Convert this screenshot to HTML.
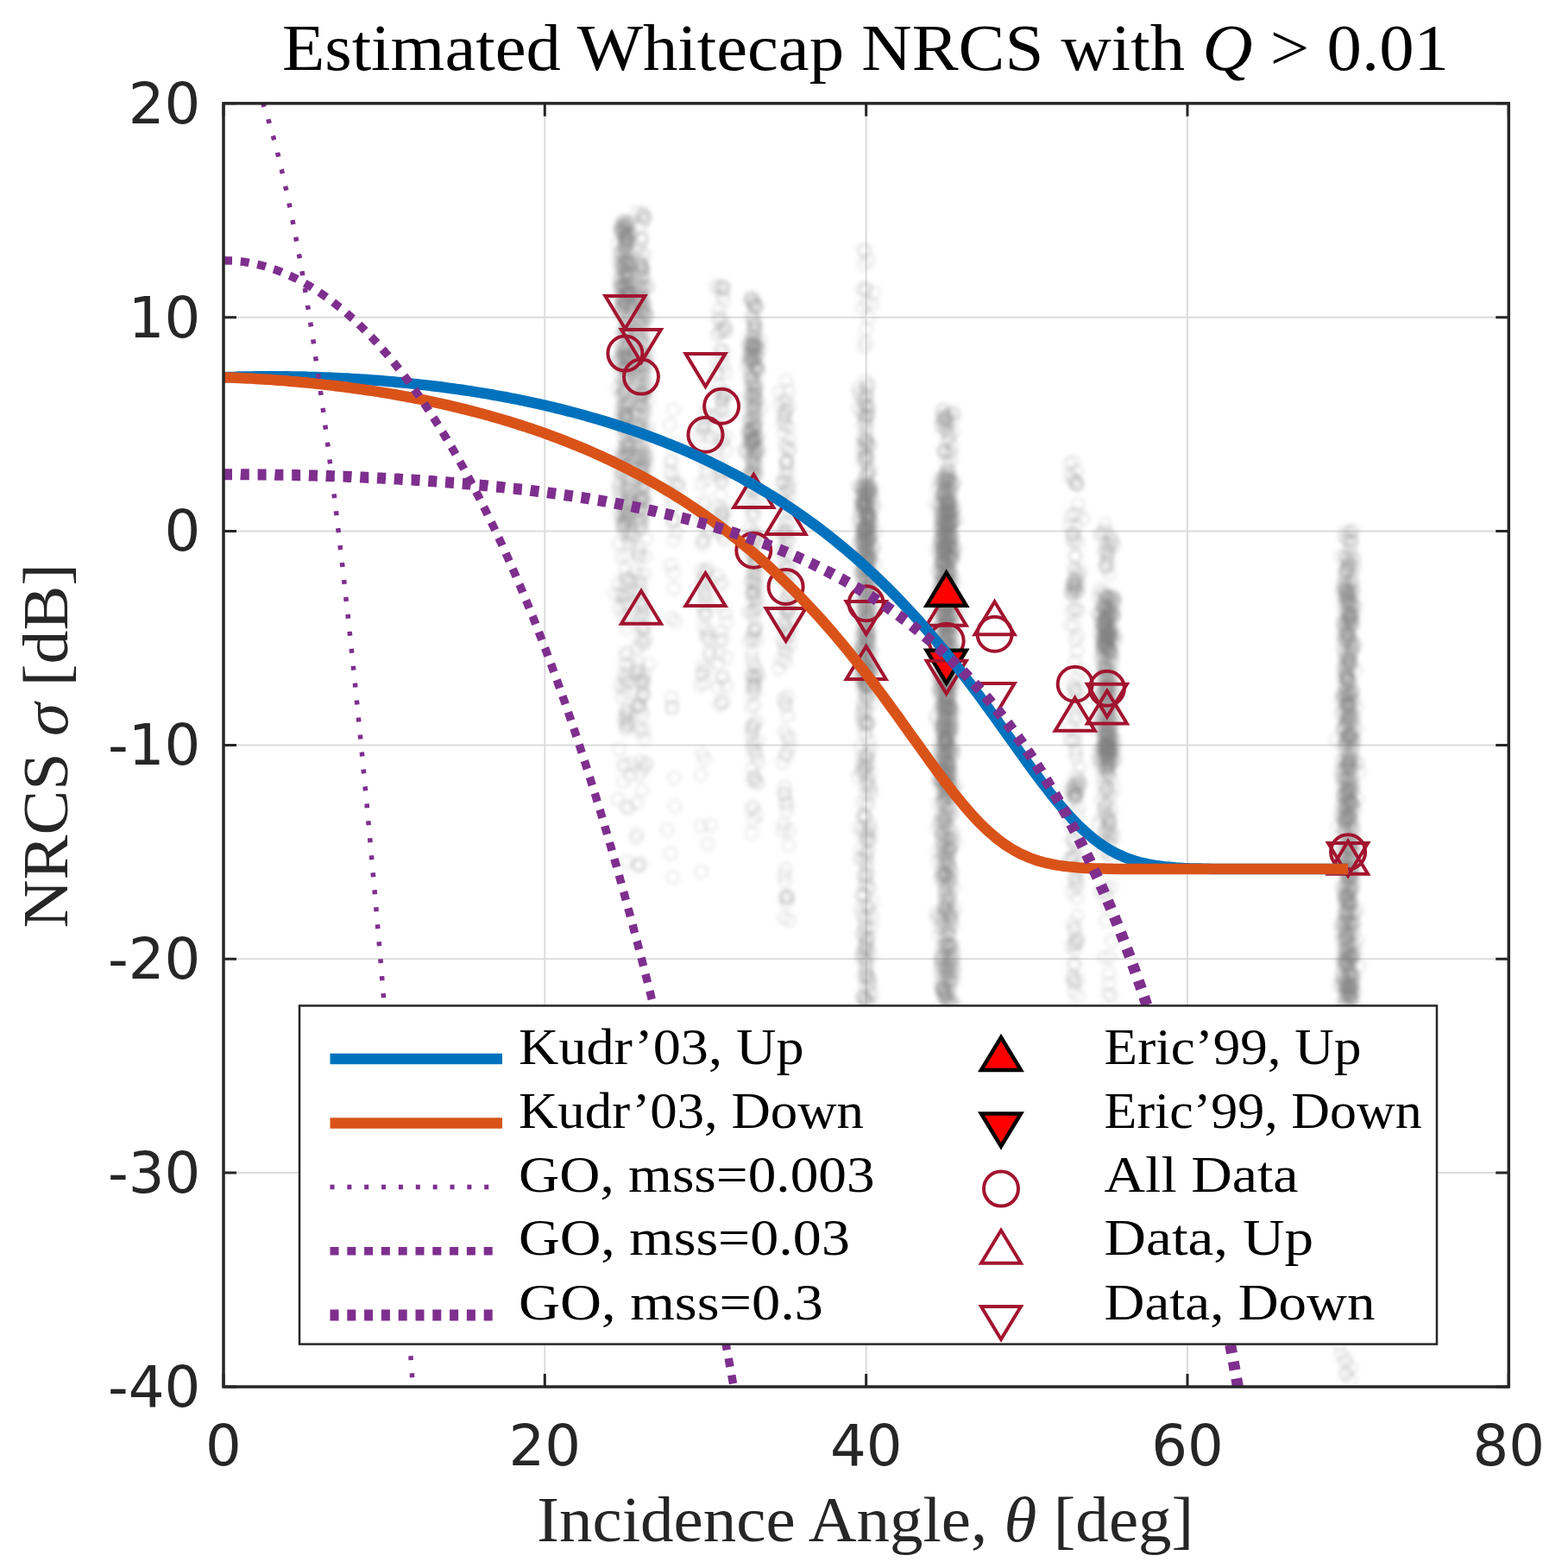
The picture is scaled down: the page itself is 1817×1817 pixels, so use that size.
<!DOCTYPE html><html><head><meta charset="utf-8"><title>Estimated Whitecap NRCS</title><style>html,body{margin:0;padding:0;background:#fff}svg{display:block}</style></head><body>
<svg width="1817" height="1817" viewBox="0 0 1817 1817">
<rect width="1817" height="1817" fill="#fff"/>
<defs><clipPath id="ax"><rect x="259" y="119.8" width="1489.3" height="1487.2"/></clipPath></defs>
<path d="M631.3 119.8V1607M1003.7 119.8V1607M1376 119.8V1607M259 367.7H1748.3M259 615.5H1748.3M259 863.4H1748.3M259 1111.3H1748.3M259 1359.1H1748.3" stroke="#dcdcdc" stroke-width="2" fill="none"/>
<defs><filter id="bl" x="-5%" y="-5%" width="110%" height="110%"><feGaussianBlur stdDeviation="2.2"/></filter></defs>
<g clip-path="url(#ax)"><g filter="url(#bl)" fill="none" stroke="#808080" stroke-opacity="0.11" stroke-width="4"><circle cx="723.5" cy="317.2" r="7"/><circle cx="726.2" cy="262.8" r="7"/><circle cx="721.2" cy="261.5" r="7"/><circle cx="723.7" cy="303.7" r="7"/><circle cx="728" cy="262.6" r="7"/><circle cx="725.3" cy="264.5" r="7"/><circle cx="718.6" cy="267.6" r="7"/><circle cx="727.4" cy="277" r="7"/><circle cx="718.5" cy="310.2" r="7"/><circle cx="718.3" cy="293.3" r="7"/><circle cx="725.5" cy="336.7" r="7"/><circle cx="724.2" cy="283.2" r="7"/><circle cx="725.5" cy="285" r="7"/><circle cx="725.8" cy="332.7" r="7"/><circle cx="726.4" cy="316.1" r="7"/><circle cx="728.6" cy="291" r="7"/><circle cx="723.2" cy="261.6" r="7"/><circle cx="724" cy="275.4" r="7"/><circle cx="722.8" cy="285.5" r="7"/><circle cx="721.1" cy="311" r="7"/><circle cx="721.6" cy="330.7" r="7"/><circle cx="725.3" cy="321.7" r="7"/><circle cx="724.6" cy="305.4" r="7"/><circle cx="729" cy="338.3" r="7"/><circle cx="724" cy="348.1" r="7"/><circle cx="721.5" cy="267.1" r="7"/><circle cx="719.3" cy="270.3" r="7"/><circle cx="727.3" cy="302" r="7"/><circle cx="729.4" cy="327.9" r="7"/><circle cx="725.7" cy="309.9" r="7"/><circle cx="726.6" cy="321.4" r="7"/><circle cx="722.3" cy="311.9" r="7"/><circle cx="721" cy="335" r="7"/><circle cx="722.5" cy="344.8" r="7"/><circle cx="719.3" cy="261.7" r="7"/><circle cx="725.2" cy="321.9" r="7"/><circle cx="717.8" cy="333.3" r="7"/><circle cx="715.6" cy="282.8" r="7"/><circle cx="720.5" cy="258.1" r="7"/><circle cx="727.8" cy="299.4" r="7"/><circle cx="725.3" cy="261.5" r="7"/><circle cx="725.9" cy="328.2" r="7"/><circle cx="726.2" cy="292.7" r="7"/><circle cx="726.3" cy="337.9" r="7"/><circle cx="727.7" cy="307.6" r="7"/><circle cx="726.3" cy="339" r="7"/><circle cx="727.4" cy="282.2" r="7"/><circle cx="718.1" cy="295" r="7"/><circle cx="719.8" cy="346" r="7"/><circle cx="730" cy="270.2" r="7"/><circle cx="725.5" cy="277.9" r="7"/><circle cx="726.7" cy="301.6" r="7"/><circle cx="722.1" cy="256.4" r="7"/><circle cx="723" cy="295.4" r="7"/><circle cx="721.3" cy="345.6" r="7"/><circle cx="727.7" cy="320.9" r="7"/><circle cx="719.6" cy="319.6" r="7"/><circle cx="723.9" cy="261.1" r="7"/><circle cx="729.3" cy="338.2" r="7"/><circle cx="720.8" cy="331" r="7"/><circle cx="721.7" cy="265.7" r="7"/><circle cx="726.6" cy="315.6" r="7"/><circle cx="725.6" cy="275.6" r="7"/><circle cx="724.9" cy="271.3" r="7"/><circle cx="723.8" cy="256" r="7"/><circle cx="725.4" cy="270.2" r="7"/><circle cx="727.1" cy="258.4" r="7"/><circle cx="726.4" cy="338.2" r="7"/><circle cx="722.9" cy="279.7" r="7"/><circle cx="723.1" cy="288.7" r="7"/><circle cx="723.2" cy="335.8" r="7"/><circle cx="725.8" cy="349.4" r="7"/><circle cx="720.5" cy="264.1" r="7"/><circle cx="725.3" cy="265.6" r="7"/><circle cx="722.9" cy="333.9" r="7"/><circle cx="726.7" cy="271.2" r="7"/><circle cx="732.9" cy="305.7" r="7"/><circle cx="725.6" cy="269.8" r="7"/><circle cx="723.6" cy="305.6" r="7"/><circle cx="724.2" cy="348" r="7"/><circle cx="727.9" cy="280.5" r="7"/><circle cx="720.3" cy="290.5" r="7"/><circle cx="727.4" cy="306.1" r="7"/><circle cx="729.6" cy="329.2" r="7"/><circle cx="723.2" cy="332.3" r="7"/><circle cx="726.6" cy="348.6" r="7"/><circle cx="728.2" cy="332.9" r="7"/><circle cx="719.3" cy="325.5" r="7"/><circle cx="725" cy="289.4" r="7"/><circle cx="728.6" cy="258.7" r="7"/><circle cx="727.2" cy="280.4" r="7"/><circle cx="724.9" cy="321.1" r="7"/><circle cx="728.1" cy="344.1" r="7"/><circle cx="723.4" cy="348.9" r="7"/><circle cx="727.6" cy="276.7" r="7"/><circle cx="723.5" cy="277.3" r="7"/><circle cx="725.2" cy="314.7" r="7"/><circle cx="726.6" cy="340.6" r="7"/><circle cx="726.6" cy="317.4" r="7"/><circle cx="721" cy="331.2" r="7"/><circle cx="728.8" cy="341.5" r="7"/><circle cx="727" cy="329.5" r="7"/><circle cx="724.4" cy="272.8" r="7"/><circle cx="720.4" cy="330.2" r="7"/><circle cx="721.3" cy="347.3" r="7"/><circle cx="729.9" cy="293.2" r="7"/><circle cx="717.5" cy="324.1" r="7"/><circle cx="729.3" cy="272" r="7"/><circle cx="725.8" cy="341.1" r="7"/><circle cx="725.8" cy="331.8" r="7"/><circle cx="728.4" cy="348.1" r="7"/><circle cx="729.6" cy="317.8" r="7"/><circle cx="721.8" cy="268.3" r="7"/><circle cx="728" cy="257.3" r="7"/><circle cx="729.4" cy="305.5" r="7"/><circle cx="723.5" cy="343.8" r="7"/><circle cx="717.9" cy="333.7" r="7"/><circle cx="727.3" cy="275.8" r="7"/><circle cx="724.4" cy="278.6" r="7"/><circle cx="727.3" cy="311.1" r="7"/><circle cx="724.2" cy="268.3" r="7"/><circle cx="728" cy="341.5" r="7"/><circle cx="722.1" cy="310.8" r="7"/><circle cx="727.5" cy="341" r="7"/><circle cx="717.5" cy="303.2" r="7"/><circle cx="728.1" cy="306" r="7"/><circle cx="723.7" cy="297.4" r="7"/><circle cx="724.3" cy="273.2" r="7"/><circle cx="730.7" cy="272.2" r="7"/><circle cx="724.6" cy="300.5" r="7"/><circle cx="723.7" cy="286.6" r="7"/><circle cx="720" cy="304.7" r="7"/><circle cx="718.6" cy="266" r="7"/><circle cx="722.3" cy="308.7" r="7"/><circle cx="724.4" cy="328.6" r="7"/><circle cx="727.2" cy="303.7" r="7"/><circle cx="718.9" cy="341.8" r="7"/><circle cx="722.2" cy="297.7" r="7"/><circle cx="721.2" cy="304.1" r="7"/><circle cx="721.7" cy="321.1" r="7"/><circle cx="720.3" cy="474.3" r="7"/><circle cx="725.7" cy="594.8" r="7"/><circle cx="722.2" cy="595" r="7"/><circle cx="717.6" cy="417.5" r="7"/><circle cx="716.6" cy="568.4" r="7"/><circle cx="721.3" cy="385.7" r="7"/><circle cx="727.1" cy="368.9" r="7"/><circle cx="727" cy="412.6" r="7"/><circle cx="729.1" cy="553.8" r="7"/><circle cx="726.7" cy="583.2" r="7"/><circle cx="727.5" cy="521.7" r="7"/><circle cx="729" cy="387.2" r="7"/><circle cx="731.2" cy="407.1" r="7"/><circle cx="718.3" cy="597.7" r="7"/><circle cx="721.2" cy="607.4" r="7"/><circle cx="726.8" cy="566.4" r="7"/><circle cx="726.4" cy="484.1" r="7"/><circle cx="727.6" cy="438.2" r="7"/><circle cx="725.4" cy="537.8" r="7"/><circle cx="727.3" cy="355.1" r="7"/><circle cx="720.8" cy="354.7" r="7"/><circle cx="723.1" cy="436.2" r="7"/><circle cx="721.4" cy="366.7" r="7"/><circle cx="721.5" cy="606.1" r="7"/><circle cx="726.6" cy="377.2" r="7"/><circle cx="715.3" cy="419" r="7"/><circle cx="730.3" cy="420.3" r="7"/><circle cx="725.9" cy="383.7" r="7"/><circle cx="717.6" cy="562.9" r="7"/><circle cx="728" cy="417.2" r="7"/><circle cx="729" cy="498.4" r="7"/><circle cx="730.7" cy="532.1" r="7"/><circle cx="725.4" cy="528.9" r="7"/><circle cx="725" cy="460.6" r="7"/><circle cx="731.8" cy="515" r="7"/><circle cx="728" cy="558.4" r="7"/><circle cx="730.4" cy="367.3" r="7"/><circle cx="727.9" cy="574.3" r="7"/><circle cx="721.4" cy="493.8" r="7"/><circle cx="725.3" cy="590.9" r="7"/><circle cx="724.2" cy="487" r="7"/><circle cx="726.2" cy="412" r="7"/><circle cx="726" cy="363.1" r="7"/><circle cx="725.7" cy="402.5" r="7"/><circle cx="723.3" cy="547.5" r="7"/><circle cx="727.2" cy="425.4" r="7"/><circle cx="722.2" cy="440.2" r="7"/><circle cx="724.4" cy="354.7" r="7"/><circle cx="724.4" cy="540.6" r="7"/><circle cx="725" cy="493.3" r="7"/><circle cx="725.9" cy="593" r="7"/><circle cx="728.1" cy="377.6" r="7"/><circle cx="726" cy="478.7" r="7"/><circle cx="721" cy="567" r="7"/><circle cx="721.1" cy="528.8" r="7"/><circle cx="727" cy="605.4" r="7"/><circle cx="720.8" cy="533.7" r="7"/><circle cx="729.9" cy="515.4" r="7"/><circle cx="721.7" cy="364.1" r="7"/><circle cx="726.2" cy="383.8" r="7"/><circle cx="729.6" cy="416.5" r="7"/><circle cx="726.9" cy="392.4" r="7"/><circle cx="730.2" cy="576.3" r="7"/><circle cx="727.8" cy="524.3" r="7"/><circle cx="723.9" cy="426.2" r="7"/><circle cx="727" cy="469.5" r="7"/><circle cx="726.5" cy="418.4" r="7"/><circle cx="727.6" cy="600.1" r="7"/><circle cx="728.7" cy="413.6" r="7"/><circle cx="723.7" cy="601.1" r="7"/><circle cx="723.2" cy="350.3" r="7"/><circle cx="727.5" cy="449.2" r="7"/><circle cx="720.3" cy="402.3" r="7"/><circle cx="725.1" cy="481.2" r="7"/><circle cx="727.1" cy="373.3" r="7"/><circle cx="724.5" cy="453.9" r="7"/><circle cx="725.1" cy="429.1" r="7"/><circle cx="724.6" cy="410.5" r="7"/><circle cx="720.7" cy="545.1" r="7"/><circle cx="722.2" cy="521" r="7"/><circle cx="722.9" cy="451.3" r="7"/><circle cx="717.4" cy="434.8" r="7"/><circle cx="726.4" cy="538.3" r="7"/><circle cx="724.2" cy="517.2" r="7"/><circle cx="730.8" cy="581.9" r="7"/><circle cx="726.2" cy="513.1" r="7"/><circle cx="723.8" cy="386.2" r="7"/><circle cx="718" cy="486.2" r="7"/><circle cx="717.8" cy="559.2" r="7"/><circle cx="724.2" cy="564.9" r="7"/><circle cx="718" cy="527.6" r="7"/><circle cx="720.7" cy="530.3" r="7"/><circle cx="724.5" cy="384.6" r="7"/><circle cx="725.3" cy="443.8" r="7"/><circle cx="729.7" cy="495.2" r="7"/><circle cx="728.5" cy="513.2" r="7"/><circle cx="720.7" cy="477.2" r="7"/><circle cx="720.6" cy="350.9" r="7"/><circle cx="726.1" cy="480.8" r="7"/><circle cx="718.9" cy="489.2" r="7"/><circle cx="723.7" cy="541.6" r="7"/><circle cx="723.3" cy="415.6" r="7"/><circle cx="726.9" cy="539.6" r="7"/><circle cx="725.6" cy="403.4" r="7"/><circle cx="723.8" cy="478.4" r="7"/><circle cx="714.9" cy="449.5" r="7"/><circle cx="719.1" cy="549.4" r="7"/><circle cx="725.1" cy="510.4" r="7"/><circle cx="723.5" cy="388.3" r="7"/><circle cx="723.3" cy="416" r="7"/><circle cx="724.3" cy="497.6" r="7"/><circle cx="721.4" cy="353.2" r="7"/><circle cx="727" cy="524.7" r="7"/><circle cx="725.4" cy="530" r="7"/><circle cx="723.1" cy="484.3" r="7"/><circle cx="721.8" cy="470.8" r="7"/><circle cx="722.7" cy="582.4" r="7"/><circle cx="724.8" cy="401.8" r="7"/><circle cx="732.5" cy="354.6" r="7"/><circle cx="723.3" cy="469.3" r="7"/><circle cx="728.3" cy="466.9" r="7"/><circle cx="716.1" cy="419.9" r="7"/><circle cx="726.5" cy="404.8" r="7"/><circle cx="732.6" cy="501.2" r="7"/><circle cx="727.1" cy="597.7" r="7"/><circle cx="727.7" cy="384.5" r="7"/><circle cx="726.2" cy="580.6" r="7"/><circle cx="720.6" cy="532.9" r="7"/><circle cx="725.3" cy="476.4" r="7"/><circle cx="731.8" cy="356.5" r="7"/><circle cx="728.5" cy="467.2" r="7"/><circle cx="724.5" cy="428.5" r="7"/><circle cx="726.4" cy="432.2" r="7"/><circle cx="726.9" cy="568.5" r="7"/><circle cx="730.2" cy="568.2" r="7"/><circle cx="724.5" cy="381.2" r="7"/><circle cx="729.4" cy="584.4" r="7"/><circle cx="721.9" cy="425.4" r="7"/><circle cx="722" cy="609.7" r="7"/><circle cx="726.9" cy="503.2" r="7"/><circle cx="722" cy="421.5" r="7"/><circle cx="727.2" cy="362.5" r="7"/><circle cx="729.7" cy="424.3" r="7"/><circle cx="728.4" cy="593.3" r="7"/><circle cx="724.4" cy="482.9" r="7"/><circle cx="727.2" cy="399.4" r="7"/><circle cx="718.3" cy="579.9" r="7"/><circle cx="730.7" cy="561.1" r="7"/><circle cx="719.1" cy="594.6" r="7"/><circle cx="718.7" cy="492.8" r="7"/><circle cx="724.2" cy="540.4" r="7"/><circle cx="723.3" cy="467.2" r="7"/><circle cx="724.5" cy="424.4" r="7"/><circle cx="719.4" cy="362.7" r="7"/><circle cx="726" cy="472.8" r="7"/><circle cx="723.6" cy="439.4" r="7"/><circle cx="722.7" cy="603.8" r="7"/><circle cx="729.9" cy="417.6" r="7"/><circle cx="722.8" cy="494.9" r="7"/><circle cx="721.9" cy="452.5" r="7"/><circle cx="725.4" cy="404" r="7"/><circle cx="726.2" cy="585.5" r="7"/><circle cx="721.9" cy="585.6" r="7"/><circle cx="724.5" cy="609.1" r="7"/><circle cx="722.6" cy="400" r="7"/><circle cx="725" cy="373.6" r="7"/><circle cx="723.6" cy="412.2" r="7"/><circle cx="725.7" cy="417.2" r="7"/><circle cx="717.8" cy="544.9" r="7"/><circle cx="721.3" cy="457.3" r="7"/><circle cx="720.7" cy="448" r="7"/><circle cx="726.6" cy="437.9" r="7"/><circle cx="727" cy="601.6" r="7"/><circle cx="725.5" cy="382.7" r="7"/><circle cx="719.5" cy="574.3" r="7"/><circle cx="724.3" cy="406.2" r="7"/><circle cx="724.1" cy="453.9" r="7"/><circle cx="727" cy="465.9" r="7"/><circle cx="730.9" cy="577" r="7"/><circle cx="722.5" cy="355.7" r="7"/><circle cx="729.8" cy="582.9" r="7"/><circle cx="725.5" cy="473" r="7"/><circle cx="724.3" cy="451.8" r="7"/><circle cx="724.4" cy="591" r="7"/><circle cx="727.6" cy="602.8" r="7"/><circle cx="718.3" cy="414.6" r="7"/><circle cx="726" cy="485.8" r="7"/><circle cx="725.7" cy="527.3" r="7"/><circle cx="729.6" cy="518.3" r="7"/><circle cx="722.4" cy="548.8" r="7"/><circle cx="720.1" cy="360.3" r="7"/><circle cx="725.6" cy="553.4" r="7"/><circle cx="725.3" cy="517.8" r="7"/><circle cx="732.2" cy="429" r="7"/><circle cx="726.3" cy="515.4" r="7"/><circle cx="726.3" cy="531.6" r="7"/><circle cx="725.4" cy="486.4" r="7"/><circle cx="725.3" cy="501.6" r="7"/><circle cx="722.5" cy="506.3" r="7"/><circle cx="726" cy="352.7" r="7"/><circle cx="723.2" cy="599.3" r="7"/><circle cx="728.1" cy="517.6" r="7"/><circle cx="727.4" cy="411" r="7"/><circle cx="721.8" cy="414.2" r="7"/><circle cx="729.7" cy="429.9" r="7"/><circle cx="723.1" cy="355.7" r="7"/><circle cx="719.2" cy="459.2" r="7"/><circle cx="724.5" cy="416.9" r="7"/><circle cx="720.5" cy="409" r="7"/><circle cx="717.5" cy="358.9" r="7"/><circle cx="722.5" cy="527.5" r="7"/><circle cx="727.5" cy="401.5" r="7"/><circle cx="726.1" cy="481.3" r="7"/><circle cx="718.9" cy="403.4" r="7"/><circle cx="727.4" cy="563.2" r="7"/><circle cx="723.8" cy="410" r="7"/><circle cx="725.5" cy="426.7" r="7"/><circle cx="730.2" cy="597.5" r="7"/><circle cx="722.2" cy="408.1" r="7"/><circle cx="724.5" cy="458.4" r="7"/><circle cx="720.1" cy="645.1" r="7"/><circle cx="717.1" cy="704.4" r="7"/><circle cx="726.6" cy="644.1" r="7"/><circle cx="733.6" cy="622.4" r="7"/><circle cx="727.7" cy="825.6" r="7"/><circle cx="725.7" cy="822.1" r="7"/><circle cx="723.1" cy="833.6" r="7"/><circle cx="712.3" cy="689" r="7"/><circle cx="727.6" cy="789.1" r="7"/><circle cx="731.9" cy="617.7" r="7"/><circle cx="722.7" cy="699.7" r="7"/><circle cx="721.5" cy="689.6" r="7"/><circle cx="724.5" cy="677.2" r="7"/><circle cx="724.6" cy="694.4" r="7"/><circle cx="726.1" cy="841.4" r="7"/><circle cx="723.9" cy="659.8" r="7"/><circle cx="720.4" cy="807.3" r="7"/><circle cx="729.5" cy="713.8" r="7"/><circle cx="728.2" cy="699.5" r="7"/><circle cx="725.6" cy="830.7" r="7"/><circle cx="725.6" cy="825.3" r="7"/><circle cx="727.5" cy="617.3" r="7"/><circle cx="719" cy="794" r="7"/><circle cx="727.8" cy="619.8" r="7"/><circle cx="725.6" cy="830.8" r="7"/><circle cx="724.7" cy="671.7" r="7"/><circle cx="724.3" cy="691.4" r="7"/><circle cx="716.9" cy="675.4" r="7"/><circle cx="729.1" cy="672.9" r="7"/><circle cx="723.1" cy="782" r="7"/><circle cx="723.3" cy="610.9" r="7"/><circle cx="727" cy="791.4" r="7"/><circle cx="728.7" cy="836.4" r="7"/><circle cx="721.9" cy="615.8" r="7"/><circle cx="724.8" cy="839.6" r="7"/><circle cx="728.4" cy="838.9" r="7"/><circle cx="722.4" cy="713.2" r="7"/><circle cx="726.1" cy="728.4" r="7"/><circle cx="726.4" cy="802.6" r="7"/><circle cx="723.4" cy="787.2" r="7"/><circle cx="727.1" cy="755.7" r="7"/><circle cx="719" cy="688.7" r="7"/><circle cx="723" cy="797.7" r="7"/><circle cx="727.4" cy="629" r="7"/><circle cx="726.3" cy="669.4" r="7"/><circle cx="729.9" cy="625.5" r="7"/><circle cx="728.7" cy="688.2" r="7"/><circle cx="725.3" cy="845.3" r="7"/><circle cx="732.1" cy="673.6" r="7"/><circle cx="717.5" cy="630.2" r="7"/><circle cx="727.8" cy="780.3" r="7"/><circle cx="726.7" cy="717.3" r="7"/><circle cx="724.8" cy="758.9" r="7"/><circle cx="728" cy="771.8" r="7"/><circle cx="724.3" cy="769.5" r="7"/><circle cx="717.6" cy="868.2" r="7"/><circle cx="726" cy="935" r="7"/><circle cx="722" cy="905.9" r="7"/><circle cx="724.2" cy="887.1" r="7"/><circle cx="722.1" cy="886.8" r="7"/><circle cx="728.6" cy="936.7" r="7"/><circle cx="730.4" cy="899" r="7"/><circle cx="715.7" cy="926.1" r="7"/><circle cx="731.1" cy="884.7" r="7"/><circle cx="726.2" cy="998.6" r="7"/><circle cx="738.3" cy="246.1" r="7"/><circle cx="736.6" cy="290.4" r="7"/><circle cx="744" cy="294.9" r="7"/><circle cx="745.8" cy="247.2" r="7"/><circle cx="743.8" cy="251.4" r="7"/><circle cx="747.6" cy="295.8" r="7"/><circle cx="742.2" cy="262.3" r="7"/><circle cx="745.6" cy="255.6" r="7"/><circle cx="740.2" cy="286.7" r="7"/><circle cx="744.6" cy="275.8" r="7"/><circle cx="742.5" cy="277.2" r="7"/><circle cx="743.7" cy="248.5" r="7"/><circle cx="746.3" cy="252.2" r="7"/><circle cx="742.9" cy="279.1" r="7"/><circle cx="747.8" cy="252.2" r="7"/><circle cx="746.1" cy="510.3" r="7"/><circle cx="743.2" cy="357.4" r="7"/><circle cx="742.1" cy="546.5" r="7"/><circle cx="745.2" cy="469.9" r="7"/><circle cx="744.5" cy="422.5" r="7"/><circle cx="743.6" cy="470.5" r="7"/><circle cx="742" cy="350.7" r="7"/><circle cx="741.8" cy="515.6" r="7"/><circle cx="740.6" cy="395.4" r="7"/><circle cx="744.6" cy="595.5" r="7"/><circle cx="741.3" cy="410.7" r="7"/><circle cx="747.2" cy="429.1" r="7"/><circle cx="750.8" cy="412.8" r="7"/><circle cx="734.1" cy="361.1" r="7"/><circle cx="742.7" cy="301.8" r="7"/><circle cx="740.7" cy="579.5" r="7"/><circle cx="737.3" cy="425.9" r="7"/><circle cx="746" cy="573.7" r="7"/><circle cx="741" cy="304.6" r="7"/><circle cx="743.5" cy="471" r="7"/><circle cx="738.2" cy="327.6" r="7"/><circle cx="737.1" cy="492.9" r="7"/><circle cx="740.2" cy="345.2" r="7"/><circle cx="746" cy="387.8" r="7"/><circle cx="735.1" cy="333.7" r="7"/><circle cx="742" cy="452.1" r="7"/><circle cx="746.1" cy="361.2" r="7"/><circle cx="734.4" cy="339.3" r="7"/><circle cx="752" cy="449.6" r="7"/><circle cx="739.7" cy="316.5" r="7"/><circle cx="746.1" cy="580.3" r="7"/><circle cx="741.5" cy="492.3" r="7"/><circle cx="744" cy="543.6" r="7"/><circle cx="741.2" cy="368.8" r="7"/><circle cx="737.4" cy="557" r="7"/><circle cx="746.8" cy="356.7" r="7"/><circle cx="743.7" cy="460.5" r="7"/><circle cx="746.5" cy="418.9" r="7"/><circle cx="744.9" cy="524.7" r="7"/><circle cx="744.9" cy="578.2" r="7"/><circle cx="747.4" cy="534.8" r="7"/><circle cx="744.2" cy="311.8" r="7"/><circle cx="743.9" cy="485.9" r="7"/><circle cx="741.5" cy="470.5" r="7"/><circle cx="740.9" cy="430.2" r="7"/><circle cx="740.9" cy="480.6" r="7"/><circle cx="738.4" cy="438.5" r="7"/><circle cx="745.3" cy="435.9" r="7"/><circle cx="747.8" cy="451.7" r="7"/><circle cx="743.7" cy="372.9" r="7"/><circle cx="743.5" cy="442.1" r="7"/><circle cx="737" cy="355.7" r="7"/><circle cx="741.4" cy="339.8" r="7"/><circle cx="743.3" cy="433.5" r="7"/><circle cx="746.2" cy="458.1" r="7"/><circle cx="745.1" cy="312.6" r="7"/><circle cx="742.1" cy="527.4" r="7"/><circle cx="741.9" cy="541.1" r="7"/><circle cx="741.9" cy="456.2" r="7"/><circle cx="742.9" cy="417.1" r="7"/><circle cx="744.8" cy="565.7" r="7"/><circle cx="742.4" cy="608.8" r="7"/><circle cx="742.3" cy="360" r="7"/><circle cx="736.6" cy="604.3" r="7"/><circle cx="734.3" cy="584" r="7"/><circle cx="743.5" cy="351.2" r="7"/><circle cx="745" cy="320.3" r="7"/><circle cx="735.2" cy="408.8" r="7"/><circle cx="743.1" cy="577.9" r="7"/><circle cx="741" cy="385.2" r="7"/><circle cx="743.8" cy="455.7" r="7"/><circle cx="741.2" cy="585.2" r="7"/><circle cx="743.7" cy="456.9" r="7"/><circle cx="745.7" cy="398.9" r="7"/><circle cx="745.2" cy="350" r="7"/><circle cx="743.5" cy="590.3" r="7"/><circle cx="739.8" cy="352.3" r="7"/><circle cx="736.3" cy="543.3" r="7"/><circle cx="746.3" cy="497.3" r="7"/><circle cx="745.9" cy="411.5" r="7"/><circle cx="746.1" cy="479.8" r="7"/><circle cx="739.8" cy="573.6" r="7"/><circle cx="751.7" cy="495.2" r="7"/><circle cx="749.8" cy="422.2" r="7"/><circle cx="743.8" cy="607.1" r="7"/><circle cx="740.4" cy="479" r="7"/><circle cx="739.2" cy="437.1" r="7"/><circle cx="747.6" cy="354.8" r="7"/><circle cx="743" cy="554.1" r="7"/><circle cx="741.9" cy="378.6" r="7"/><circle cx="736.6" cy="481.6" r="7"/><circle cx="735.3" cy="505.7" r="7"/><circle cx="742.9" cy="310.5" r="7"/><circle cx="743.2" cy="346.3" r="7"/><circle cx="740.2" cy="458.9" r="7"/><circle cx="740.5" cy="577.6" r="7"/><circle cx="744.7" cy="502.5" r="7"/><circle cx="744.9" cy="306.9" r="7"/><circle cx="746.3" cy="333" r="7"/><circle cx="743.1" cy="410.7" r="7"/><circle cx="743.8" cy="482.6" r="7"/><circle cx="747.6" cy="363.3" r="7"/><circle cx="740.2" cy="341.8" r="7"/><circle cx="740.2" cy="590.3" r="7"/><circle cx="743.1" cy="329.7" r="7"/><circle cx="745" cy="497.8" r="7"/><circle cx="747.2" cy="424.6" r="7"/><circle cx="738.6" cy="381.9" r="7"/><circle cx="748" cy="474.3" r="7"/><circle cx="743.4" cy="408.6" r="7"/><circle cx="740.7" cy="590.5" r="7"/><circle cx="740" cy="527.4" r="7"/><circle cx="743.1" cy="313.6" r="7"/><circle cx="750.6" cy="464.8" r="7"/><circle cx="740.9" cy="318.1" r="7"/><circle cx="744.5" cy="541.5" r="7"/><circle cx="747.4" cy="591.7" r="7"/><circle cx="743.4" cy="344.1" r="7"/><circle cx="744.5" cy="457.2" r="7"/><circle cx="747.6" cy="498.9" r="7"/><circle cx="743.9" cy="395.9" r="7"/><circle cx="741" cy="393.1" r="7"/><circle cx="750" cy="542.7" r="7"/><circle cx="745.2" cy="521.8" r="7"/><circle cx="749.8" cy="531" r="7"/><circle cx="743.3" cy="444.2" r="7"/><circle cx="742.8" cy="370" r="7"/><circle cx="739.2" cy="332.6" r="7"/><circle cx="743.1" cy="404" r="7"/><circle cx="744" cy="532.4" r="7"/><circle cx="740.7" cy="520.6" r="7"/><circle cx="736.7" cy="382.5" r="7"/><circle cx="739.5" cy="544.4" r="7"/><circle cx="741.8" cy="462.2" r="7"/><circle cx="742.5" cy="599.2" r="7"/><circle cx="748" cy="367.3" r="7"/><circle cx="743.5" cy="380.7" r="7"/><circle cx="742.6" cy="373.2" r="7"/><circle cx="742.7" cy="531.3" r="7"/><circle cx="734.6" cy="401.3" r="7"/><circle cx="745.3" cy="374.1" r="7"/><circle cx="740.9" cy="581.3" r="7"/><circle cx="739.4" cy="506.2" r="7"/><circle cx="739.1" cy="603.5" r="7"/><circle cx="736.4" cy="516.3" r="7"/><circle cx="744.3" cy="565.8" r="7"/><circle cx="737.8" cy="476.8" r="7"/><circle cx="745.2" cy="395.4" r="7"/><circle cx="744.2" cy="324.1" r="7"/><circle cx="747.8" cy="582.3" r="7"/><circle cx="743.5" cy="333.1" r="7"/><circle cx="743.7" cy="588" r="7"/><circle cx="741.9" cy="308.9" r="7"/><circle cx="744.6" cy="312.9" r="7"/><circle cx="741.3" cy="516.1" r="7"/><circle cx="738.4" cy="528.4" r="7"/><circle cx="747.3" cy="412.7" r="7"/><circle cx="744.9" cy="553.4" r="7"/><circle cx="746.1" cy="320.4" r="7"/><circle cx="736.3" cy="569" r="7"/><circle cx="750.2" cy="333.2" r="7"/><circle cx="738.7" cy="363.8" r="7"/><circle cx="743.7" cy="562.8" r="7"/><circle cx="743.6" cy="551.7" r="7"/><circle cx="738.7" cy="495.8" r="7"/><circle cx="738.1" cy="389.1" r="7"/><circle cx="744.3" cy="534.8" r="7"/><circle cx="744" cy="363.5" r="7"/><circle cx="741.5" cy="306.5" r="7"/><circle cx="746.4" cy="379.6" r="7"/><circle cx="741.9" cy="414.1" r="7"/><circle cx="748.5" cy="399.5" r="7"/><circle cx="747.1" cy="563.9" r="7"/><circle cx="742.1" cy="491.7" r="7"/><circle cx="746.6" cy="435.3" r="7"/><circle cx="743.7" cy="539.6" r="7"/><circle cx="739.9" cy="466.7" r="7"/><circle cx="747.5" cy="367.1" r="7"/><circle cx="744" cy="554.1" r="7"/><circle cx="741.9" cy="352.8" r="7"/><circle cx="745.4" cy="536.3" r="7"/><circle cx="743" cy="603.1" r="7"/><circle cx="747.1" cy="452.4" r="7"/><circle cx="743.1" cy="547" r="7"/><circle cx="744.7" cy="407.6" r="7"/><circle cx="746.8" cy="557.9" r="7"/><circle cx="742.5" cy="388" r="7"/><circle cx="751.4" cy="366.6" r="7"/><circle cx="741.7" cy="334.1" r="7"/><circle cx="739.1" cy="497.3" r="7"/><circle cx="748.4" cy="516.1" r="7"/><circle cx="746" cy="543.9" r="7"/><circle cx="740.7" cy="424.4" r="7"/><circle cx="740.7" cy="422.3" r="7"/><circle cx="744.2" cy="575.4" r="7"/><circle cx="742.1" cy="307.8" r="7"/><circle cx="743.8" cy="579.4" r="7"/><circle cx="745.7" cy="455.4" r="7"/><circle cx="737.7" cy="372.4" r="7"/><circle cx="748" cy="442.9" r="7"/><circle cx="737.3" cy="533.4" r="7"/><circle cx="741.9" cy="500.4" r="7"/><circle cx="741.2" cy="348.2" r="7"/><circle cx="745.6" cy="561.4" r="7"/><circle cx="740" cy="352.6" r="7"/><circle cx="738.1" cy="436" r="7"/><circle cx="743.7" cy="339.1" r="7"/><circle cx="738.5" cy="443.2" r="7"/><circle cx="745" cy="359.4" r="7"/><circle cx="741.3" cy="393.5" r="7"/><circle cx="741.1" cy="347.9" r="7"/><circle cx="736.6" cy="348.4" r="7"/><circle cx="743.1" cy="461.9" r="7"/><circle cx="746.1" cy="349.9" r="7"/><circle cx="742" cy="602.3" r="7"/><circle cx="745" cy="525.9" r="7"/><circle cx="750.2" cy="331.5" r="7"/><circle cx="748.4" cy="419.1" r="7"/><circle cx="749.2" cy="527.3" r="7"/><circle cx="742.4" cy="434.8" r="7"/><circle cx="744.7" cy="333.1" r="7"/><circle cx="747.7" cy="364" r="7"/><circle cx="742.3" cy="423.7" r="7"/><circle cx="743.6" cy="545.2" r="7"/><circle cx="741.6" cy="496" r="7"/><circle cx="739.2" cy="443.6" r="7"/><circle cx="746" cy="425.5" r="7"/><circle cx="746.7" cy="529.7" r="7"/><circle cx="746.1" cy="477.9" r="7"/><circle cx="741" cy="532.2" r="7"/><circle cx="740.8" cy="790.6" r="7"/><circle cx="744.2" cy="830" r="7"/><circle cx="743.8" cy="823.1" r="7"/><circle cx="737.7" cy="779.9" r="7"/><circle cx="740.6" cy="688.3" r="7"/><circle cx="740" cy="767.1" r="7"/><circle cx="746" cy="805.6" r="7"/><circle cx="745.1" cy="788.3" r="7"/><circle cx="741.2" cy="715.9" r="7"/><circle cx="741.1" cy="723.8" r="7"/><circle cx="740.4" cy="778.8" r="7"/><circle cx="740.5" cy="842.5" r="7"/><circle cx="745.1" cy="804.5" r="7"/><circle cx="747.7" cy="707.2" r="7"/><circle cx="733.6" cy="619.5" r="7"/><circle cx="743.6" cy="745.8" r="7"/><circle cx="746.3" cy="845.1" r="7"/><circle cx="748.2" cy="739.8" r="7"/><circle cx="746.7" cy="745.3" r="7"/><circle cx="745.7" cy="789.3" r="7"/><circle cx="738" cy="817.2" r="7"/><circle cx="742.6" cy="740.4" r="7"/><circle cx="735.8" cy="662.5" r="7"/><circle cx="747.6" cy="781.1" r="7"/><circle cx="738.4" cy="640.6" r="7"/><circle cx="746.7" cy="856.1" r="7"/><circle cx="742.3" cy="678.6" r="7"/><circle cx="744" cy="709.9" r="7"/><circle cx="746.7" cy="715.1" r="7"/><circle cx="743.3" cy="784.6" r="7"/><circle cx="741.4" cy="666.1" r="7"/><circle cx="745.2" cy="795.4" r="7"/><circle cx="747" cy="664.7" r="7"/><circle cx="741.4" cy="810.4" r="7"/><circle cx="741.1" cy="642.3" r="7"/><circle cx="744.5" cy="804.2" r="7"/><circle cx="744.8" cy="727.3" r="7"/><circle cx="738.4" cy="750.5" r="7"/><circle cx="744.4" cy="698.3" r="7"/><circle cx="751.9" cy="769.7" r="7"/><circle cx="745.7" cy="727" r="7"/><circle cx="737.2" cy="683.6" r="7"/><circle cx="741.3" cy="818.4" r="7"/><circle cx="742.5" cy="698.7" r="7"/><circle cx="744.7" cy="704" r="7"/><circle cx="740.8" cy="673.4" r="7"/><circle cx="741" cy="610.7" r="7"/><circle cx="744" cy="790.4" r="7"/><circle cx="742.5" cy="685.5" r="7"/><circle cx="745.6" cy="729.9" r="7"/><circle cx="738.5" cy="774.8" r="7"/><circle cx="745.2" cy="700.6" r="7"/><circle cx="749.2" cy="624.3" r="7"/><circle cx="740" cy="817" r="7"/><circle cx="748.1" cy="645.1" r="7"/><circle cx="739.6" cy="817.8" r="7"/><circle cx="742.6" cy="612.9" r="7"/><circle cx="742.6" cy="847.9" r="7"/><circle cx="741.5" cy="635.4" r="7"/><circle cx="740.8" cy="645.7" r="7"/><circle cx="743.6" cy="915.4" r="7"/><circle cx="749" cy="884.4" r="7"/><circle cx="748.1" cy="886.9" r="7"/><circle cx="739.5" cy="1002.6" r="7"/><circle cx="738.3" cy="967" r="7"/><circle cx="739.2" cy="1003" r="7"/><circle cx="744.6" cy="891.6" r="7"/><circle cx="736.5" cy="970.8" r="7"/><circle cx="737.4" cy="930.2" r="7"/><circle cx="741.9" cy="1001.2" r="7"/><circle cx="740.4" cy="897.5" r="7"/><circle cx="742.1" cy="882.3" r="7"/><circle cx="779.4" cy="559.8" r="7"/><circle cx="780.3" cy="475" r="7"/><circle cx="777.3" cy="578.9" r="7"/><circle cx="780.4" cy="663.9" r="7"/><circle cx="785" cy="560.1" r="7"/><circle cx="780.5" cy="585" r="7"/><circle cx="777.8" cy="535.6" r="7"/><circle cx="776.1" cy="547.1" r="7"/><circle cx="781.2" cy="604.5" r="7"/><circle cx="780" cy="604.3" r="7"/><circle cx="783.6" cy="616.5" r="7"/><circle cx="780.9" cy="682" r="7"/><circle cx="776.8" cy="571.3" r="7"/><circle cx="786.4" cy="564.5" r="7"/><circle cx="780.8" cy="625.9" r="7"/><circle cx="779.9" cy="601.4" r="7"/><circle cx="777.6" cy="533.3" r="7"/><circle cx="784.5" cy="561.8" r="7"/><circle cx="776" cy="492.4" r="7"/><circle cx="779.6" cy="551.5" r="7"/><circle cx="777.4" cy="654.4" r="7"/><circle cx="781.7" cy="514" r="7"/><circle cx="781.4" cy="901.5" r="7"/><circle cx="778" cy="808.7" r="7"/><circle cx="773.5" cy="961.8" r="7"/><circle cx="780" cy="1016.8" r="7"/><circle cx="779.2" cy="819.7" r="7"/><circle cx="782.2" cy="934.6" r="7"/><circle cx="777.4" cy="716" r="7"/><circle cx="777" cy="989.1" r="7"/><circle cx="782.6" cy="719.9" r="7"/><circle cx="778.2" cy="820.2" r="7"/><circle cx="819.4" cy="774.7" r="7"/><circle cx="817.6" cy="674" r="7"/><circle cx="814.6" cy="771" r="7"/><circle cx="813.1" cy="675" r="7"/><circle cx="814.4" cy="702.2" r="7"/><circle cx="814.7" cy="670" r="7"/><circle cx="816.6" cy="692.8" r="7"/><circle cx="815.6" cy="625.4" r="7"/><circle cx="817.6" cy="536.4" r="7"/><circle cx="816.1" cy="489.9" r="7"/><circle cx="818.5" cy="689.1" r="7"/><circle cx="810.9" cy="596.8" r="7"/><circle cx="819.8" cy="659" r="7"/><circle cx="812.8" cy="561.1" r="7"/><circle cx="816.5" cy="580.5" r="7"/><circle cx="820.5" cy="616.7" r="7"/><circle cx="813.1" cy="495.6" r="7"/><circle cx="812.1" cy="660.7" r="7"/><circle cx="819" cy="738.9" r="7"/><circle cx="817.9" cy="663.3" r="7"/><circle cx="820.3" cy="482.6" r="7"/><circle cx="815.9" cy="602.7" r="7"/><circle cx="811.6" cy="793.8" r="7"/><circle cx="813.6" cy="631.1" r="7"/><circle cx="816.3" cy="685.5" r="7"/><circle cx="818.2" cy="546.4" r="7"/><circle cx="817.8" cy="479.5" r="7"/><circle cx="817.9" cy="698.2" r="7"/><circle cx="823.1" cy="506.4" r="7"/><circle cx="822.9" cy="758" r="7"/><circle cx="817.9" cy="709.6" r="7"/><circle cx="817.9" cy="556" r="7"/><circle cx="817.3" cy="494.1" r="7"/><circle cx="815.6" cy="727.2" r="7"/><circle cx="816.1" cy="713" r="7"/><circle cx="811.7" cy="505.1" r="7"/><circle cx="814.2" cy="626.3" r="7"/><circle cx="814.1" cy="778.2" r="7"/><circle cx="817.3" cy="708.9" r="7"/><circle cx="825.2" cy="481.7" r="7"/><circle cx="821.8" cy="741.2" r="7"/><circle cx="817.9" cy="503.7" r="7"/><circle cx="815.7" cy="531.5" r="7"/><circle cx="822" cy="755.2" r="7"/><circle cx="816.4" cy="596.4" r="7"/><circle cx="817.6" cy="663.1" r="7"/><circle cx="813.3" cy="524.7" r="7"/><circle cx="819.2" cy="734.8" r="7"/><circle cx="814.7" cy="680.8" r="7"/><circle cx="820.8" cy="612.6" r="7"/><circle cx="813.5" cy="782.3" r="7"/><circle cx="821" cy="730.6" r="7"/><circle cx="815.2" cy="497.5" r="7"/><circle cx="816.5" cy="791.6" r="7"/><circle cx="815.9" cy="584.9" r="7"/><circle cx="812.1" cy="957.5" r="7"/><circle cx="823.1" cy="956.3" r="7"/><circle cx="816.7" cy="880.2" r="7"/><circle cx="811.8" cy="897.9" r="7"/><circle cx="820.2" cy="978.1" r="7"/><circle cx="812.4" cy="1009.9" r="7"/><circle cx="813.7" cy="873.7" r="7"/><circle cx="838.4" cy="423.1" r="7"/><circle cx="836.1" cy="462" r="7"/><circle cx="838.6" cy="333" r="7"/><circle cx="830.4" cy="520.5" r="7"/><circle cx="838.4" cy="458.5" r="7"/><circle cx="830.5" cy="387.9" r="7"/><circle cx="839.3" cy="485.3" r="7"/><circle cx="831.7" cy="539.6" r="7"/><circle cx="835.4" cy="454.2" r="7"/><circle cx="837.1" cy="512" r="7"/><circle cx="837.6" cy="543.8" r="7"/><circle cx="840.9" cy="378.5" r="7"/><circle cx="832.6" cy="433.3" r="7"/><circle cx="833.3" cy="372" r="7"/><circle cx="836" cy="510.6" r="7"/><circle cx="841.1" cy="432" r="7"/><circle cx="840.7" cy="506" r="7"/><circle cx="839" cy="378.2" r="7"/><circle cx="830.5" cy="532.8" r="7"/><circle cx="833" cy="446.7" r="7"/><circle cx="832.1" cy="367.8" r="7"/><circle cx="836.7" cy="368.6" r="7"/><circle cx="838.1" cy="409" r="7"/><circle cx="840.3" cy="456.8" r="7"/><circle cx="833.1" cy="358.3" r="7"/><circle cx="838.2" cy="333.6" r="7"/><circle cx="839" cy="348.2" r="7"/><circle cx="836.1" cy="473" r="7"/><circle cx="836.5" cy="464.5" r="7"/><circle cx="834.4" cy="404.7" r="7"/><circle cx="835.5" cy="331" r="7"/><circle cx="836" cy="557.7" r="7"/><circle cx="838.4" cy="457.4" r="7"/><circle cx="833.5" cy="385" r="7"/><circle cx="836.7" cy="547.3" r="7"/><circle cx="833" cy="504.8" r="7"/><circle cx="839.3" cy="383.2" r="7"/><circle cx="829.1" cy="332" r="7"/><circle cx="836.7" cy="342.8" r="7"/><circle cx="837.9" cy="335.1" r="7"/><circle cx="830.4" cy="431.6" r="7"/><circle cx="834" cy="547.5" r="7"/><circle cx="837" cy="464.7" r="7"/><circle cx="835.5" cy="417.2" r="7"/><circle cx="841.6" cy="384" r="7"/><circle cx="841.3" cy="456.8" r="7"/><circle cx="831.3" cy="481.7" r="7"/><circle cx="830.3" cy="416.2" r="7"/><circle cx="834.4" cy="551.9" r="7"/><circle cx="836.7" cy="558" r="7"/><circle cx="836.3" cy="383.6" r="7"/><circle cx="836.9" cy="406.4" r="7"/><circle cx="841.4" cy="521.4" r="7"/><circle cx="832.4" cy="334.1" r="7"/><circle cx="837.2" cy="476.3" r="7"/><circle cx="831.5" cy="796.5" r="7"/><circle cx="837.7" cy="741.2" r="7"/><circle cx="836.7" cy="785.5" r="7"/><circle cx="835" cy="702" r="7"/><circle cx="833.8" cy="741.9" r="7"/><circle cx="838.2" cy="621.7" r="7"/><circle cx="837.7" cy="589.8" r="7"/><circle cx="834.3" cy="617.2" r="7"/><circle cx="836.3" cy="594.4" r="7"/><circle cx="835.9" cy="732.1" r="7"/><circle cx="835.7" cy="606.8" r="7"/><circle cx="842.8" cy="612.9" r="7"/><circle cx="837.6" cy="784.2" r="7"/><circle cx="840.3" cy="593.5" r="7"/><circle cx="831.4" cy="667.3" r="7"/><circle cx="841.8" cy="762.1" r="7"/><circle cx="840.1" cy="710.8" r="7"/><circle cx="833.5" cy="757.5" r="7"/><circle cx="836.9" cy="674.6" r="7"/><circle cx="835" cy="613.2" r="7"/><circle cx="834.9" cy="573.6" r="7"/><circle cx="835.2" cy="594.7" r="7"/><circle cx="832.4" cy="769" r="7"/><circle cx="835.8" cy="597.4" r="7"/><circle cx="839.2" cy="625.1" r="7"/><circle cx="837.5" cy="600.3" r="7"/><circle cx="833.8" cy="677.8" r="7"/><circle cx="833.4" cy="587.4" r="7"/><circle cx="842" cy="794.9" r="7"/><circle cx="842.1" cy="720.4" r="7"/><circle cx="838.3" cy="813.9" r="7"/><circle cx="833.7" cy="817" r="7"/><circle cx="836.5" cy="813.3" r="7"/><circle cx="867.3" cy="397.9" r="7"/><circle cx="880.3" cy="394" r="7"/><circle cx="875.4" cy="392.5" r="7"/><circle cx="874.8" cy="348" r="7"/><circle cx="873" cy="396.9" r="7"/><circle cx="870.9" cy="345.8" r="7"/><circle cx="874.3" cy="352.4" r="7"/><circle cx="870.8" cy="345.1" r="7"/><circle cx="875.1" cy="354.8" r="7"/><circle cx="870.1" cy="368.1" r="7"/><circle cx="875.1" cy="375.3" r="7"/><circle cx="872.2" cy="352.3" r="7"/><circle cx="875.5" cy="382.7" r="7"/><circle cx="878" cy="355.4" r="7"/><circle cx="874.5" cy="377.3" r="7"/><circle cx="873.9" cy="371.3" r="7"/><circle cx="873" cy="377.5" r="7"/><circle cx="875.4" cy="382.5" r="7"/><circle cx="874.8" cy="355.7" r="7"/><circle cx="869.7" cy="348.5" r="7"/><circle cx="873" cy="383.2" r="7"/><circle cx="870.3" cy="347.9" r="7"/><circle cx="874.3" cy="389.6" r="7"/><circle cx="870.8" cy="390.8" r="7"/><circle cx="872.8" cy="393.2" r="7"/><circle cx="873.4" cy="370.3" r="7"/><circle cx="875" cy="354.9" r="7"/><circle cx="871.6" cy="389.1" r="7"/><circle cx="872.1" cy="364.7" r="7"/><circle cx="874.7" cy="376.5" r="7"/><circle cx="877" cy="412.7" r="7"/><circle cx="873.4" cy="415" r="7"/><circle cx="876.8" cy="424.9" r="7"/><circle cx="876.6" cy="426.6" r="7"/><circle cx="871.3" cy="410.6" r="7"/><circle cx="877.6" cy="422.8" r="7"/><circle cx="879" cy="429.5" r="7"/><circle cx="875.6" cy="414.3" r="7"/><circle cx="869.7" cy="415.7" r="7"/><circle cx="873" cy="398.7" r="7"/><circle cx="875.4" cy="404" r="7"/><circle cx="872.9" cy="401.4" r="7"/><circle cx="873.3" cy="399" r="7"/><circle cx="878.9" cy="401.2" r="7"/><circle cx="872.7" cy="398.6" r="7"/><circle cx="871.5" cy="417.8" r="7"/><circle cx="870.1" cy="421.2" r="7"/><circle cx="871.6" cy="401.4" r="7"/><circle cx="876.6" cy="399.5" r="7"/><circle cx="869.9" cy="402.1" r="7"/><circle cx="869.8" cy="407.2" r="7"/><circle cx="873.5" cy="402" r="7"/><circle cx="872" cy="417.5" r="7"/><circle cx="874.2" cy="426.4" r="7"/><circle cx="875.7" cy="422.6" r="7"/><circle cx="876.5" cy="403.4" r="7"/><circle cx="876.6" cy="410.8" r="7"/><circle cx="867.1" cy="411.9" r="7"/><circle cx="875.3" cy="411.1" r="7"/><circle cx="870.2" cy="429.1" r="7"/><circle cx="873.8" cy="405.9" r="7"/><circle cx="870.6" cy="409.1" r="7"/><circle cx="865.6" cy="424.5" r="7"/><circle cx="876.7" cy="428.1" r="7"/><circle cx="875.6" cy="399.8" r="7"/><circle cx="868" cy="415.1" r="7"/><circle cx="880.1" cy="406.2" r="7"/><circle cx="871.5" cy="411.9" r="7"/><circle cx="871.4" cy="415.5" r="7"/><circle cx="871.2" cy="400.3" r="7"/><circle cx="870.1" cy="398.7" r="7"/><circle cx="874.8" cy="402.6" r="7"/><circle cx="878.4" cy="428.9" r="7"/><circle cx="872.4" cy="418.9" r="7"/><circle cx="875.6" cy="427.2" r="7"/><circle cx="867.5" cy="399.1" r="7"/><circle cx="871.9" cy="420.4" r="7"/><circle cx="871.5" cy="407" r="7"/><circle cx="866.8" cy="418.5" r="7"/><circle cx="871.5" cy="406.3" r="7"/><circle cx="870.2" cy="483.3" r="7"/><circle cx="872.9" cy="446.8" r="7"/><circle cx="871.9" cy="437.6" r="7"/><circle cx="877.4" cy="463.7" r="7"/><circle cx="876.8" cy="445.8" r="7"/><circle cx="872.4" cy="456.7" r="7"/><circle cx="871.7" cy="437.8" r="7"/><circle cx="873" cy="438.2" r="7"/><circle cx="872.5" cy="446.9" r="7"/><circle cx="876.3" cy="444.4" r="7"/><circle cx="876.5" cy="477.2" r="7"/><circle cx="875.3" cy="464.5" r="7"/><circle cx="869.4" cy="442.1" r="7"/><circle cx="871.5" cy="470.1" r="7"/><circle cx="869.7" cy="464.7" r="7"/><circle cx="874.3" cy="456.8" r="7"/><circle cx="872.5" cy="443.2" r="7"/><circle cx="875.4" cy="459.2" r="7"/><circle cx="870.4" cy="431.7" r="7"/><circle cx="876" cy="450.4" r="7"/><circle cx="874.8" cy="461.6" r="7"/><circle cx="871.6" cy="458" r="7"/><circle cx="871.4" cy="447.3" r="7"/><circle cx="882" cy="473.5" r="7"/><circle cx="873.9" cy="478.9" r="7"/><circle cx="874.3" cy="455.2" r="7"/><circle cx="876.1" cy="455.2" r="7"/><circle cx="874.5" cy="471.4" r="7"/><circle cx="875" cy="483.8" r="7"/><circle cx="874.7" cy="471.6" r="7"/><circle cx="874.9" cy="450.4" r="7"/><circle cx="875.6" cy="468.1" r="7"/><circle cx="869" cy="476.2" r="7"/><circle cx="869.4" cy="459.5" r="7"/><circle cx="873" cy="472.8" r="7"/><circle cx="868.4" cy="457.1" r="7"/><circle cx="874.4" cy="481.3" r="7"/><circle cx="868.7" cy="438" r="7"/><circle cx="873.5" cy="473.1" r="7"/><circle cx="873.1" cy="463.2" r="7"/><circle cx="865.6" cy="523.7" r="7"/><circle cx="873.4" cy="513.6" r="7"/><circle cx="874.6" cy="526.1" r="7"/><circle cx="867.4" cy="511.1" r="7"/><circle cx="870.2" cy="533.7" r="7"/><circle cx="874.3" cy="505.3" r="7"/><circle cx="870.4" cy="511.4" r="7"/><circle cx="875.8" cy="507.3" r="7"/><circle cx="874.7" cy="519" r="7"/><circle cx="867.7" cy="515.3" r="7"/><circle cx="874.4" cy="495.6" r="7"/><circle cx="875.7" cy="524" r="7"/><circle cx="872.2" cy="546.7" r="7"/><circle cx="872.7" cy="507.4" r="7"/><circle cx="876.5" cy="549.3" r="7"/><circle cx="868.6" cy="499.5" r="7"/><circle cx="867.4" cy="486.7" r="7"/><circle cx="876.3" cy="489.1" r="7"/><circle cx="870.1" cy="546.7" r="7"/><circle cx="871.9" cy="537" r="7"/><circle cx="862.9" cy="520.2" r="7"/><circle cx="870.8" cy="520.1" r="7"/><circle cx="872.2" cy="509.6" r="7"/><circle cx="870.6" cy="525.3" r="7"/><circle cx="869" cy="530.6" r="7"/><circle cx="879.2" cy="520.7" r="7"/><circle cx="875.7" cy="512.5" r="7"/><circle cx="875" cy="523" r="7"/><circle cx="867.8" cy="549.7" r="7"/><circle cx="870.6" cy="518.1" r="7"/><circle cx="869.4" cy="551.7" r="7"/><circle cx="874.9" cy="508.7" r="7"/><circle cx="867.9" cy="497.3" r="7"/><circle cx="872.3" cy="507" r="7"/><circle cx="878.9" cy="519.8" r="7"/><circle cx="872.6" cy="493.3" r="7"/><circle cx="877" cy="540.2" r="7"/><circle cx="870.5" cy="551.4" r="7"/><circle cx="875.7" cy="496.3" r="7"/><circle cx="871.3" cy="505.1" r="7"/><circle cx="869.8" cy="498.4" r="7"/><circle cx="873.1" cy="498" r="7"/><circle cx="870.5" cy="509.3" r="7"/><circle cx="870.4" cy="551.6" r="7"/><circle cx="872.8" cy="513.2" r="7"/><circle cx="872.7" cy="538" r="7"/><circle cx="871.7" cy="486.3" r="7"/><circle cx="877.6" cy="506.1" r="7"/><circle cx="875.5" cy="530.1" r="7"/><circle cx="870" cy="499" r="7"/><circle cx="869.5" cy="503.6" r="7"/><circle cx="873.4" cy="528.7" r="7"/><circle cx="863.3" cy="523.9" r="7"/><circle cx="871.3" cy="513.1" r="7"/><circle cx="874.6" cy="536.1" r="7"/><circle cx="874.5" cy="493" r="7"/><circle cx="874.8" cy="520.5" r="7"/><circle cx="874.4" cy="540.3" r="7"/><circle cx="869.2" cy="490.1" r="7"/><circle cx="869.8" cy="486.8" r="7"/><circle cx="873.7" cy="533.2" r="7"/><circle cx="870.7" cy="509.4" r="7"/><circle cx="874.5" cy="492.6" r="7"/><circle cx="875.4" cy="545.7" r="7"/><circle cx="870.9" cy="515.7" r="7"/><circle cx="872" cy="511.5" r="7"/><circle cx="879.3" cy="524.5" r="7"/><circle cx="875.5" cy="549.3" r="7"/><circle cx="869.5" cy="502.5" r="7"/><circle cx="874.9" cy="488.9" r="7"/><circle cx="878.7" cy="506.8" r="7"/><circle cx="870.9" cy="545.3" r="7"/><circle cx="874.4" cy="525.8" r="7"/><circle cx="871" cy="549.4" r="7"/><circle cx="866" cy="502" r="7"/><circle cx="873.5" cy="511.7" r="7"/><circle cx="872.9" cy="506.4" r="7"/><circle cx="871.3" cy="543.8" r="7"/><circle cx="868" cy="502.1" r="7"/><circle cx="873.9" cy="497.4" r="7"/><circle cx="872.1" cy="890.1" r="7"/><circle cx="874.8" cy="653.2" r="7"/><circle cx="872" cy="737.7" r="7"/><circle cx="872.8" cy="686.2" r="7"/><circle cx="872.4" cy="594.9" r="7"/><circle cx="874" cy="839.4" r="7"/><circle cx="872" cy="618.5" r="7"/><circle cx="875.1" cy="650.7" r="7"/><circle cx="873.4" cy="783.2" r="7"/><circle cx="874.1" cy="670.8" r="7"/><circle cx="876" cy="584.2" r="7"/><circle cx="877.2" cy="645.8" r="7"/><circle cx="874.1" cy="706.3" r="7"/><circle cx="872" cy="843" r="7"/><circle cx="873.9" cy="674.8" r="7"/><circle cx="871.7" cy="803.4" r="7"/><circle cx="867.9" cy="624.4" r="7"/><circle cx="878.6" cy="882.9" r="7"/><circle cx="871.2" cy="709.5" r="7"/><circle cx="873.3" cy="597.6" r="7"/><circle cx="872.7" cy="865.1" r="7"/><circle cx="871.1" cy="756.5" r="7"/><circle cx="871.8" cy="763.7" r="7"/><circle cx="875" cy="626" r="7"/><circle cx="874.4" cy="730.5" r="7"/><circle cx="872.2" cy="740.8" r="7"/><circle cx="872.7" cy="685.9" r="7"/><circle cx="878.5" cy="780.8" r="7"/><circle cx="871" cy="687.7" r="7"/><circle cx="872.3" cy="581.9" r="7"/><circle cx="875.9" cy="663.7" r="7"/><circle cx="878.6" cy="782.6" r="7"/><circle cx="876.3" cy="677.8" r="7"/><circle cx="875.8" cy="726.1" r="7"/><circle cx="873" cy="660.3" r="7"/><circle cx="874.4" cy="630.8" r="7"/><circle cx="876.7" cy="650.3" r="7"/><circle cx="876.7" cy="692.4" r="7"/><circle cx="877.7" cy="859.2" r="7"/><circle cx="870.5" cy="851.7" r="7"/><circle cx="875" cy="562.3" r="7"/><circle cx="875.1" cy="788.5" r="7"/><circle cx="871.9" cy="695.6" r="7"/><circle cx="870.9" cy="781.4" r="7"/><circle cx="872.6" cy="846.7" r="7"/><circle cx="871.2" cy="674.5" r="7"/><circle cx="872" cy="592.1" r="7"/><circle cx="872" cy="869.6" r="7"/><circle cx="872.9" cy="566.1" r="7"/><circle cx="868.6" cy="565.9" r="7"/><circle cx="874.4" cy="657.5" r="7"/><circle cx="875" cy="684.5" r="7"/><circle cx="875.8" cy="774.1" r="7"/><circle cx="874" cy="614.5" r="7"/><circle cx="875.4" cy="801.4" r="7"/><circle cx="870" cy="640.6" r="7"/><circle cx="869.2" cy="673.5" r="7"/><circle cx="875.1" cy="552.3" r="7"/><circle cx="876" cy="651.6" r="7"/><circle cx="868.9" cy="567" r="7"/><circle cx="875.8" cy="568.5" r="7"/><circle cx="870.1" cy="637.1" r="7"/><circle cx="877.4" cy="625.1" r="7"/><circle cx="876.8" cy="870.2" r="7"/><circle cx="873.3" cy="793.7" r="7"/><circle cx="872.1" cy="689" r="7"/><circle cx="873.2" cy="649.8" r="7"/><circle cx="867.7" cy="583.3" r="7"/><circle cx="876.3" cy="875.7" r="7"/><circle cx="872.3" cy="792.7" r="7"/><circle cx="872.9" cy="770.6" r="7"/><circle cx="867.7" cy="709.6" r="7"/><circle cx="877.7" cy="701.1" r="7"/><circle cx="874.9" cy="730.1" r="7"/><circle cx="874.7" cy="817.1" r="7"/><circle cx="872.7" cy="567.2" r="7"/><circle cx="871.7" cy="642.9" r="7"/><circle cx="868.1" cy="742.1" r="7"/><circle cx="877.5" cy="741.3" r="7"/><circle cx="872.5" cy="638.9" r="7"/><circle cx="876" cy="695.3" r="7"/><circle cx="874.4" cy="622.1" r="7"/><circle cx="872.7" cy="798" r="7"/><circle cx="874.8" cy="785.3" r="7"/><circle cx="873.5" cy="731.4" r="7"/><circle cx="875.6" cy="706.9" r="7"/><circle cx="875.9" cy="656.2" r="7"/><circle cx="872.2" cy="859.9" r="7"/><circle cx="875.8" cy="668.1" r="7"/><circle cx="876.3" cy="835.8" r="7"/><circle cx="868.5" cy="610.9" r="7"/><circle cx="871.8" cy="784" r="7"/><circle cx="870.6" cy="818.6" r="7"/><circle cx="871.4" cy="841.2" r="7"/><circle cx="875.2" cy="677.4" r="7"/><circle cx="875" cy="623.8" r="7"/><circle cx="875.6" cy="620.6" r="7"/><circle cx="874.2" cy="796.2" r="7"/><circle cx="871.9" cy="664.9" r="7"/><circle cx="873.8" cy="715.1" r="7"/><circle cx="872.2" cy="905" r="7"/><circle cx="874.7" cy="900.8" r="7"/><circle cx="878.3" cy="905.9" r="7"/><circle cx="873.1" cy="950.2" r="7"/><circle cx="877.2" cy="907.6" r="7"/><circle cx="872.9" cy="934.2" r="7"/><circle cx="871.6" cy="938" r="7"/><circle cx="874.1" cy="900.6" r="7"/><circle cx="877.1" cy="943.9" r="7"/><circle cx="871.2" cy="965.5" r="7"/><circle cx="909.3" cy="518.7" r="7"/><circle cx="908.7" cy="484.4" r="7"/><circle cx="915.7" cy="708.7" r="7"/><circle cx="911.5" cy="534.8" r="7"/><circle cx="912.2" cy="710.6" r="7"/><circle cx="914.5" cy="736.5" r="7"/><circle cx="913.1" cy="705.7" r="7"/><circle cx="915.2" cy="677.5" r="7"/><circle cx="909.7" cy="704.1" r="7"/><circle cx="912.3" cy="542.4" r="7"/><circle cx="908" cy="558.2" r="7"/><circle cx="913.4" cy="706" r="7"/><circle cx="910.6" cy="621.4" r="7"/><circle cx="911.4" cy="641" r="7"/><circle cx="912.6" cy="729.7" r="7"/><circle cx="906.3" cy="742.4" r="7"/><circle cx="907" cy="490.4" r="7"/><circle cx="910.7" cy="535.9" r="7"/><circle cx="909.5" cy="660.2" r="7"/><circle cx="910" cy="492.4" r="7"/><circle cx="903.1" cy="468.7" r="7"/><circle cx="913.3" cy="452.8" r="7"/><circle cx="908.8" cy="671.3" r="7"/><circle cx="911.3" cy="440.9" r="7"/><circle cx="913.8" cy="691.8" r="7"/><circle cx="905.6" cy="576.1" r="7"/><circle cx="909.7" cy="604.7" r="7"/><circle cx="914.9" cy="574.8" r="7"/><circle cx="908.9" cy="653.2" r="7"/><circle cx="913.3" cy="704.3" r="7"/><circle cx="912" cy="534.6" r="7"/><circle cx="909.5" cy="581.8" r="7"/><circle cx="908" cy="502.5" r="7"/><circle cx="909.5" cy="467.2" r="7"/><circle cx="909.1" cy="750.8" r="7"/><circle cx="913.6" cy="730.8" r="7"/><circle cx="916" cy="747.8" r="7"/><circle cx="904.5" cy="638.4" r="7"/><circle cx="911" cy="656.5" r="7"/><circle cx="909.6" cy="634.9" r="7"/><circle cx="909.4" cy="744.9" r="7"/><circle cx="914.3" cy="593.8" r="7"/><circle cx="909" cy="549.9" r="7"/><circle cx="908.5" cy="723.2" r="7"/><circle cx="912.5" cy="657.2" r="7"/><circle cx="910.9" cy="583.2" r="7"/><circle cx="914.4" cy="559" r="7"/><circle cx="912.8" cy="625.8" r="7"/><circle cx="907.4" cy="620.7" r="7"/><circle cx="912.4" cy="566.8" r="7"/><circle cx="912" cy="724.8" r="7"/><circle cx="911.8" cy="615.4" r="7"/><circle cx="915.1" cy="521.1" r="7"/><circle cx="914.4" cy="470.4" r="7"/><circle cx="908.3" cy="596.6" r="7"/><circle cx="910.1" cy="617.3" r="7"/><circle cx="911.1" cy="476.2" r="7"/><circle cx="914.4" cy="604.2" r="7"/><circle cx="909.5" cy="570.6" r="7"/><circle cx="909.9" cy="463.5" r="7"/><circle cx="905" cy="616.2" r="7"/><circle cx="912.8" cy="668.7" r="7"/><circle cx="910.6" cy="757" r="7"/><circle cx="909.1" cy="670.9" r="7"/><circle cx="915.1" cy="565.4" r="7"/><circle cx="913.9" cy="494.8" r="7"/><circle cx="914.3" cy="688" r="7"/><circle cx="909.6" cy="483.8" r="7"/><circle cx="910.7" cy="515.8" r="7"/><circle cx="909.5" cy="559.2" r="7"/><circle cx="914.6" cy="508.2" r="7"/><circle cx="911" cy="536" r="7"/><circle cx="909.7" cy="724.4" r="7"/><circle cx="907.5" cy="638.8" r="7"/><circle cx="913.2" cy="733.6" r="7"/><circle cx="907.8" cy="718.6" r="7"/><circle cx="913" cy="549.2" r="7"/><circle cx="914.9" cy="684.4" r="7"/><circle cx="908.2" cy="479.3" r="7"/><circle cx="905.5" cy="559.4" r="7"/><circle cx="910" cy="671" r="7"/><circle cx="903.3" cy="453.9" r="7"/><circle cx="909.5" cy="615.6" r="7"/><circle cx="909.7" cy="697" r="7"/><circle cx="915.8" cy="656.1" r="7"/><circle cx="915" cy="521.5" r="7"/><circle cx="911.7" cy="708.2" r="7"/><circle cx="913.6" cy="626" r="7"/><circle cx="911" cy="475.3" r="7"/><circle cx="911" cy="696.2" r="7"/><circle cx="912.1" cy="852.8" r="7"/><circle cx="914.1" cy="979.9" r="7"/><circle cx="909.3" cy="1040.1" r="7"/><circle cx="911.7" cy="932.3" r="7"/><circle cx="908.5" cy="1063.6" r="7"/><circle cx="905.5" cy="764.4" r="7"/><circle cx="909.6" cy="920.6" r="7"/><circle cx="912" cy="1039.4" r="7"/><circle cx="910.8" cy="818.3" r="7"/><circle cx="909.8" cy="1021.9" r="7"/><circle cx="909.3" cy="912.2" r="7"/><circle cx="907.9" cy="810.7" r="7"/><circle cx="912.3" cy="1039.4" r="7"/><circle cx="908.1" cy="955.5" r="7"/><circle cx="913" cy="829.2" r="7"/><circle cx="911.8" cy="1046.1" r="7"/><circle cx="909.8" cy="814.3" r="7"/><circle cx="910.1" cy="875.5" r="7"/><circle cx="906.7" cy="884.1" r="7"/><circle cx="911.4" cy="873.2" r="7"/><circle cx="914.5" cy="866.8" r="7"/><circle cx="910.7" cy="766.6" r="7"/><circle cx="902.1" cy="774.5" r="7"/><circle cx="912.8" cy="806.7" r="7"/><circle cx="909.4" cy="847.5" r="7"/><circle cx="908.5" cy="920" r="7"/><circle cx="910.3" cy="929" r="7"/><circle cx="914.4" cy="1066.2" r="7"/><circle cx="911.4" cy="939.4" r="7"/><circle cx="910.5" cy="1006.7" r="7"/><circle cx="914.2" cy="962.6" r="7"/><circle cx="906.8" cy="963.1" r="7"/><circle cx="909" cy="1014.5" r="7"/><circle cx="912.4" cy="1039.3" r="7"/><circle cx="914.8" cy="857.3" r="7"/><circle cx="1001.7" cy="402.1" r="7"/><circle cx="1003.4" cy="381.6" r="7"/><circle cx="999.5" cy="336.1" r="7"/><circle cx="1000.3" cy="289.7" r="7"/><circle cx="1002.5" cy="334" r="7"/><circle cx="999" cy="357" r="7"/><circle cx="1013" cy="338.8" r="7"/><circle cx="1003.8" cy="335.9" r="7"/><circle cx="1006.2" cy="301.7" r="7"/><circle cx="1010.7" cy="352.5" r="7"/><circle cx="1004" cy="351.3" r="7"/><circle cx="1001" cy="307" r="7"/><circle cx="1002.4" cy="290.6" r="7"/><circle cx="1002.7" cy="396.3" r="7"/><circle cx="1006.5" cy="368.2" r="7"/><circle cx="1006.6" cy="550.5" r="7"/><circle cx="1002.4" cy="510" r="7"/><circle cx="1005.6" cy="509.7" r="7"/><circle cx="1004.7" cy="558.5" r="7"/><circle cx="999.9" cy="491.4" r="7"/><circle cx="1008.4" cy="544.2" r="7"/><circle cx="1007.3" cy="547.9" r="7"/><circle cx="1005.3" cy="473.1" r="7"/><circle cx="1003.6" cy="459.7" r="7"/><circle cx="1004.4" cy="472.2" r="7"/><circle cx="1003" cy="487.9" r="7"/><circle cx="1001.3" cy="464" r="7"/><circle cx="998.1" cy="517.8" r="7"/><circle cx="999.4" cy="463.6" r="7"/><circle cx="1002.7" cy="512.1" r="7"/><circle cx="994.7" cy="449.5" r="7"/><circle cx="1006.3" cy="480.9" r="7"/><circle cx="997" cy="456.4" r="7"/><circle cx="1005.3" cy="545.1" r="7"/><circle cx="1007.7" cy="516.8" r="7"/><circle cx="1005.8" cy="479.2" r="7"/><circle cx="1002.5" cy="529.9" r="7"/><circle cx="1001.5" cy="521.5" r="7"/><circle cx="1000.8" cy="480.5" r="7"/><circle cx="1007" cy="445.5" r="7"/><circle cx="1004.9" cy="515.2" r="7"/><circle cx="1001.6" cy="511.7" r="7"/><circle cx="1007.2" cy="470.8" r="7"/><circle cx="1003.1" cy="551" r="7"/><circle cx="1003.8" cy="507.7" r="7"/><circle cx="1004.8" cy="513.7" r="7"/><circle cx="1003.6" cy="526.9" r="7"/><circle cx="1002.9" cy="458.7" r="7"/><circle cx="1005" cy="457.1" r="7"/><circle cx="1003.8" cy="537.7" r="7"/><circle cx="1002.1" cy="490.8" r="7"/><circle cx="999.1" cy="506.6" r="7"/><circle cx="1002.5" cy="518.9" r="7"/><circle cx="1001.1" cy="528.9" r="7"/><circle cx="1001.8" cy="470.9" r="7"/><circle cx="1002.2" cy="533.1" r="7"/><circle cx="997.9" cy="477.1" r="7"/><circle cx="1005" cy="494.4" r="7"/><circle cx="994.1" cy="473.4" r="7"/><circle cx="995.4" cy="455.8" r="7"/><circle cx="1002.4" cy="441.1" r="7"/><circle cx="998.6" cy="532.9" r="7"/><circle cx="1004.4" cy="483.5" r="7"/><circle cx="1006.2" cy="530.8" r="7"/><circle cx="1003.5" cy="450.8" r="7"/><circle cx="1005.5" cy="447.2" r="7"/><circle cx="1004" cy="500.2" r="7"/><circle cx="1001.6" cy="552.8" r="7"/><circle cx="1002.9" cy="483.9" r="7"/><circle cx="1004.9" cy="528.5" r="7"/><circle cx="1005.4" cy="550.6" r="7"/><circle cx="1004.1" cy="533.4" r="7"/><circle cx="1004.4" cy="469.1" r="7"/><circle cx="1007.7" cy="516.3" r="7"/><circle cx="1003.2" cy="481.3" r="7"/><circle cx="1004.9" cy="592.4" r="7"/><circle cx="1000" cy="650.4" r="7"/><circle cx="1008.1" cy="566.5" r="7"/><circle cx="1007.2" cy="624.5" r="7"/><circle cx="997.9" cy="566" r="7"/><circle cx="1007.7" cy="616.4" r="7"/><circle cx="997" cy="654.5" r="7"/><circle cx="1007.9" cy="622.7" r="7"/><circle cx="1004.1" cy="586.2" r="7"/><circle cx="1006.3" cy="603.4" r="7"/><circle cx="1003.9" cy="635.9" r="7"/><circle cx="1006" cy="624.3" r="7"/><circle cx="1000.3" cy="581.7" r="7"/><circle cx="1014.4" cy="617" r="7"/><circle cx="1007.5" cy="646.9" r="7"/><circle cx="1009.5" cy="586.7" r="7"/><circle cx="1003.7" cy="588.3" r="7"/><circle cx="997.1" cy="593.2" r="7"/><circle cx="996.3" cy="576.2" r="7"/><circle cx="1004.3" cy="628.3" r="7"/><circle cx="1000.5" cy="617.9" r="7"/><circle cx="1001.4" cy="648.3" r="7"/><circle cx="1005.5" cy="596" r="7"/><circle cx="1010.7" cy="638" r="7"/><circle cx="1005.1" cy="646.4" r="7"/><circle cx="1002" cy="659.5" r="7"/><circle cx="1003.4" cy="571.2" r="7"/><circle cx="1004.4" cy="657.4" r="7"/><circle cx="1011.3" cy="575.1" r="7"/><circle cx="1004.1" cy="633.6" r="7"/><circle cx="1005.4" cy="628.3" r="7"/><circle cx="1004.9" cy="569" r="7"/><circle cx="999.5" cy="631.6" r="7"/><circle cx="1010.3" cy="648.2" r="7"/><circle cx="1004.5" cy="583.5" r="7"/><circle cx="1003.5" cy="639.2" r="7"/><circle cx="1003.3" cy="610.5" r="7"/><circle cx="1002.7" cy="583.2" r="7"/><circle cx="1002.2" cy="562" r="7"/><circle cx="1004.3" cy="659.1" r="7"/><circle cx="1000.7" cy="572" r="7"/><circle cx="1010.2" cy="608.7" r="7"/><circle cx="1006.1" cy="577.9" r="7"/><circle cx="1006.4" cy="628.5" r="7"/><circle cx="1007.1" cy="610.1" r="7"/><circle cx="1008.2" cy="571.2" r="7"/><circle cx="1001.2" cy="651.9" r="7"/><circle cx="1006.9" cy="594.9" r="7"/><circle cx="1005.6" cy="648.3" r="7"/><circle cx="1012.6" cy="633.1" r="7"/><circle cx="1003.3" cy="586.5" r="7"/><circle cx="1005.8" cy="566.9" r="7"/><circle cx="1007.7" cy="600.8" r="7"/><circle cx="1004.8" cy="615.7" r="7"/><circle cx="1003.3" cy="628.8" r="7"/><circle cx="1004" cy="625.3" r="7"/><circle cx="999.4" cy="629" r="7"/><circle cx="1002.4" cy="658.2" r="7"/><circle cx="1007.6" cy="599.9" r="7"/><circle cx="999.7" cy="591.8" r="7"/><circle cx="995.4" cy="598.7" r="7"/><circle cx="1008.2" cy="598.5" r="7"/><circle cx="1002" cy="659.8" r="7"/><circle cx="1004.7" cy="560.5" r="7"/><circle cx="997.4" cy="585.5" r="7"/><circle cx="998.6" cy="621.1" r="7"/><circle cx="1001.8" cy="579.8" r="7"/><circle cx="1005.5" cy="571.6" r="7"/><circle cx="1007" cy="650.9" r="7"/><circle cx="998.5" cy="565" r="7"/><circle cx="1002.6" cy="624.6" r="7"/><circle cx="1000.7" cy="614.9" r="7"/><circle cx="999.9" cy="560.1" r="7"/><circle cx="1012.2" cy="634.6" r="7"/><circle cx="1006.2" cy="619.2" r="7"/><circle cx="1000.3" cy="659.5" r="7"/><circle cx="1004.1" cy="634.3" r="7"/><circle cx="1008.6" cy="597.9" r="7"/><circle cx="1002.8" cy="612.6" r="7"/><circle cx="1000.2" cy="621.3" r="7"/><circle cx="1002.3" cy="622.9" r="7"/><circle cx="1000.9" cy="614.3" r="7"/><circle cx="1004.5" cy="586.5" r="7"/><circle cx="1008.4" cy="650.9" r="7"/><circle cx="998.1" cy="612.2" r="7"/><circle cx="1004.6" cy="607.7" r="7"/><circle cx="1004" cy="652.7" r="7"/><circle cx="1005.6" cy="612.9" r="7"/><circle cx="999.4" cy="641.3" r="7"/><circle cx="1003" cy="583.9" r="7"/><circle cx="1006.7" cy="606" r="7"/><circle cx="1009.4" cy="624.1" r="7"/><circle cx="1007.1" cy="646.8" r="7"/><circle cx="997.1" cy="564.3" r="7"/><circle cx="998.8" cy="641.8" r="7"/><circle cx="1008.1" cy="572.3" r="7"/><circle cx="1005.2" cy="570.3" r="7"/><circle cx="1005.8" cy="595.7" r="7"/><circle cx="1005" cy="605.3" r="7"/><circle cx="999.6" cy="568.8" r="7"/><circle cx="994.2" cy="629.5" r="7"/><circle cx="1010.9" cy="604.9" r="7"/><circle cx="997.4" cy="635.9" r="7"/><circle cx="1004.5" cy="575" r="7"/><circle cx="1002.2" cy="612.1" r="7"/><circle cx="1000.6" cy="583.8" r="7"/><circle cx="1001.5" cy="598.1" r="7"/><circle cx="1006" cy="561.8" r="7"/><circle cx="1005" cy="565.8" r="7"/><circle cx="1008" cy="577.8" r="7"/><circle cx="1003.1" cy="592.4" r="7"/><circle cx="1000.9" cy="584.2" r="7"/><circle cx="1004.4" cy="623.6" r="7"/><circle cx="1002.3" cy="645.9" r="7"/><circle cx="1004.7" cy="639.2" r="7"/><circle cx="1007.2" cy="621.8" r="7"/><circle cx="1002.9" cy="604.3" r="7"/><circle cx="1004.4" cy="596.7" r="7"/><circle cx="1003" cy="600.8" r="7"/><circle cx="1000.8" cy="624.8" r="7"/><circle cx="1004.9" cy="598.5" r="7"/><circle cx="1000.6" cy="617.9" r="7"/><circle cx="1005.7" cy="657.1" r="7"/><circle cx="1002.6" cy="631.2" r="7"/><circle cx="1000" cy="592.9" r="7"/><circle cx="1007.4" cy="567.1" r="7"/><circle cx="1003.8" cy="612.6" r="7"/><circle cx="1000.2" cy="609.7" r="7"/><circle cx="1008.4" cy="562.6" r="7"/><circle cx="1000.2" cy="619.3" r="7"/><circle cx="999.9" cy="644" r="7"/><circle cx="1004.6" cy="601.5" r="7"/><circle cx="996.4" cy="604" r="7"/><circle cx="1004.9" cy="609.1" r="7"/><circle cx="997.1" cy="627" r="7"/><circle cx="1003.2" cy="634" r="7"/><circle cx="1002.8" cy="628" r="7"/><circle cx="1004.2" cy="615.4" r="7"/><circle cx="1004.4" cy="571.8" r="7"/><circle cx="997.7" cy="582.1" r="7"/><circle cx="1009.4" cy="570.2" r="7"/><circle cx="1006.7" cy="568.8" r="7"/><circle cx="1003.7" cy="565.5" r="7"/><circle cx="999.1" cy="628.1" r="7"/><circle cx="1002.7" cy="565.5" r="7"/><circle cx="999.8" cy="629.1" r="7"/><circle cx="999.6" cy="659.8" r="7"/><circle cx="1005.9" cy="641.7" r="7"/><circle cx="1005" cy="593.4" r="7"/><circle cx="1002.2" cy="611.8" r="7"/><circle cx="1014.1" cy="587.5" r="7"/><circle cx="1004" cy="586.2" r="7"/><circle cx="1002.6" cy="645.9" r="7"/><circle cx="1006.1" cy="615.6" r="7"/><circle cx="1000" cy="565.1" r="7"/><circle cx="1003.4" cy="590.4" r="7"/><circle cx="1007.9" cy="645.7" r="7"/><circle cx="999" cy="585.7" r="7"/><circle cx="1004" cy="613.7" r="7"/><circle cx="1004.7" cy="597.4" r="7"/><circle cx="999.7" cy="618.4" r="7"/><circle cx="1004.6" cy="596.6" r="7"/><circle cx="1004.4" cy="651.9" r="7"/><circle cx="1001.4" cy="615.6" r="7"/><circle cx="1006.5" cy="613.3" r="7"/><circle cx="1004.6" cy="600.9" r="7"/><circle cx="1000.8" cy="587.4" r="7"/><circle cx="1002.4" cy="639.6" r="7"/><circle cx="1002.2" cy="640.2" r="7"/><circle cx="1009" cy="619.2" r="7"/><circle cx="995.8" cy="604.5" r="7"/><circle cx="1006" cy="647.8" r="7"/><circle cx="1007.1" cy="623.9" r="7"/><circle cx="1005" cy="564.9" r="7"/><circle cx="1004.5" cy="619.6" r="7"/><circle cx="1002.6" cy="578" r="7"/><circle cx="1007.6" cy="640.1" r="7"/><circle cx="1001.5" cy="609.8" r="7"/><circle cx="1001.2" cy="589.5" r="7"/><circle cx="999" cy="581.1" r="7"/><circle cx="1004.7" cy="651.8" r="7"/><circle cx="1002" cy="580.7" r="7"/><circle cx="1004.9" cy="638.4" r="7"/><circle cx="1004.6" cy="655.1" r="7"/><circle cx="999.2" cy="585.8" r="7"/><circle cx="1006.3" cy="650.6" r="7"/><circle cx="1002.9" cy="565.7" r="7"/><circle cx="1001.8" cy="629.6" r="7"/><circle cx="1010.1" cy="589.4" r="7"/><circle cx="1005.4" cy="583.3" r="7"/><circle cx="1001" cy="616.1" r="7"/><circle cx="1002.1" cy="575.4" r="7"/><circle cx="1006.3" cy="644.1" r="7"/><circle cx="1002" cy="575.2" r="7"/><circle cx="1006.6" cy="599.2" r="7"/><circle cx="994.3" cy="563.3" r="7"/><circle cx="1000" cy="582.3" r="7"/><circle cx="1007.1" cy="614.6" r="7"/><circle cx="1006.9" cy="632.8" r="7"/><circle cx="1005.8" cy="603" r="7"/><circle cx="1002.9" cy="642.8" r="7"/><circle cx="1002.1" cy="572.2" r="7"/><circle cx="1014" cy="653.9" r="7"/><circle cx="998.2" cy="612.6" r="7"/><circle cx="1002.8" cy="635" r="7"/><circle cx="1006.8" cy="609.7" r="7"/><circle cx="1005" cy="608.5" r="7"/><circle cx="1003" cy="646.4" r="7"/><circle cx="1000.1" cy="568.8" r="7"/><circle cx="1001.1" cy="574" r="7"/><circle cx="1002.7" cy="644.5" r="7"/><circle cx="1011" cy="582.7" r="7"/><circle cx="1004.4" cy="619.9" r="7"/><circle cx="1003.2" cy="656.7" r="7"/><circle cx="999" cy="625.7" r="7"/><circle cx="1010.6" cy="565" r="7"/><circle cx="1001.7" cy="584.7" r="7"/><circle cx="1007" cy="634.2" r="7"/><circle cx="1006.3" cy="589.8" r="7"/><circle cx="1009.2" cy="566.9" r="7"/><circle cx="1002.2" cy="737.2" r="7"/><circle cx="1003.1" cy="770.3" r="7"/><circle cx="1000.4" cy="664.7" r="7"/><circle cx="1001.4" cy="731.9" r="7"/><circle cx="1007.8" cy="678.5" r="7"/><circle cx="1006.5" cy="740.9" r="7"/><circle cx="1001.6" cy="752.8" r="7"/><circle cx="1006.4" cy="682.9" r="7"/><circle cx="1007.7" cy="706.4" r="7"/><circle cx="1011" cy="777.9" r="7"/><circle cx="1006.5" cy="680.9" r="7"/><circle cx="1000.8" cy="673.2" r="7"/><circle cx="1004.9" cy="729.5" r="7"/><circle cx="1002.4" cy="735" r="7"/><circle cx="1006.6" cy="683" r="7"/><circle cx="1006.3" cy="735" r="7"/><circle cx="1000.3" cy="687.7" r="7"/><circle cx="1003.5" cy="716.5" r="7"/><circle cx="1004.2" cy="693.6" r="7"/><circle cx="1005.4" cy="782" r="7"/><circle cx="996.3" cy="662.1" r="7"/><circle cx="1003.6" cy="792.1" r="7"/><circle cx="997.5" cy="739.9" r="7"/><circle cx="1004.1" cy="756.5" r="7"/><circle cx="1004.4" cy="681.5" r="7"/><circle cx="1009.4" cy="697" r="7"/><circle cx="1007.1" cy="732.5" r="7"/><circle cx="1004.3" cy="700.9" r="7"/><circle cx="1004.8" cy="741" r="7"/><circle cx="1002.7" cy="692.7" r="7"/><circle cx="998.6" cy="759.5" r="7"/><circle cx="1000.2" cy="668.7" r="7"/><circle cx="1003.8" cy="797.6" r="7"/><circle cx="1008.4" cy="665.8" r="7"/><circle cx="999.7" cy="774.1" r="7"/><circle cx="1000" cy="707.9" r="7"/><circle cx="1005.1" cy="788.9" r="7"/><circle cx="1000" cy="661.5" r="7"/><circle cx="1007" cy="717" r="7"/><circle cx="1002.3" cy="672.3" r="7"/><circle cx="1003.8" cy="755" r="7"/><circle cx="1009.3" cy="681.2" r="7"/><circle cx="1002.6" cy="687.7" r="7"/><circle cx="1005.2" cy="690.8" r="7"/><circle cx="999" cy="799.6" r="7"/><circle cx="1012" cy="770.8" r="7"/><circle cx="999.6" cy="769.1" r="7"/><circle cx="1004.2" cy="787.1" r="7"/><circle cx="1003.7" cy="687.9" r="7"/><circle cx="998.7" cy="747.5" r="7"/><circle cx="1007.1" cy="672.9" r="7"/><circle cx="998.6" cy="760.4" r="7"/><circle cx="1002.4" cy="795.2" r="7"/><circle cx="1005.3" cy="754.2" r="7"/><circle cx="1003.6" cy="776" r="7"/><circle cx="1001.8" cy="791.2" r="7"/><circle cx="1008.4" cy="776.5" r="7"/><circle cx="1000.4" cy="772.3" r="7"/><circle cx="1000.5" cy="775.5" r="7"/><circle cx="1001.6" cy="769.8" r="7"/><circle cx="1005.7" cy="794.5" r="7"/><circle cx="1001.5" cy="734.4" r="7"/><circle cx="1005.3" cy="795.6" r="7"/><circle cx="1003.1" cy="770.2" r="7"/><circle cx="1003.6" cy="692.5" r="7"/><circle cx="1010.3" cy="687.7" r="7"/><circle cx="1001.2" cy="729" r="7"/><circle cx="1004.3" cy="787.1" r="7"/><circle cx="1001.5" cy="714.9" r="7"/><circle cx="998.6" cy="769.7" r="7"/><circle cx="1005.1" cy="791.8" r="7"/><circle cx="998.5" cy="775.6" r="7"/><circle cx="1002.4" cy="751.3" r="7"/><circle cx="1004.5" cy="777.1" r="7"/><circle cx="1001.1" cy="777.1" r="7"/><circle cx="1007.6" cy="771" r="7"/><circle cx="1007.7" cy="662.3" r="7"/><circle cx="1003.8" cy="675.5" r="7"/><circle cx="1005" cy="744.7" r="7"/><circle cx="1000.3" cy="724" r="7"/><circle cx="1002.4" cy="709.5" r="7"/><circle cx="1005.7" cy="778.2" r="7"/><circle cx="1001.5" cy="672.3" r="7"/><circle cx="1001.7" cy="697.9" r="7"/><circle cx="1002.5" cy="752.5" r="7"/><circle cx="1000" cy="773" r="7"/><circle cx="1007.5" cy="665.8" r="7"/><circle cx="1007.3" cy="775.2" r="7"/><circle cx="1004.8" cy="794.1" r="7"/><circle cx="1006.2" cy="710.7" r="7"/><circle cx="1004.8" cy="745.4" r="7"/><circle cx="1010.9" cy="785.1" r="7"/><circle cx="1000.4" cy="793.8" r="7"/><circle cx="1006.2" cy="730.9" r="7"/><circle cx="1005.9" cy="776.3" r="7"/><circle cx="1003.5" cy="682.7" r="7"/><circle cx="1003.6" cy="684.5" r="7"/><circle cx="1003.6" cy="792.3" r="7"/><circle cx="997.5" cy="695.1" r="7"/><circle cx="1005.4" cy="709.3" r="7"/><circle cx="1007.2" cy="780.7" r="7"/><circle cx="1006.3" cy="731.9" r="7"/><circle cx="997.9" cy="785.1" r="7"/><circle cx="1009.3" cy="753.3" r="7"/><circle cx="1008" cy="722.2" r="7"/><circle cx="1005.9" cy="794.1" r="7"/><circle cx="1000.3" cy="748.5" r="7"/><circle cx="1007.6" cy="712.6" r="7"/><circle cx="998.4" cy="787" r="7"/><circle cx="1002.9" cy="729.7" r="7"/><circle cx="997.4" cy="668" r="7"/><circle cx="1010.9" cy="776.9" r="7"/><circle cx="1001.8" cy="722.7" r="7"/><circle cx="999.6" cy="765.2" r="7"/><circle cx="1008" cy="765" r="7"/><circle cx="1000.1" cy="664.9" r="7"/><circle cx="1002.8" cy="793.4" r="7"/><circle cx="1005.3" cy="784.8" r="7"/><circle cx="1006.5" cy="740.7" r="7"/><circle cx="1007.3" cy="666.5" r="7"/><circle cx="999.1" cy="749.8" r="7"/><circle cx="1007.3" cy="699.3" r="7"/><circle cx="1003.9" cy="736.2" r="7"/><circle cx="1000.8" cy="718.9" r="7"/><circle cx="1008.7" cy="772.7" r="7"/><circle cx="1003" cy="754.7" r="7"/><circle cx="997.1" cy="759.4" r="7"/><circle cx="1009.8" cy="756.7" r="7"/><circle cx="1003.3" cy="740.5" r="7"/><circle cx="1005.7" cy="775.6" r="7"/><circle cx="1004.5" cy="679.6" r="7"/><circle cx="1000.5" cy="732.2" r="7"/><circle cx="1005.1" cy="763.4" r="7"/><circle cx="1002.2" cy="683.9" r="7"/><circle cx="1003.2" cy="701.7" r="7"/><circle cx="1004.7" cy="713.6" r="7"/><circle cx="1012.4" cy="686.2" r="7"/><circle cx="1001.8" cy="703.3" r="7"/><circle cx="1005.8" cy="704.9" r="7"/><circle cx="1002.8" cy="721.4" r="7"/><circle cx="1005.8" cy="715.2" r="7"/><circle cx="1005.4" cy="714" r="7"/><circle cx="1006.3" cy="688.6" r="7"/><circle cx="1003" cy="787.2" r="7"/><circle cx="997.3" cy="749.2" r="7"/><circle cx="1005.7" cy="769" r="7"/><circle cx="1002.9" cy="766" r="7"/><circle cx="1005.5" cy="725.8" r="7"/><circle cx="998.8" cy="765.4" r="7"/><circle cx="1001.8" cy="698.6" r="7"/><circle cx="998.6" cy="734.1" r="7"/><circle cx="1009.6" cy="700.4" r="7"/><circle cx="1001.8" cy="768" r="7"/><circle cx="1001.7" cy="665.8" r="7"/><circle cx="1005.7" cy="709.5" r="7"/><circle cx="999.6" cy="791.6" r="7"/><circle cx="1003.4" cy="669.8" r="7"/><circle cx="1006.3" cy="736.8" r="7"/><circle cx="1003.8" cy="717.8" r="7"/><circle cx="998.4" cy="773.1" r="7"/><circle cx="1005.9" cy="750.3" r="7"/><circle cx="1005.6" cy="795.4" r="7"/><circle cx="1000.1" cy="768.4" r="7"/><circle cx="999.6" cy="715.2" r="7"/><circle cx="1009" cy="707.8" r="7"/><circle cx="1001.5" cy="715" r="7"/><circle cx="1004.8" cy="686" r="7"/><circle cx="1000.6" cy="782" r="7"/><circle cx="999.5" cy="753.7" r="7"/><circle cx="1002.8" cy="786.2" r="7"/><circle cx="1005.8" cy="669.2" r="7"/><circle cx="1006" cy="717.8" r="7"/><circle cx="996.8" cy="753.5" r="7"/><circle cx="1003.6" cy="740.9" r="7"/><circle cx="999.9" cy="698.3" r="7"/><circle cx="1006.3" cy="778.3" r="7"/><circle cx="1005.2" cy="681.2" r="7"/><circle cx="997.2" cy="754" r="7"/><circle cx="1003.8" cy="785.8" r="7"/><circle cx="999.5" cy="785.8" r="7"/><circle cx="1003.4" cy="750.8" r="7"/><circle cx="997.2" cy="783" r="7"/><circle cx="1007.4" cy="758.5" r="7"/><circle cx="1007.7" cy="745.7" r="7"/><circle cx="1003.4" cy="744.5" r="7"/><circle cx="1004.9" cy="775.4" r="7"/><circle cx="1003.3" cy="691.3" r="7"/><circle cx="1006" cy="673.1" r="7"/><circle cx="999.4" cy="772.3" r="7"/><circle cx="995.2" cy="710.4" r="7"/><circle cx="1003.2" cy="777.4" r="7"/><circle cx="1002.4" cy="705.5" r="7"/><circle cx="1008.6" cy="679.4" r="7"/><circle cx="1003.8" cy="698.5" r="7"/><circle cx="1007.2" cy="737.7" r="7"/><circle cx="1005" cy="773" r="7"/><circle cx="1010" cy="675.5" r="7"/><circle cx="1005.3" cy="691.4" r="7"/><circle cx="1001.5" cy="706.3" r="7"/><circle cx="1001.3" cy="739.6" r="7"/><circle cx="1004.9" cy="876.3" r="7"/><circle cx="1009.7" cy="1106.4" r="7"/><circle cx="1005.2" cy="811.1" r="7"/><circle cx="999.6" cy="1084" r="7"/><circle cx="1007.7" cy="954.7" r="7"/><circle cx="1004.4" cy="823" r="7"/><circle cx="999.8" cy="1013.5" r="7"/><circle cx="999.6" cy="946.1" r="7"/><circle cx="999" cy="882.6" r="7"/><circle cx="1003.3" cy="1116.7" r="7"/><circle cx="1010" cy="1150.9" r="7"/><circle cx="1003.5" cy="920.2" r="7"/><circle cx="1005" cy="974.4" r="7"/><circle cx="1003.5" cy="848.8" r="7"/><circle cx="998.6" cy="1058.6" r="7"/><circle cx="1005.2" cy="965.9" r="7"/><circle cx="1002.4" cy="947.1" r="7"/><circle cx="1005.6" cy="903.1" r="7"/><circle cx="1005.6" cy="988.4" r="7"/><circle cx="1009" cy="960.1" r="7"/><circle cx="1005.4" cy="871.8" r="7"/><circle cx="1008.8" cy="896.9" r="7"/><circle cx="998.6" cy="1155.2" r="7"/><circle cx="1001.6" cy="1072.9" r="7"/><circle cx="1011.1" cy="1063.7" r="7"/><circle cx="1001.1" cy="1062.6" r="7"/><circle cx="1005.8" cy="804.7" r="7"/><circle cx="1004.6" cy="1115.2" r="7"/><circle cx="1002.8" cy="896.3" r="7"/><circle cx="998.8" cy="929.7" r="7"/><circle cx="1006.2" cy="1161.9" r="7"/><circle cx="1007.9" cy="911.6" r="7"/><circle cx="1005.7" cy="929.7" r="7"/><circle cx="1004.2" cy="1128.1" r="7"/><circle cx="1004.9" cy="837.3" r="7"/><circle cx="1000" cy="838.9" r="7"/><circle cx="1007.1" cy="972" r="7"/><circle cx="1008.6" cy="1161.6" r="7"/><circle cx="1008.9" cy="973.8" r="7"/><circle cx="1000.4" cy="1100" r="7"/><circle cx="1004.8" cy="1005.6" r="7"/><circle cx="1004.9" cy="985.4" r="7"/><circle cx="1004.3" cy="807.7" r="7"/><circle cx="1006.2" cy="1131.7" r="7"/><circle cx="1001.6" cy="1157.9" r="7"/><circle cx="995.5" cy="959.4" r="7"/><circle cx="1003.3" cy="1096.3" r="7"/><circle cx="1000.2" cy="1107.1" r="7"/><circle cx="1004" cy="878.1" r="7"/><circle cx="1004.1" cy="1013.7" r="7"/><circle cx="1003.3" cy="1103.1" r="7"/><circle cx="1004" cy="1086.9" r="7"/><circle cx="1002.6" cy="1124.5" r="7"/><circle cx="1003.9" cy="995" r="7"/><circle cx="1006.4" cy="1028" r="7"/><circle cx="1005" cy="1123.1" r="7"/><circle cx="998.7" cy="875.1" r="7"/><circle cx="1004.1" cy="888.8" r="7"/><circle cx="1006.5" cy="838" r="7"/><circle cx="1001.7" cy="1015.8" r="7"/><circle cx="1005.3" cy="966.6" r="7"/><circle cx="1005.3" cy="1013.7" r="7"/><circle cx="1000.1" cy="960.5" r="7"/><circle cx="999.5" cy="824.7" r="7"/><circle cx="1003.5" cy="971.8" r="7"/><circle cx="1002.5" cy="946.1" r="7"/><circle cx="1001.1" cy="887.5" r="7"/><circle cx="998.8" cy="1037.1" r="7"/><circle cx="1002.2" cy="851.7" r="7"/><circle cx="1000" cy="1131.8" r="7"/><circle cx="1002.6" cy="887.1" r="7"/><circle cx="1002.9" cy="1160.2" r="7"/><circle cx="1004.1" cy="1087.6" r="7"/><circle cx="1007.1" cy="1100.7" r="7"/><circle cx="999.8" cy="814" r="7"/><circle cx="999.4" cy="834.2" r="7"/><circle cx="1009.9" cy="813.9" r="7"/><circle cx="1002.7" cy="817.8" r="7"/><circle cx="1004.1" cy="880.2" r="7"/><circle cx="1011.7" cy="1045.2" r="7"/><circle cx="1008.2" cy="1135.5" r="7"/><circle cx="1001.5" cy="896" r="7"/><circle cx="1004" cy="1076.3" r="7"/><circle cx="1004.2" cy="837.9" r="7"/><circle cx="1009.1" cy="868.2" r="7"/><circle cx="1002.7" cy="1094.6" r="7"/><circle cx="1005.8" cy="838.6" r="7"/><circle cx="1007.2" cy="1087.2" r="7"/><circle cx="1009.6" cy="800.8" r="7"/><circle cx="998.7" cy="1110.8" r="7"/><circle cx="997.6" cy="983.4" r="7"/><circle cx="1001.4" cy="1026.2" r="7"/><circle cx="998.5" cy="828.3" r="7"/><circle cx="1000.1" cy="819.8" r="7"/><circle cx="1000.9" cy="944.9" r="7"/><circle cx="1002.8" cy="802.8" r="7"/><circle cx="1003.6" cy="1102.8" r="7"/><circle cx="1002.9" cy="1096.2" r="7"/><circle cx="1001.9" cy="1037.3" r="7"/><circle cx="1004.1" cy="875.6" r="7"/><circle cx="1002.1" cy="1156.4" r="7"/><circle cx="1004.4" cy="999.3" r="7"/><circle cx="1002.7" cy="1066.5" r="7"/><circle cx="1004.9" cy="1110.2" r="7"/><circle cx="1004.6" cy="934.2" r="7"/><circle cx="1002.3" cy="910.5" r="7"/><circle cx="1003.8" cy="1021.3" r="7"/><circle cx="1001.7" cy="1157.2" r="7"/><circle cx="1003.7" cy="827.4" r="7"/><circle cx="1003.2" cy="841.5" r="7"/><circle cx="1002" cy="989.8" r="7"/><circle cx="999.2" cy="966.3" r="7"/><circle cx="999.6" cy="1036.7" r="7"/><circle cx="1006.3" cy="1134.5" r="7"/><circle cx="1003" cy="1133.2" r="7"/><circle cx="997.4" cy="1105.6" r="7"/><circle cx="1003.5" cy="1048.5" r="7"/><circle cx="1002.8" cy="1110.2" r="7"/><circle cx="997.1" cy="865.6" r="7"/><circle cx="1006.7" cy="1144.1" r="7"/><circle cx="998.5" cy="892.2" r="7"/><circle cx="1005.6" cy="909.7" r="7"/><circle cx="1001.9" cy="834.6" r="7"/><circle cx="1006.2" cy="961.7" r="7"/><circle cx="1008.7" cy="1140.3" r="7"/><circle cx="1003" cy="1078.3" r="7"/><circle cx="1009.5" cy="1074.7" r="7"/><circle cx="994" cy="900.1" r="7"/><circle cx="1003.7" cy="807.6" r="7"/><circle cx="1007.3" cy="884.2" r="7"/><circle cx="1009.6" cy="920" r="7"/><circle cx="998.5" cy="1081.2" r="7"/><circle cx="1004.8" cy="1090" r="7"/><circle cx="996.4" cy="994.2" r="7"/><circle cx="1008.8" cy="914.5" r="7"/><circle cx="1007.7" cy="1028.8" r="7"/><circle cx="1000.7" cy="1152.5" r="7"/><circle cx="1006.9" cy="858.8" r="7"/><circle cx="998.7" cy="996.5" r="7"/><circle cx="1002.7" cy="1142.3" r="7"/><circle cx="997.2" cy="1051.8" r="7"/><circle cx="1007.9" cy="1153.1" r="7"/><circle cx="1005.7" cy="904.9" r="7"/><circle cx="1004.9" cy="1130.9" r="7"/><circle cx="1006.4" cy="1061.3" r="7"/><circle cx="1003.9" cy="1161.2" r="7"/><circle cx="1005.3" cy="1050.7" r="7"/><circle cx="1007" cy="1052.1" r="7"/><circle cx="1003.5" cy="890.7" r="7"/><circle cx="997.8" cy="893.9" r="7"/><circle cx="1103.5" cy="486.7" r="7"/><circle cx="1097.9" cy="490.8" r="7"/><circle cx="1103" cy="517.3" r="7"/><circle cx="1095.3" cy="522.5" r="7"/><circle cx="1091.1" cy="494.3" r="7"/><circle cx="1092.7" cy="475.1" r="7"/><circle cx="1097.4" cy="498.9" r="7"/><circle cx="1097" cy="481.4" r="7"/><circle cx="1100.7" cy="547.6" r="7"/><circle cx="1100.2" cy="525" r="7"/><circle cx="1095.6" cy="484.2" r="7"/><circle cx="1104.4" cy="478" r="7"/><circle cx="1095.2" cy="525.2" r="7"/><circle cx="1101.1" cy="505.6" r="7"/><circle cx="1096.5" cy="544.6" r="7"/><circle cx="1094.7" cy="497.4" r="7"/><circle cx="1097.3" cy="536.3" r="7"/><circle cx="1095.8" cy="488.1" r="7"/><circle cx="1101.7" cy="523.7" r="7"/><circle cx="1090.3" cy="492.2" r="7"/><circle cx="1099.6" cy="542.4" r="7"/><circle cx="1096.9" cy="482.6" r="7"/><circle cx="1093.5" cy="522.9" r="7"/><circle cx="1091.7" cy="484.4" r="7"/><circle cx="1098" cy="548.6" r="7"/><circle cx="1098.3" cy="500.6" r="7"/><circle cx="1093.4" cy="487.9" r="7"/><circle cx="1092" cy="475.2" r="7"/><circle cx="1105.5" cy="480.4" r="7"/><circle cx="1097.5" cy="547" r="7"/><circle cx="1092" cy="481.1" r="7"/><circle cx="1102.2" cy="533" r="7"/><circle cx="1096.7" cy="511.8" r="7"/><circle cx="1101" cy="478.9" r="7"/><circle cx="1096.8" cy="492.8" r="7"/><circle cx="1104.8" cy="500.5" r="7"/><circle cx="1097" cy="485.5" r="7"/><circle cx="1093.5" cy="487.5" r="7"/><circle cx="1093.5" cy="521.3" r="7"/><circle cx="1099.6" cy="507.7" r="7"/><circle cx="1097.7" cy="795.5" r="7"/><circle cx="1095.7" cy="859.5" r="7"/><circle cx="1096.8" cy="712.2" r="7"/><circle cx="1097.8" cy="592.9" r="7"/><circle cx="1089.9" cy="584.7" r="7"/><circle cx="1098.5" cy="593.6" r="7"/><circle cx="1094" cy="635.4" r="7"/><circle cx="1097.1" cy="712.9" r="7"/><circle cx="1098" cy="683.6" r="7"/><circle cx="1097.9" cy="723.6" r="7"/><circle cx="1102" cy="576.5" r="7"/><circle cx="1094.5" cy="632.3" r="7"/><circle cx="1096.5" cy="872" r="7"/><circle cx="1090.9" cy="906.1" r="7"/><circle cx="1098.1" cy="899.2" r="7"/><circle cx="1095" cy="744.2" r="7"/><circle cx="1096.9" cy="869.9" r="7"/><circle cx="1099.5" cy="628.6" r="7"/><circle cx="1099.8" cy="891.9" r="7"/><circle cx="1098.5" cy="720.5" r="7"/><circle cx="1096.5" cy="717.6" r="7"/><circle cx="1095" cy="667.6" r="7"/><circle cx="1098.6" cy="683.7" r="7"/><circle cx="1103.1" cy="594.3" r="7"/><circle cx="1101.9" cy="616.6" r="7"/><circle cx="1096.2" cy="554" r="7"/><circle cx="1093.6" cy="559.1" r="7"/><circle cx="1092.3" cy="724" r="7"/><circle cx="1096.4" cy="636.6" r="7"/><circle cx="1091.2" cy="734.6" r="7"/><circle cx="1091.6" cy="603.7" r="7"/><circle cx="1092.7" cy="847.3" r="7"/><circle cx="1103.7" cy="867.2" r="7"/><circle cx="1094.3" cy="686.1" r="7"/><circle cx="1099.1" cy="633.9" r="7"/><circle cx="1095.1" cy="771.2" r="7"/><circle cx="1098.2" cy="630.3" r="7"/><circle cx="1095.7" cy="563.3" r="7"/><circle cx="1094.4" cy="620.9" r="7"/><circle cx="1097.7" cy="827.1" r="7"/><circle cx="1087.5" cy="698.7" r="7"/><circle cx="1091.4" cy="801.3" r="7"/><circle cx="1107.7" cy="636.2" r="7"/><circle cx="1097.6" cy="726.5" r="7"/><circle cx="1085.8" cy="732.1" r="7"/><circle cx="1095.9" cy="917" r="7"/><circle cx="1094.5" cy="858.6" r="7"/><circle cx="1094.6" cy="624.7" r="7"/><circle cx="1101.7" cy="633.7" r="7"/><circle cx="1096.7" cy="905.6" r="7"/><circle cx="1094.7" cy="677" r="7"/><circle cx="1100.9" cy="797.4" r="7"/><circle cx="1101" cy="610" r="7"/><circle cx="1097.4" cy="856.4" r="7"/><circle cx="1102.9" cy="645.4" r="7"/><circle cx="1096.7" cy="718" r="7"/><circle cx="1090.2" cy="600.9" r="7"/><circle cx="1094" cy="639" r="7"/><circle cx="1105" cy="605.2" r="7"/><circle cx="1104.6" cy="600.7" r="7"/><circle cx="1090.9" cy="878" r="7"/><circle cx="1095.9" cy="571.1" r="7"/><circle cx="1097" cy="766.7" r="7"/><circle cx="1099.4" cy="717.4" r="7"/><circle cx="1088.8" cy="794.8" r="7"/><circle cx="1101.8" cy="868.3" r="7"/><circle cx="1100.2" cy="898.5" r="7"/><circle cx="1095.8" cy="700.9" r="7"/><circle cx="1106.2" cy="588.5" r="7"/><circle cx="1099.9" cy="556.5" r="7"/><circle cx="1095.8" cy="907.8" r="7"/><circle cx="1100.3" cy="872.1" r="7"/><circle cx="1091.9" cy="864.1" r="7"/><circle cx="1099.4" cy="848.6" r="7"/><circle cx="1093.7" cy="593.1" r="7"/><circle cx="1092.3" cy="640.2" r="7"/><circle cx="1093.5" cy="846.4" r="7"/><circle cx="1091.7" cy="882.5" r="7"/><circle cx="1099.6" cy="578.1" r="7"/><circle cx="1096" cy="882.1" r="7"/><circle cx="1094.2" cy="806.1" r="7"/><circle cx="1095.5" cy="644.6" r="7"/><circle cx="1097.1" cy="743.8" r="7"/><circle cx="1101" cy="800.6" r="7"/><circle cx="1103.4" cy="781" r="7"/><circle cx="1100" cy="724.5" r="7"/><circle cx="1092.9" cy="553.6" r="7"/><circle cx="1089.6" cy="725.9" r="7"/><circle cx="1093.6" cy="789.6" r="7"/><circle cx="1090.4" cy="616.7" r="7"/><circle cx="1104.4" cy="636.2" r="7"/><circle cx="1094.7" cy="709.3" r="7"/><circle cx="1099.7" cy="701.4" r="7"/><circle cx="1095.9" cy="905.8" r="7"/><circle cx="1099.4" cy="822" r="7"/><circle cx="1094.8" cy="683.1" r="7"/><circle cx="1092.8" cy="597.2" r="7"/><circle cx="1090.2" cy="632.4" r="7"/><circle cx="1097.5" cy="563.2" r="7"/><circle cx="1100.2" cy="600.3" r="7"/><circle cx="1092.8" cy="578.8" r="7"/><circle cx="1099.3" cy="765.5" r="7"/><circle cx="1102.3" cy="681.6" r="7"/><circle cx="1094.6" cy="810.6" r="7"/><circle cx="1094.2" cy="728.2" r="7"/><circle cx="1097.8" cy="556.5" r="7"/><circle cx="1095.5" cy="686.8" r="7"/><circle cx="1094.3" cy="906.1" r="7"/><circle cx="1097.6" cy="787.6" r="7"/><circle cx="1088.2" cy="784.8" r="7"/><circle cx="1093.5" cy="622.6" r="7"/><circle cx="1085.5" cy="833.5" r="7"/><circle cx="1095.6" cy="854" r="7"/><circle cx="1100" cy="772.4" r="7"/><circle cx="1102.1" cy="767.9" r="7"/><circle cx="1089.3" cy="623.4" r="7"/><circle cx="1102.3" cy="818.5" r="7"/><circle cx="1097.3" cy="650.8" r="7"/><circle cx="1097.1" cy="614.1" r="7"/><circle cx="1096.9" cy="807.5" r="7"/><circle cx="1100" cy="648.1" r="7"/><circle cx="1096.8" cy="813.1" r="7"/><circle cx="1097.6" cy="592.3" r="7"/><circle cx="1096.7" cy="895.8" r="7"/><circle cx="1099.2" cy="674.1" r="7"/><circle cx="1096.3" cy="743.3" r="7"/><circle cx="1094.7" cy="727.2" r="7"/><circle cx="1101" cy="645.7" r="7"/><circle cx="1098.5" cy="610.1" r="7"/><circle cx="1097.4" cy="583.8" r="7"/><circle cx="1091.8" cy="647.3" r="7"/><circle cx="1091.8" cy="842.9" r="7"/><circle cx="1096.2" cy="732" r="7"/><circle cx="1092.7" cy="619.7" r="7"/><circle cx="1101.9" cy="569" r="7"/><circle cx="1094.2" cy="607" r="7"/><circle cx="1095.2" cy="815.3" r="7"/><circle cx="1092.6" cy="634.9" r="7"/><circle cx="1099.1" cy="584.9" r="7"/><circle cx="1089" cy="766.9" r="7"/><circle cx="1099.3" cy="847.5" r="7"/><circle cx="1103.3" cy="842.8" r="7"/><circle cx="1097" cy="795.5" r="7"/><circle cx="1098.7" cy="759.1" r="7"/><circle cx="1098.6" cy="765.5" r="7"/><circle cx="1099" cy="589.9" r="7"/><circle cx="1094.5" cy="645.7" r="7"/><circle cx="1094.2" cy="706.7" r="7"/><circle cx="1089.7" cy="561.4" r="7"/><circle cx="1095.2" cy="818" r="7"/><circle cx="1097.4" cy="786.7" r="7"/><circle cx="1100.4" cy="805.7" r="7"/><circle cx="1089.4" cy="625.7" r="7"/><circle cx="1090.3" cy="665.1" r="7"/><circle cx="1094.9" cy="608.2" r="7"/><circle cx="1093.7" cy="633.7" r="7"/><circle cx="1097.9" cy="815" r="7"/><circle cx="1088.4" cy="904.7" r="7"/><circle cx="1097.8" cy="666.7" r="7"/><circle cx="1093" cy="816.8" r="7"/><circle cx="1102.5" cy="583" r="7"/><circle cx="1098.8" cy="568.2" r="7"/><circle cx="1094.2" cy="894.7" r="7"/><circle cx="1096.5" cy="874.6" r="7"/><circle cx="1093.8" cy="594.2" r="7"/><circle cx="1097.4" cy="737.5" r="7"/><circle cx="1092.5" cy="815" r="7"/><circle cx="1096.2" cy="745.8" r="7"/><circle cx="1097.1" cy="575.9" r="7"/><circle cx="1094.6" cy="693.2" r="7"/><circle cx="1093.3" cy="797.4" r="7"/><circle cx="1097.1" cy="632.1" r="7"/><circle cx="1094.6" cy="813.6" r="7"/><circle cx="1101.4" cy="835" r="7"/><circle cx="1093.3" cy="893.2" r="7"/><circle cx="1100.3" cy="895.5" r="7"/><circle cx="1095.2" cy="718.6" r="7"/><circle cx="1095.3" cy="785.6" r="7"/><circle cx="1096.5" cy="913" r="7"/><circle cx="1098" cy="886.6" r="7"/><circle cx="1100.2" cy="779.2" r="7"/><circle cx="1100.4" cy="661" r="7"/><circle cx="1103.5" cy="835.2" r="7"/><circle cx="1099.9" cy="711.8" r="7"/><circle cx="1100.6" cy="584.8" r="7"/><circle cx="1099" cy="906.5" r="7"/><circle cx="1100.3" cy="834.1" r="7"/><circle cx="1097.9" cy="600" r="7"/><circle cx="1098.1" cy="610.7" r="7"/><circle cx="1097.8" cy="746.8" r="7"/><circle cx="1098.1" cy="614.3" r="7"/><circle cx="1094.4" cy="833" r="7"/><circle cx="1093.1" cy="595.6" r="7"/><circle cx="1098.6" cy="639.8" r="7"/><circle cx="1098.9" cy="646" r="7"/><circle cx="1096.3" cy="824" r="7"/><circle cx="1104.3" cy="724.9" r="7"/><circle cx="1090.6" cy="903.9" r="7"/><circle cx="1093.8" cy="722.1" r="7"/><circle cx="1094.5" cy="814.9" r="7"/><circle cx="1096.5" cy="621.7" r="7"/><circle cx="1094.4" cy="904.5" r="7"/><circle cx="1103.2" cy="675.4" r="7"/><circle cx="1101.9" cy="641.7" r="7"/><circle cx="1096.6" cy="916.5" r="7"/><circle cx="1101.8" cy="605" r="7"/><circle cx="1099.1" cy="613.9" r="7"/><circle cx="1093.6" cy="825.6" r="7"/><circle cx="1095.2" cy="704.8" r="7"/><circle cx="1099.2" cy="854" r="7"/><circle cx="1100.6" cy="553.9" r="7"/><circle cx="1092.3" cy="832.5" r="7"/><circle cx="1089.2" cy="902.2" r="7"/><circle cx="1090.7" cy="671" r="7"/><circle cx="1101.6" cy="648.4" r="7"/><circle cx="1090" cy="685.4" r="7"/><circle cx="1093.8" cy="689.9" r="7"/><circle cx="1099.7" cy="590.8" r="7"/><circle cx="1098.1" cy="701.9" r="7"/><circle cx="1106.5" cy="785.3" r="7"/><circle cx="1102.5" cy="640.4" r="7"/><circle cx="1091.8" cy="890.2" r="7"/><circle cx="1101.3" cy="819.4" r="7"/><circle cx="1083.8" cy="829.3" r="7"/><circle cx="1098.1" cy="792.7" r="7"/><circle cx="1093.6" cy="690.8" r="7"/><circle cx="1098" cy="749.5" r="7"/><circle cx="1094.7" cy="674.5" r="7"/><circle cx="1098.5" cy="862.2" r="7"/><circle cx="1093" cy="863.7" r="7"/><circle cx="1098.5" cy="897.2" r="7"/><circle cx="1095" cy="825.4" r="7"/><circle cx="1093.8" cy="567.8" r="7"/><circle cx="1090.9" cy="872" r="7"/><circle cx="1092" cy="675.5" r="7"/><circle cx="1095.3" cy="839.7" r="7"/><circle cx="1098.6" cy="629.2" r="7"/><circle cx="1087.8" cy="676" r="7"/><circle cx="1096.7" cy="671" r="7"/><circle cx="1098.8" cy="559.6" r="7"/><circle cx="1097.7" cy="576.1" r="7"/><circle cx="1093.6" cy="575" r="7"/><circle cx="1096.6" cy="721" r="7"/><circle cx="1093.7" cy="698.7" r="7"/><circle cx="1100.3" cy="664.7" r="7"/><circle cx="1086.2" cy="784" r="7"/><circle cx="1100.7" cy="882.9" r="7"/><circle cx="1093.6" cy="821.5" r="7"/><circle cx="1093.3" cy="762.1" r="7"/><circle cx="1105.2" cy="589.2" r="7"/><circle cx="1089.5" cy="741.9" r="7"/><circle cx="1092.3" cy="729.1" r="7"/><circle cx="1088.7" cy="796.2" r="7"/><circle cx="1101.4" cy="626.9" r="7"/><circle cx="1094" cy="904.7" r="7"/><circle cx="1100" cy="807.5" r="7"/><circle cx="1103.8" cy="562.9" r="7"/><circle cx="1103.8" cy="768.6" r="7"/><circle cx="1090.2" cy="708.8" r="7"/><circle cx="1099.7" cy="584.2" r="7"/><circle cx="1088.5" cy="841.9" r="7"/><circle cx="1095.5" cy="681.9" r="7"/><circle cx="1098" cy="846.6" r="7"/><circle cx="1104.1" cy="631" r="7"/><circle cx="1107.2" cy="710.4" r="7"/><circle cx="1087.3" cy="690.8" r="7"/><circle cx="1094.1" cy="624.6" r="7"/><circle cx="1086.7" cy="661.7" r="7"/><circle cx="1093.3" cy="619.1" r="7"/><circle cx="1103.2" cy="752.3" r="7"/><circle cx="1090" cy="603" r="7"/><circle cx="1096.7" cy="904" r="7"/><circle cx="1102.5" cy="844.2" r="7"/><circle cx="1096.7" cy="617.8" r="7"/><circle cx="1101.5" cy="831" r="7"/><circle cx="1093.7" cy="871.3" r="7"/><circle cx="1090.1" cy="626.7" r="7"/><circle cx="1104.5" cy="558.7" r="7"/><circle cx="1087.1" cy="883.2" r="7"/><circle cx="1096.6" cy="903.3" r="7"/><circle cx="1086.3" cy="757.2" r="7"/><circle cx="1096" cy="603.2" r="7"/><circle cx="1091.2" cy="706.8" r="7"/><circle cx="1090.8" cy="772.8" r="7"/><circle cx="1096.5" cy="705.5" r="7"/><circle cx="1100.3" cy="739.9" r="7"/><circle cx="1094.8" cy="552.1" r="7"/><circle cx="1097.1" cy="675.9" r="7"/><circle cx="1095.2" cy="637.7" r="7"/><circle cx="1089.4" cy="644.6" r="7"/><circle cx="1094" cy="773.1" r="7"/><circle cx="1096.4" cy="884.5" r="7"/><circle cx="1098.5" cy="816.7" r="7"/><circle cx="1102.4" cy="827.2" r="7"/><circle cx="1095.1" cy="650.8" r="7"/><circle cx="1089.8" cy="860.2" r="7"/><circle cx="1098" cy="899.3" r="7"/><circle cx="1096.1" cy="713.8" r="7"/><circle cx="1098.2" cy="844.8" r="7"/><circle cx="1097.6" cy="800.7" r="7"/><circle cx="1099.9" cy="786.3" r="7"/><circle cx="1100.6" cy="919.1" r="7"/><circle cx="1092.8" cy="640.7" r="7"/><circle cx="1103.3" cy="623.6" r="7"/><circle cx="1099.2" cy="778.7" r="7"/><circle cx="1100.7" cy="662.2" r="7"/><circle cx="1098.4" cy="581.4" r="7"/><circle cx="1099.4" cy="621.5" r="7"/><circle cx="1094.6" cy="617.9" r="7"/><circle cx="1101.6" cy="727.5" r="7"/><circle cx="1085.5" cy="729.9" r="7"/><circle cx="1101.2" cy="899.6" r="7"/><circle cx="1093.8" cy="769" r="7"/><circle cx="1097.3" cy="603.5" r="7"/><circle cx="1097.6" cy="809.5" r="7"/><circle cx="1098.3" cy="907.8" r="7"/><circle cx="1093.3" cy="707.3" r="7"/><circle cx="1099.1" cy="680.2" r="7"/><circle cx="1095.1" cy="606.4" r="7"/><circle cx="1092.6" cy="869.8" r="7"/><circle cx="1096.3" cy="864.3" r="7"/><circle cx="1096.5" cy="819.5" r="7"/><circle cx="1092.9" cy="890.5" r="7"/><circle cx="1101.8" cy="698.6" r="7"/><circle cx="1093.3" cy="755.1" r="7"/><circle cx="1098.3" cy="795.2" r="7"/><circle cx="1095.7" cy="603.8" r="7"/><circle cx="1085.8" cy="685.4" r="7"/><circle cx="1101.5" cy="768.3" r="7"/><circle cx="1090.3" cy="800.6" r="7"/><circle cx="1090.9" cy="753.3" r="7"/><circle cx="1105.9" cy="698.9" r="7"/><circle cx="1097.6" cy="882.1" r="7"/><circle cx="1098.8" cy="846.2" r="7"/><circle cx="1100.7" cy="727.5" r="7"/><circle cx="1097.4" cy="733.4" r="7"/><circle cx="1090.5" cy="679.4" r="7"/><circle cx="1104" cy="746.8" r="7"/><circle cx="1102.5" cy="726.5" r="7"/><circle cx="1094" cy="673.1" r="7"/><circle cx="1092.1" cy="840.8" r="7"/><circle cx="1100.7" cy="646.4" r="7"/><circle cx="1093.7" cy="684.3" r="7"/><circle cx="1100" cy="887.8" r="7"/><circle cx="1093.2" cy="673" r="7"/><circle cx="1095.9" cy="853.9" r="7"/><circle cx="1100.4" cy="558.1" r="7"/><circle cx="1102.6" cy="621.5" r="7"/><circle cx="1104.3" cy="604.3" r="7"/><circle cx="1099.7" cy="634.4" r="7"/><circle cx="1100" cy="821.4" r="7"/><circle cx="1098" cy="816.5" r="7"/><circle cx="1106" cy="753.8" r="7"/><circle cx="1090.9" cy="891.1" r="7"/><circle cx="1105.4" cy="710.6" r="7"/><circle cx="1102.2" cy="621.4" r="7"/><circle cx="1096.6" cy="692.7" r="7"/><circle cx="1087.8" cy="584.5" r="7"/><circle cx="1102" cy="770.9" r="7"/><circle cx="1091.3" cy="911.4" r="7"/><circle cx="1098.2" cy="596" r="7"/><circle cx="1097.1" cy="558.1" r="7"/><circle cx="1095.1" cy="591.6" r="7"/><circle cx="1090.6" cy="610" r="7"/><circle cx="1099.3" cy="798.8" r="7"/><circle cx="1102.3" cy="908.7" r="7"/><circle cx="1088.7" cy="710.7" r="7"/><circle cx="1106.3" cy="694.6" r="7"/><circle cx="1096.7" cy="910.6" r="7"/><circle cx="1100" cy="918.1" r="7"/><circle cx="1096" cy="616.6" r="7"/><circle cx="1094" cy="606.3" r="7"/><circle cx="1092.4" cy="571.8" r="7"/><circle cx="1102.7" cy="746.2" r="7"/><circle cx="1096.2" cy="712.6" r="7"/><circle cx="1095.7" cy="842.6" r="7"/><circle cx="1092.3" cy="876.1" r="7"/><circle cx="1094.5" cy="772.4" r="7"/><circle cx="1094.4" cy="899" r="7"/><circle cx="1100.6" cy="868" r="7"/><circle cx="1101.7" cy="602.7" r="7"/><circle cx="1093.8" cy="614.8" r="7"/><circle cx="1091.6" cy="551.7" r="7"/><circle cx="1101.3" cy="846.8" r="7"/><circle cx="1097.9" cy="552.1" r="7"/><circle cx="1091.5" cy="845.3" r="7"/><circle cx="1091" cy="760.9" r="7"/><circle cx="1100.2" cy="819.5" r="7"/><circle cx="1087.1" cy="903.5" r="7"/><circle cx="1102.9" cy="893.7" r="7"/><circle cx="1093.8" cy="689.3" r="7"/><circle cx="1094.1" cy="649.5" r="7"/><circle cx="1103.3" cy="841.6" r="7"/><circle cx="1092.2" cy="853.9" r="7"/><circle cx="1103.6" cy="667.8" r="7"/><circle cx="1096.3" cy="830.3" r="7"/><circle cx="1096.3" cy="608.6" r="7"/><circle cx="1102.9" cy="867.3" r="7"/><circle cx="1093.1" cy="891.5" r="7"/><circle cx="1097" cy="580.7" r="7"/><circle cx="1103.6" cy="605.2" r="7"/><circle cx="1093.5" cy="831.6" r="7"/><circle cx="1087.9" cy="767" r="7"/><circle cx="1092.4" cy="708.1" r="7"/><circle cx="1098.5" cy="837.5" r="7"/><circle cx="1095.9" cy="588.1" r="7"/><circle cx="1096.4" cy="872.4" r="7"/><circle cx="1098.9" cy="713.5" r="7"/><circle cx="1096.2" cy="820.2" r="7"/><circle cx="1093.3" cy="790" r="7"/><circle cx="1101" cy="817.1" r="7"/><circle cx="1099.8" cy="629.4" r="7"/><circle cx="1094.7" cy="687.1" r="7"/><circle cx="1093.7" cy="890.4" r="7"/><circle cx="1111.5" cy="707.9" r="7"/><circle cx="1091.2" cy="761.6" r="7"/><circle cx="1099.5" cy="718.8" r="7"/><circle cx="1089.7" cy="869.5" r="7"/><circle cx="1087.8" cy="724.9" r="7"/><circle cx="1103.1" cy="593.9" r="7"/><circle cx="1096.7" cy="801.4" r="7"/><circle cx="1094.2" cy="569.8" r="7"/><circle cx="1102.3" cy="823.9" r="7"/><circle cx="1096.3" cy="598.5" r="7"/><circle cx="1093.9" cy="642.2" r="7"/><circle cx="1093.4" cy="851.5" r="7"/><circle cx="1101.8" cy="582.1" r="7"/><circle cx="1097.8" cy="865" r="7"/><circle cx="1097.7" cy="721.9" r="7"/><circle cx="1096" cy="723.5" r="7"/><circle cx="1095.3" cy="677" r="7"/><circle cx="1089.6" cy="895.1" r="7"/><circle cx="1097.7" cy="851.4" r="7"/><circle cx="1099" cy="594.4" r="7"/><circle cx="1098.8" cy="674.4" r="7"/><circle cx="1101.6" cy="610.6" r="7"/><circle cx="1101.3" cy="840.8" r="7"/><circle cx="1094.6" cy="642.6" r="7"/><circle cx="1099.4" cy="885.4" r="7"/><circle cx="1095.1" cy="776.8" r="7"/><circle cx="1104.3" cy="783.4" r="7"/><circle cx="1095.3" cy="747.2" r="7"/><circle cx="1099.7" cy="586.4" r="7"/><circle cx="1092.9" cy="888.1" r="7"/><circle cx="1099.1" cy="825.5" r="7"/><circle cx="1090.3" cy="635.9" r="7"/><circle cx="1088.6" cy="905.9" r="7"/><circle cx="1098.6" cy="891.6" r="7"/><circle cx="1100.4" cy="755" r="7"/><circle cx="1102.5" cy="699.9" r="7"/><circle cx="1097.9" cy="724" r="7"/><circle cx="1098.9" cy="732.5" r="7"/><circle cx="1096.2" cy="755" r="7"/><circle cx="1101" cy="831.9" r="7"/><circle cx="1094.5" cy="877.8" r="7"/><circle cx="1095.3" cy="686" r="7"/><circle cx="1109.1" cy="601.9" r="7"/><circle cx="1093.5" cy="765.4" r="7"/><circle cx="1101.1" cy="752.6" r="7"/><circle cx="1095.8" cy="666.1" r="7"/><circle cx="1099.7" cy="595.9" r="7"/><circle cx="1097.3" cy="655.2" r="7"/><circle cx="1092.8" cy="900.8" r="7"/><circle cx="1092.5" cy="803.6" r="7"/><circle cx="1089.6" cy="784.6" r="7"/><circle cx="1105.1" cy="751" r="7"/><circle cx="1101.1" cy="683.3" r="7"/><circle cx="1091.6" cy="773.8" r="7"/><circle cx="1093" cy="640.4" r="7"/><circle cx="1108" cy="910" r="7"/><circle cx="1097.3" cy="754.7" r="7"/><circle cx="1097" cy="626.1" r="7"/><circle cx="1094.5" cy="859.6" r="7"/><circle cx="1096.6" cy="797.6" r="7"/><circle cx="1092.6" cy="917.1" r="7"/><circle cx="1087.3" cy="800.9" r="7"/><circle cx="1096.7" cy="568.2" r="7"/><circle cx="1096.5" cy="707.8" r="7"/><circle cx="1100.6" cy="760.3" r="7"/><circle cx="1096" cy="553.3" r="7"/><circle cx="1088.4" cy="768.1" r="7"/><circle cx="1101.6" cy="855" r="7"/><circle cx="1099.8" cy="616.3" r="7"/><circle cx="1097" cy="857.9" r="7"/><circle cx="1105.1" cy="649" r="7"/><circle cx="1103" cy="875.8" r="7"/><circle cx="1092.8" cy="907.6" r="7"/><circle cx="1096.3" cy="699.9" r="7"/><circle cx="1096.2" cy="857.3" r="7"/><circle cx="1095.1" cy="913" r="7"/><circle cx="1102.5" cy="650" r="7"/><circle cx="1101.5" cy="604.7" r="7"/><circle cx="1092.4" cy="902.8" r="7"/><circle cx="1101.7" cy="917.8" r="7"/><circle cx="1103" cy="791.8" r="7"/><circle cx="1096.5" cy="609.6" r="7"/><circle cx="1095.9" cy="682.8" r="7"/><circle cx="1091.1" cy="883" r="7"/><circle cx="1096.7" cy="608.5" r="7"/><circle cx="1099.2" cy="605.3" r="7"/><circle cx="1089.9" cy="609.2" r="7"/><circle cx="1092.5" cy="736" r="7"/><circle cx="1091.6" cy="702.7" r="7"/><circle cx="1094.1" cy="751.1" r="7"/><circle cx="1098.3" cy="706.4" r="7"/><circle cx="1096.9" cy="637.6" r="7"/><circle cx="1096.9" cy="854.9" r="7"/><circle cx="1093.4" cy="639.3" r="7"/><circle cx="1101" cy="693.4" r="7"/><circle cx="1099.5" cy="674.1" r="7"/><circle cx="1097" cy="797.9" r="7"/><circle cx="1093.6" cy="858.8" r="7"/><circle cx="1091.6" cy="891.7" r="7"/><circle cx="1098.3" cy="773.5" r="7"/><circle cx="1097.4" cy="580.4" r="7"/><circle cx="1098.3" cy="672.7" r="7"/><circle cx="1102.3" cy="706.7" r="7"/><circle cx="1100.2" cy="664.2" r="7"/><circle cx="1086.2" cy="640.4" r="7"/><circle cx="1095.9" cy="607.2" r="7"/><circle cx="1095.4" cy="886.7" r="7"/><circle cx="1100.5" cy="811.3" r="7"/><circle cx="1094.3" cy="566.8" r="7"/><circle cx="1097.9" cy="595.3" r="7"/><circle cx="1100.5" cy="607.9" r="7"/><circle cx="1091.4" cy="781.3" r="7"/><circle cx="1101.7" cy="674.1" r="7"/><circle cx="1098.7" cy="587.9" r="7"/><circle cx="1096.4" cy="738.9" r="7"/><circle cx="1089.6" cy="612.2" r="7"/><circle cx="1094.4" cy="794.7" r="7"/><circle cx="1092.5" cy="583.8" r="7"/><circle cx="1097" cy="632.4" r="7"/><circle cx="1096.5" cy="697.4" r="7"/><circle cx="1097.3" cy="804.4" r="7"/><circle cx="1098.6" cy="917.7" r="7"/><circle cx="1094.9" cy="798.1" r="7"/><circle cx="1099.8" cy="632.4" r="7"/><circle cx="1091.2" cy="709.4" r="7"/><circle cx="1100.7" cy="607.6" r="7"/><circle cx="1101.8" cy="916.5" r="7"/><circle cx="1099.1" cy="890.4" r="7"/><circle cx="1101" cy="730.7" r="7"/><circle cx="1099.9" cy="621.8" r="7"/><circle cx="1094.2" cy="849.2" r="7"/><circle cx="1092.1" cy="658" r="7"/><circle cx="1104.3" cy="725.2" r="7"/><circle cx="1093.4" cy="602.3" r="7"/><circle cx="1094.4" cy="803.7" r="7"/><circle cx="1097" cy="808.1" r="7"/><circle cx="1085.9" cy="566.7" r="7"/><circle cx="1090.9" cy="814.7" r="7"/><circle cx="1097.4" cy="669.2" r="7"/><circle cx="1094.6" cy="569.9" r="7"/><circle cx="1090.5" cy="678.8" r="7"/><circle cx="1093.1" cy="807.3" r="7"/><circle cx="1092" cy="652.5" r="7"/><circle cx="1102" cy="911.9" r="7"/><circle cx="1096.4" cy="583.8" r="7"/><circle cx="1096.9" cy="818.7" r="7"/><circle cx="1101" cy="607.5" r="7"/><circle cx="1091.9" cy="872.7" r="7"/><circle cx="1096.3" cy="690.8" r="7"/><circle cx="1094.6" cy="798.5" r="7"/><circle cx="1098.1" cy="680.8" r="7"/><circle cx="1096.8" cy="873.6" r="7"/><circle cx="1100.7" cy="886.3" r="7"/><circle cx="1096.6" cy="840.8" r="7"/><circle cx="1100.7" cy="908.7" r="7"/><circle cx="1092.2" cy="788.3" r="7"/><circle cx="1102.2" cy="622.7" r="7"/><circle cx="1094.9" cy="741.9" r="7"/><circle cx="1092.7" cy="688.3" r="7"/><circle cx="1097.2" cy="738.9" r="7"/><circle cx="1094" cy="652.6" r="7"/><circle cx="1095.1" cy="736.1" r="7"/><circle cx="1092" cy="795.7" r="7"/><circle cx="1096.6" cy="618.6" r="7"/><circle cx="1093.2" cy="834.9" r="7"/><circle cx="1096" cy="810.4" r="7"/><circle cx="1097.8" cy="642.1" r="7"/><circle cx="1091.4" cy="892.5" r="7"/><circle cx="1092.4" cy="657.4" r="7"/><circle cx="1096.4" cy="698.8" r="7"/><circle cx="1094.6" cy="728.6" r="7"/><circle cx="1088.7" cy="820.5" r="7"/><circle cx="1097.9" cy="682.4" r="7"/><circle cx="1101.5" cy="663.4" r="7"/><circle cx="1091.9" cy="821.3" r="7"/><circle cx="1102.6" cy="626.7" r="7"/><circle cx="1097.5" cy="792.2" r="7"/><circle cx="1104.6" cy="800.2" r="7"/><circle cx="1092.2" cy="650.9" r="7"/><circle cx="1091.5" cy="572.5" r="7"/><circle cx="1096" cy="905.9" r="7"/><circle cx="1097.6" cy="744.2" r="7"/><circle cx="1091.1" cy="847.6" r="7"/><circle cx="1086.4" cy="634.8" r="7"/><circle cx="1095.6" cy="844.4" r="7"/><circle cx="1098.6" cy="822.7" r="7"/><circle cx="1092.4" cy="649.8" r="7"/><circle cx="1097.1" cy="730.3" r="7"/><circle cx="1094.5" cy="864.1" r="7"/><circle cx="1087.4" cy="871" r="7"/><circle cx="1092.4" cy="666.2" r="7"/><circle cx="1098.5" cy="910.5" r="7"/><circle cx="1097.8" cy="653.9" r="7"/><circle cx="1099.1" cy="891.2" r="7"/><circle cx="1099.2" cy="865.1" r="7"/><circle cx="1093.5" cy="879.6" r="7"/><circle cx="1094.1" cy="835.9" r="7"/><circle cx="1098" cy="688.6" r="7"/><circle cx="1103.8" cy="712.6" r="7"/><circle cx="1103.4" cy="697.1" r="7"/><circle cx="1093.9" cy="557.5" r="7"/><circle cx="1094.8" cy="694.3" r="7"/><circle cx="1096.2" cy="687.6" r="7"/><circle cx="1097.2" cy="831.7" r="7"/><circle cx="1093.4" cy="781.1" r="7"/><circle cx="1102.6" cy="619.7" r="7"/><circle cx="1103.4" cy="776.1" r="7"/><circle cx="1097.6" cy="658.7" r="7"/><circle cx="1099.5" cy="886.4" r="7"/><circle cx="1105.2" cy="636.3" r="7"/><circle cx="1091.7" cy="669.1" r="7"/><circle cx="1093.7" cy="563.5" r="7"/><circle cx="1093.8" cy="772.7" r="7"/><circle cx="1102.5" cy="738.7" r="7"/><circle cx="1099" cy="665.2" r="7"/><circle cx="1098.9" cy="704.1" r="7"/><circle cx="1090.4" cy="592.9" r="7"/><circle cx="1104.1" cy="915" r="7"/><circle cx="1097.3" cy="640.1" r="7"/><circle cx="1105.6" cy="767.3" r="7"/><circle cx="1095.8" cy="844.7" r="7"/><circle cx="1097.6" cy="849.9" r="7"/><circle cx="1095.8" cy="727.3" r="7"/><circle cx="1104.5" cy="915.2" r="7"/><circle cx="1100.9" cy="634.3" r="7"/><circle cx="1098.2" cy="781.2" r="7"/><circle cx="1098.2" cy="752.9" r="7"/><circle cx="1088.2" cy="693.3" r="7"/><circle cx="1097.4" cy="646.2" r="7"/><circle cx="1094.7" cy="828.5" r="7"/><circle cx="1083.5" cy="583.6" r="7"/><circle cx="1101.9" cy="720.9" r="7"/><circle cx="1096.8" cy="584.6" r="7"/><circle cx="1097" cy="583.7" r="7"/><circle cx="1093.5" cy="737.9" r="7"/><circle cx="1100.2" cy="657" r="7"/><circle cx="1095.1" cy="913.3" r="7"/><circle cx="1091.6" cy="612.6" r="7"/><circle cx="1091.5" cy="687.6" r="7"/><circle cx="1096.4" cy="868.6" r="7"/><circle cx="1099.1" cy="682.4" r="7"/><circle cx="1105.7" cy="674.1" r="7"/><circle cx="1092.4" cy="655.1" r="7"/><circle cx="1092.9" cy="581.2" r="7"/><circle cx="1100.9" cy="592.3" r="7"/><circle cx="1095.5" cy="792.9" r="7"/><circle cx="1092.8" cy="671.5" r="7"/><circle cx="1095.9" cy="862.7" r="7"/><circle cx="1094.3" cy="904.1" r="7"/><circle cx="1100.7" cy="683.5" r="7"/><circle cx="1094.5" cy="795.1" r="7"/><circle cx="1098.3" cy="796" r="7"/><circle cx="1092.4" cy="636.1" r="7"/><circle cx="1098.3" cy="842.3" r="7"/><circle cx="1088.5" cy="688.7" r="7"/><circle cx="1099" cy="821.4" r="7"/><circle cx="1099.8" cy="905.4" r="7"/><circle cx="1097.3" cy="802.5" r="7"/><circle cx="1094.4" cy="724.8" r="7"/><circle cx="1092" cy="623.1" r="7"/><circle cx="1099.7" cy="806.7" r="7"/><circle cx="1102.5" cy="645.7" r="7"/><circle cx="1095.2" cy="776.8" r="7"/><circle cx="1094.8" cy="613.5" r="7"/><circle cx="1092.8" cy="753.7" r="7"/><circle cx="1096.5" cy="599.6" r="7"/><circle cx="1090.5" cy="599.9" r="7"/><circle cx="1097.4" cy="664.2" r="7"/><circle cx="1094.3" cy="778.2" r="7"/><circle cx="1091.6" cy="838.6" r="7"/><circle cx="1093.9" cy="713.7" r="7"/><circle cx="1095.3" cy="857.2" r="7"/><circle cx="1089.9" cy="684.7" r="7"/><circle cx="1093.7" cy="715.9" r="7"/><circle cx="1104.9" cy="791.5" r="7"/><circle cx="1095.2" cy="589.4" r="7"/><circle cx="1095.8" cy="895.5" r="7"/><circle cx="1096" cy="909.7" r="7"/><circle cx="1096.2" cy="862.9" r="7"/><circle cx="1093.2" cy="615.6" r="7"/><circle cx="1099.3" cy="555.8" r="7"/><circle cx="1091.9" cy="879.4" r="7"/><circle cx="1088.9" cy="804.7" r="7"/><circle cx="1099.8" cy="747.1" r="7"/><circle cx="1098.7" cy="882.5" r="7"/><circle cx="1094.4" cy="675.4" r="7"/><circle cx="1100.8" cy="574.5" r="7"/><circle cx="1097.4" cy="576.7" r="7"/><circle cx="1095.1" cy="609.1" r="7"/><circle cx="1095.1" cy="658.3" r="7"/><circle cx="1094.9" cy="885" r="7"/><circle cx="1106.7" cy="871.9" r="7"/><circle cx="1101.6" cy="844.4" r="7"/><circle cx="1096.4" cy="653.9" r="7"/><circle cx="1104.1" cy="820.9" r="7"/><circle cx="1093.1" cy="634.2" r="7"/><circle cx="1105.3" cy="754.3" r="7"/><circle cx="1102.3" cy="776.6" r="7"/><circle cx="1098.4" cy="808.7" r="7"/><circle cx="1094.8" cy="721.7" r="7"/><circle cx="1097.8" cy="622.8" r="7"/><circle cx="1091.9" cy="903.9" r="7"/><circle cx="1095.3" cy="857.6" r="7"/><circle cx="1104" cy="641.7" r="7"/><circle cx="1095.2" cy="632.9" r="7"/><circle cx="1092.5" cy="630.4" r="7"/><circle cx="1100.9" cy="738.6" r="7"/><circle cx="1095.5" cy="735.5" r="7"/><circle cx="1104.2" cy="825.7" r="7"/><circle cx="1098" cy="874.1" r="7"/><circle cx="1094.8" cy="678.6" r="7"/><circle cx="1099.1" cy="820.9" r="7"/><circle cx="1094.2" cy="744.1" r="7"/><circle cx="1092.9" cy="607" r="7"/><circle cx="1101.2" cy="737.5" r="7"/><circle cx="1094.2" cy="841.2" r="7"/><circle cx="1099" cy="680.7" r="7"/><circle cx="1103.6" cy="850.6" r="7"/><circle cx="1099.7" cy="785.2" r="7"/><circle cx="1098.8" cy="728.5" r="7"/><circle cx="1092.5" cy="630.6" r="7"/><circle cx="1100.9" cy="711.8" r="7"/><circle cx="1104.8" cy="644" r="7"/><circle cx="1096.8" cy="857.4" r="7"/><circle cx="1091" cy="781.6" r="7"/><circle cx="1094.8" cy="596.4" r="7"/><circle cx="1097.4" cy="869.2" r="7"/><circle cx="1093" cy="841" r="7"/><circle cx="1093.1" cy="711.6" r="7"/><circle cx="1089.3" cy="799.1" r="7"/><circle cx="1099.5" cy="587.3" r="7"/><circle cx="1095.9" cy="702.4" r="7"/><circle cx="1094.2" cy="631.8" r="7"/><circle cx="1096.6" cy="870.6" r="7"/><circle cx="1094.8" cy="617.7" r="7"/><circle cx="1098.4" cy="763.7" r="7"/><circle cx="1098.6" cy="749" r="7"/><circle cx="1101.5" cy="712.7" r="7"/><circle cx="1088.2" cy="556.2" r="7"/><circle cx="1096.5" cy="894.1" r="7"/><circle cx="1097.1" cy="834" r="7"/><circle cx="1097.9" cy="760.9" r="7"/><circle cx="1093.7" cy="839" r="7"/><circle cx="1096" cy="663.4" r="7"/><circle cx="1096.3" cy="761.9" r="7"/><circle cx="1093.5" cy="789.8" r="7"/><circle cx="1093.2" cy="574.1" r="7"/><circle cx="1100.4" cy="788" r="7"/><circle cx="1095.8" cy="753.8" r="7"/><circle cx="1094.3" cy="821.2" r="7"/><circle cx="1103.7" cy="872.1" r="7"/><circle cx="1101.8" cy="568.7" r="7"/><circle cx="1096.8" cy="643.5" r="7"/><circle cx="1098.6" cy="581.9" r="7"/><circle cx="1093.3" cy="661" r="7"/><circle cx="1097" cy="720.8" r="7"/><circle cx="1091.2" cy="817.4" r="7"/><circle cx="1102.5" cy="592.2" r="7"/><circle cx="1096.8" cy="671.8" r="7"/><circle cx="1097.3" cy="590" r="7"/><circle cx="1094.2" cy="918.4" r="7"/><circle cx="1089.3" cy="627.3" r="7"/><circle cx="1104.1" cy="702.3" r="7"/><circle cx="1098.5" cy="894.5" r="7"/><circle cx="1093.7" cy="576.9" r="7"/><circle cx="1099.2" cy="900.7" r="7"/><circle cx="1091.9" cy="711.7" r="7"/><circle cx="1096.4" cy="834.4" r="7"/><circle cx="1099.2" cy="615.9" r="7"/><circle cx="1092.3" cy="700.3" r="7"/><circle cx="1100.3" cy="794.5" r="7"/><circle cx="1093.8" cy="757.1" r="7"/><circle cx="1091" cy="640.7" r="7"/><circle cx="1098.1" cy="756.2" r="7"/><circle cx="1097.9" cy="686.5" r="7"/><circle cx="1095.4" cy="875.8" r="7"/><circle cx="1097.5" cy="782" r="7"/><circle cx="1096.6" cy="783.9" r="7"/><circle cx="1099.5" cy="598.5" r="7"/><circle cx="1092.5" cy="661.1" r="7"/><circle cx="1095" cy="625.7" r="7"/><circle cx="1089.7" cy="787.8" r="7"/><circle cx="1093.1" cy="558.1" r="7"/><circle cx="1091.2" cy="713.4" r="7"/><circle cx="1094" cy="674.6" r="7"/><circle cx="1102.1" cy="597.4" r="7"/><circle cx="1095" cy="842.5" r="7"/><circle cx="1093.5" cy="663.1" r="7"/><circle cx="1088.9" cy="592.8" r="7"/><circle cx="1094.4" cy="820.5" r="7"/><circle cx="1106.3" cy="559.3" r="7"/><circle cx="1101.1" cy="817.9" r="7"/><circle cx="1094.8" cy="696.1" r="7"/><circle cx="1098.8" cy="735.5" r="7"/><circle cx="1094.8" cy="743.4" r="7"/><circle cx="1097.9" cy="661" r="7"/><circle cx="1101.1" cy="711.1" r="7"/><circle cx="1095.8" cy="634.4" r="7"/><circle cx="1100.6" cy="789.1" r="7"/><circle cx="1096" cy="858.1" r="7"/><circle cx="1090.8" cy="653.1" r="7"/><circle cx="1101.4" cy="590.5" r="7"/><circle cx="1101.5" cy="873.4" r="7"/><circle cx="1098" cy="625.1" r="7"/><circle cx="1089.6" cy="652.2" r="7"/><circle cx="1099.5" cy="606.5" r="7"/><circle cx="1092" cy="897.2" r="7"/><circle cx="1096.2" cy="882" r="7"/><circle cx="1097.2" cy="704" r="7"/><circle cx="1102.5" cy="562.5" r="7"/><circle cx="1087.3" cy="662" r="7"/><circle cx="1100.2" cy="766.9" r="7"/><circle cx="1096.3" cy="891.9" r="7"/><circle cx="1095.2" cy="590.4" r="7"/><circle cx="1094.5" cy="557.2" r="7"/><circle cx="1103.5" cy="688.9" r="7"/><circle cx="1100.3" cy="555.8" r="7"/><circle cx="1100.4" cy="605.9" r="7"/><circle cx="1097.1" cy="583.5" r="7"/><circle cx="1098.6" cy="622" r="7"/><circle cx="1094.3" cy="853.8" r="7"/><circle cx="1096.5" cy="704.2" r="7"/><circle cx="1096.7" cy="860.6" r="7"/><circle cx="1100.1" cy="567.4" r="7"/><circle cx="1096.6" cy="899.5" r="7"/><circle cx="1094.7" cy="701" r="7"/><circle cx="1089.4" cy="587.2" r="7"/><circle cx="1091.6" cy="573.7" r="7"/><circle cx="1094.7" cy="816.8" r="7"/><circle cx="1091.1" cy="652.8" r="7"/><circle cx="1093.8" cy="711.7" r="7"/><circle cx="1096.8" cy="654.2" r="7"/><circle cx="1093.5" cy="651.7" r="7"/><circle cx="1094.8" cy="787.7" r="7"/><circle cx="1103.7" cy="733.4" r="7"/><circle cx="1100.9" cy="634.7" r="7"/><circle cx="1100.8" cy="1043.5" r="7"/><circle cx="1100.3" cy="1096.3" r="7"/><circle cx="1093.5" cy="1138.7" r="7"/><circle cx="1100" cy="987.1" r="7"/><circle cx="1106.2" cy="1162.6" r="7"/><circle cx="1095.6" cy="1151.1" r="7"/><circle cx="1096.4" cy="1069.9" r="7"/><circle cx="1105" cy="970" r="7"/><circle cx="1103.2" cy="1118.4" r="7"/><circle cx="1096.6" cy="1056.7" r="7"/><circle cx="1104.6" cy="963" r="7"/><circle cx="1101" cy="983.5" r="7"/><circle cx="1094.5" cy="1033.3" r="7"/><circle cx="1094.8" cy="1094.8" r="7"/><circle cx="1102.2" cy="945.6" r="7"/><circle cx="1100.5" cy="1036.5" r="7"/><circle cx="1092.7" cy="930.6" r="7"/><circle cx="1091.2" cy="966.8" r="7"/><circle cx="1101.1" cy="1024.1" r="7"/><circle cx="1095.6" cy="1011.8" r="7"/><circle cx="1094.3" cy="1079.3" r="7"/><circle cx="1089.8" cy="1018.6" r="7"/><circle cx="1091.8" cy="966" r="7"/><circle cx="1094.4" cy="1152.6" r="7"/><circle cx="1104.3" cy="1163.2" r="7"/><circle cx="1095" cy="1034.1" r="7"/><circle cx="1098.5" cy="1102" r="7"/><circle cx="1093.9" cy="1095.2" r="7"/><circle cx="1104.6" cy="1135.4" r="7"/><circle cx="1093.5" cy="985.6" r="7"/><circle cx="1097.9" cy="996.6" r="7"/><circle cx="1091.8" cy="1010.3" r="7"/><circle cx="1099.3" cy="1126.9" r="7"/><circle cx="1088.5" cy="1084" r="7"/><circle cx="1098" cy="1059.2" r="7"/><circle cx="1099" cy="971.9" r="7"/><circle cx="1095.6" cy="957.9" r="7"/><circle cx="1098.5" cy="1095.7" r="7"/><circle cx="1098.2" cy="1000.6" r="7"/><circle cx="1105.3" cy="1128" r="7"/><circle cx="1095.6" cy="1016.7" r="7"/><circle cx="1100.1" cy="923" r="7"/><circle cx="1092.7" cy="923.1" r="7"/><circle cx="1098.5" cy="1131.1" r="7"/><circle cx="1096.6" cy="1155.3" r="7"/><circle cx="1096.8" cy="976" r="7"/><circle cx="1096.7" cy="944.4" r="7"/><circle cx="1097.7" cy="1093.9" r="7"/><circle cx="1092.1" cy="980.3" r="7"/><circle cx="1094.1" cy="990.3" r="7"/><circle cx="1101" cy="1162.4" r="7"/><circle cx="1095.9" cy="1137.2" r="7"/><circle cx="1102.9" cy="925.2" r="7"/><circle cx="1102.9" cy="1094.2" r="7"/><circle cx="1099.3" cy="1054.7" r="7"/><circle cx="1090.3" cy="1119.1" r="7"/><circle cx="1099.9" cy="985.1" r="7"/><circle cx="1101.4" cy="1017.8" r="7"/><circle cx="1099.3" cy="1060.4" r="7"/><circle cx="1103.3" cy="1110.9" r="7"/><circle cx="1092.5" cy="1145.9" r="7"/><circle cx="1092.3" cy="1119.1" r="7"/><circle cx="1093.1" cy="1147.3" r="7"/><circle cx="1095.1" cy="1010.9" r="7"/><circle cx="1100" cy="1093.1" r="7"/><circle cx="1099.2" cy="1148.2" r="7"/><circle cx="1092.7" cy="1149.6" r="7"/><circle cx="1091.5" cy="1110.6" r="7"/><circle cx="1092" cy="1106.1" r="7"/><circle cx="1098.4" cy="997.8" r="7"/><circle cx="1101.6" cy="1118.2" r="7"/><circle cx="1100.7" cy="980.8" r="7"/><circle cx="1092.9" cy="951.3" r="7"/><circle cx="1088" cy="953.3" r="7"/><circle cx="1092.7" cy="1152.6" r="7"/><circle cx="1096.9" cy="1164.2" r="7"/><circle cx="1089.2" cy="1074.8" r="7"/><circle cx="1099.4" cy="962.5" r="7"/><circle cx="1099.5" cy="938.6" r="7"/><circle cx="1096.2" cy="1030.9" r="7"/><circle cx="1101.9" cy="1021" r="7"/><circle cx="1097.3" cy="1153.8" r="7"/><circle cx="1089.2" cy="1111" r="7"/><circle cx="1101.3" cy="1063.6" r="7"/><circle cx="1097" cy="1040.4" r="7"/><circle cx="1100.6" cy="1016.8" r="7"/><circle cx="1093.5" cy="999.1" r="7"/><circle cx="1092.5" cy="1068.7" r="7"/><circle cx="1099.8" cy="1002.2" r="7"/><circle cx="1096.7" cy="923" r="7"/><circle cx="1098" cy="1023.6" r="7"/><circle cx="1097.6" cy="1124.9" r="7"/><circle cx="1093" cy="1125.1" r="7"/><circle cx="1085.6" cy="1063.5" r="7"/><circle cx="1096.1" cy="1014" r="7"/><circle cx="1096.4" cy="984.1" r="7"/><circle cx="1095.5" cy="1052.9" r="7"/><circle cx="1095.6" cy="1012" r="7"/><circle cx="1092.2" cy="945" r="7"/><circle cx="1097" cy="1099.2" r="7"/><circle cx="1098.6" cy="948.4" r="7"/><circle cx="1091" cy="1066.8" r="7"/><circle cx="1105.8" cy="1105.8" r="7"/><circle cx="1087.2" cy="931.2" r="7"/><circle cx="1101.5" cy="987.8" r="7"/><circle cx="1092.1" cy="1145.4" r="7"/><circle cx="1101.1" cy="980.6" r="7"/><circle cx="1088.2" cy="1061.4" r="7"/><circle cx="1094" cy="1106.5" r="7"/><circle cx="1099.3" cy="1071" r="7"/><circle cx="1094" cy="1147.4" r="7"/><circle cx="1101.6" cy="1058.8" r="7"/><circle cx="1101.7" cy="1163.1" r="7"/><circle cx="1093.7" cy="927.1" r="7"/><circle cx="1091.2" cy="1098.1" r="7"/><circle cx="1098.2" cy="1157.3" r="7"/><circle cx="1093.1" cy="1075.4" r="7"/><circle cx="1093.1" cy="1050.7" r="7"/><circle cx="1093.7" cy="923.4" r="7"/><circle cx="1086.3" cy="998.5" r="7"/><circle cx="1097.9" cy="1113.6" r="7"/><circle cx="1095.6" cy="927.6" r="7"/><circle cx="1091.9" cy="978.3" r="7"/><circle cx="1090.3" cy="1013.4" r="7"/><circle cx="1097.8" cy="1049.6" r="7"/><circle cx="1103.7" cy="1068.4" r="7"/><circle cx="1094" cy="1153.8" r="7"/><circle cx="1102.1" cy="1110.9" r="7"/><circle cx="1100" cy="1046.4" r="7"/><circle cx="1095.7" cy="1014.5" r="7"/><circle cx="1092.1" cy="962.9" r="7"/><circle cx="1103.4" cy="1056.8" r="7"/><circle cx="1098.3" cy="924.6" r="7"/><circle cx="1086.3" cy="986.3" r="7"/><circle cx="1086.2" cy="960" r="7"/><circle cx="1097.2" cy="1126" r="7"/><circle cx="1092.2" cy="1147.4" r="7"/><circle cx="1100.1" cy="935.7" r="7"/><circle cx="1095.5" cy="952.8" r="7"/><circle cx="1099" cy="994.4" r="7"/><circle cx="1094.9" cy="949.8" r="7"/><circle cx="1091.1" cy="1116.4" r="7"/><circle cx="1094.2" cy="1121" r="7"/><circle cx="1096.6" cy="1121.1" r="7"/><circle cx="1098.9" cy="1118.5" r="7"/><circle cx="1107.2" cy="976.1" r="7"/><circle cx="1105.8" cy="1122.4" r="7"/><circle cx="1096.8" cy="943.9" r="7"/><circle cx="1097.5" cy="1075.3" r="7"/><circle cx="1089" cy="1124" r="7"/><circle cx="1100.7" cy="1124.3" r="7"/><circle cx="1096.3" cy="1145.6" r="7"/><circle cx="1094.1" cy="1087.7" r="7"/><circle cx="1103" cy="1128" r="7"/><circle cx="1093.4" cy="981.7" r="7"/><circle cx="1095.3" cy="1053" r="7"/><circle cx="1102.6" cy="1137.9" r="7"/><circle cx="1103.4" cy="979.4" r="7"/><circle cx="1094.5" cy="949.9" r="7"/><circle cx="1090.4" cy="1110.7" r="7"/><circle cx="1097.1" cy="944.1" r="7"/><circle cx="1092.9" cy="989" r="7"/><circle cx="1097.4" cy="1119.8" r="7"/><circle cx="1091.7" cy="959.1" r="7"/><circle cx="1100" cy="1135.6" r="7"/><circle cx="1099.3" cy="959.7" r="7"/><circle cx="1103.5" cy="942.4" r="7"/><circle cx="1100.1" cy="1083.6" r="7"/><circle cx="1099.7" cy="1082.6" r="7"/><circle cx="1098.4" cy="1134" r="7"/><circle cx="1092.6" cy="927.6" r="7"/><circle cx="1099.4" cy="1003.5" r="7"/><circle cx="1097.1" cy="1095" r="7"/><circle cx="1104.7" cy="1112.2" r="7"/><circle cx="1089.9" cy="951.2" r="7"/><circle cx="1095.3" cy="1014.3" r="7"/><circle cx="1095.8" cy="1101.1" r="7"/><circle cx="1100.3" cy="972.5" r="7"/><circle cx="1095.1" cy="1131.7" r="7"/><circle cx="1100" cy="1076.4" r="7"/><circle cx="1092.4" cy="1145.8" r="7"/><circle cx="1097.3" cy="1150.2" r="7"/><circle cx="1091.2" cy="1131.3" r="7"/><circle cx="1098.5" cy="982.8" r="7"/><circle cx="1096.6" cy="1043" r="7"/><circle cx="1098.8" cy="1108.3" r="7"/><circle cx="1099.4" cy="1162.7" r="7"/><circle cx="1100.7" cy="1037.9" r="7"/><circle cx="1090.4" cy="1138.6" r="7"/><circle cx="1102.5" cy="1012.1" r="7"/><circle cx="1101.3" cy="1101.4" r="7"/><circle cx="1101.2" cy="1146.2" r="7"/><circle cx="1094.7" cy="1046.2" r="7"/><circle cx="1093.5" cy="990.5" r="7"/><circle cx="1092" cy="1143.5" r="7"/><circle cx="1098.4" cy="1142" r="7"/><circle cx="1101.3" cy="1156.3" r="7"/><circle cx="1094.4" cy="954" r="7"/><circle cx="1102.4" cy="1133.8" r="7"/><circle cx="1093.7" cy="1021.3" r="7"/><circle cx="1097.7" cy="1127.7" r="7"/><circle cx="1096.7" cy="1120.8" r="7"/><circle cx="1090.8" cy="972.3" r="7"/><circle cx="1102.7" cy="1104.4" r="7"/><circle cx="1092.2" cy="968.2" r="7"/><circle cx="1097.6" cy="1116" r="7"/><circle cx="1096.5" cy="1159.6" r="7"/><circle cx="1094.8" cy="974.2" r="7"/><circle cx="1093.4" cy="1061.2" r="7"/><circle cx="1100" cy="1138.1" r="7"/><circle cx="1102.7" cy="1009.6" r="7"/><circle cx="1094.6" cy="946.3" r="7"/><circle cx="1101.7" cy="1062.9" r="7"/><circle cx="1099" cy="1029.6" r="7"/><circle cx="1101.4" cy="1006" r="7"/><circle cx="1096.2" cy="1022.4" r="7"/><circle cx="1101.8" cy="1064.8" r="7"/><circle cx="1106.1" cy="1053" r="7"/><circle cx="1093.7" cy="997.3" r="7"/><circle cx="1098.3" cy="1040.9" r="7"/><circle cx="1084.9" cy="1058" r="7"/><circle cx="1100.9" cy="970.7" r="7"/><circle cx="1099.2" cy="1004.7" r="7"/><circle cx="1097.6" cy="1111.7" r="7"/><circle cx="1099.3" cy="1111.2" r="7"/><circle cx="1094.6" cy="1028.2" r="7"/><circle cx="1091.3" cy="930.4" r="7"/><circle cx="1095.4" cy="936.2" r="7"/><circle cx="1093.3" cy="1013.2" r="7"/><circle cx="1090.8" cy="1145.2" r="7"/><circle cx="1098.4" cy="936.4" r="7"/><circle cx="1093.3" cy="1055.6" r="7"/><circle cx="1094.9" cy="930.7" r="7"/><circle cx="1094.1" cy="1039.3" r="7"/><circle cx="1103.9" cy="1073.3" r="7"/><circle cx="1098.3" cy="988.4" r="7"/><circle cx="1093.6" cy="965.6" r="7"/><circle cx="1097.8" cy="964.5" r="7"/><circle cx="1098.7" cy="1095.3" r="7"/><circle cx="1092.2" cy="1005.2" r="7"/><circle cx="1098.8" cy="1080.2" r="7"/><circle cx="1091.1" cy="1016.2" r="7"/><circle cx="1094" cy="1158.6" r="7"/><circle cx="1095.6" cy="1084.7" r="7"/><circle cx="1090.4" cy="944.5" r="7"/><circle cx="1095.4" cy="1001.9" r="7"/><circle cx="1097.8" cy="923.2" r="7"/><circle cx="1105.3" cy="1028.9" r="7"/><circle cx="1102.1" cy="1096.1" r="7"/><circle cx="1091" cy="993.9" r="7"/><circle cx="1097.5" cy="993.2" r="7"/><circle cx="1103.7" cy="1097.2" r="7"/><circle cx="1092.3" cy="1060.4" r="7"/><circle cx="1102.9" cy="1119.8" r="7"/><circle cx="1101.1" cy="1161.7" r="7"/><circle cx="1096.3" cy="922.4" r="7"/><circle cx="1097.5" cy="1053.6" r="7"/><circle cx="1096" cy="1015.1" r="7"/><circle cx="1097.2" cy="971" r="7"/><circle cx="1092.8" cy="1112.1" r="7"/><circle cx="1240.9" cy="843.3" r="7"/><circle cx="1244.1" cy="558.1" r="7"/><circle cx="1245.9" cy="832.2" r="7"/><circle cx="1243.6" cy="535.3" r="7"/><circle cx="1245.4" cy="1016.4" r="7"/><circle cx="1250.1" cy="936" r="7"/><circle cx="1241.1" cy="956.4" r="7"/><circle cx="1247.4" cy="664.8" r="7"/><circle cx="1241.7" cy="994.1" r="7"/><circle cx="1244.8" cy="659.6" r="7"/><circle cx="1244.6" cy="595.4" r="7"/><circle cx="1248.2" cy="754.5" r="7"/><circle cx="1245.2" cy="644" r="7"/><circle cx="1241.8" cy="995.9" r="7"/><circle cx="1249.4" cy="628.1" r="7"/><circle cx="1249" cy="595.8" r="7"/><circle cx="1245.6" cy="705.1" r="7"/><circle cx="1249.3" cy="1092" r="7"/><circle cx="1247.9" cy="1007.4" r="7"/><circle cx="1244.7" cy="973.2" r="7"/><circle cx="1243.5" cy="1133.2" r="7"/><circle cx="1244.8" cy="1137.6" r="7"/><circle cx="1248.3" cy="737.2" r="7"/><circle cx="1245.9" cy="660" r="7"/><circle cx="1239.9" cy="550" r="7"/><circle cx="1248.4" cy="1061.5" r="7"/><circle cx="1245.5" cy="1101.8" r="7"/><circle cx="1246.1" cy="706.6" r="7"/><circle cx="1246" cy="766.4" r="7"/><circle cx="1247.1" cy="610.3" r="7"/><circle cx="1246.6" cy="899.3" r="7"/><circle cx="1247.7" cy="816.1" r="7"/><circle cx="1244.4" cy="1022.7" r="7"/><circle cx="1249.1" cy="991.2" r="7"/><circle cx="1241.9" cy="1033.5" r="7"/><circle cx="1251.2" cy="888.9" r="7"/><circle cx="1243" cy="619.5" r="7"/><circle cx="1246.1" cy="1092.9" r="7"/><circle cx="1244.6" cy="1118.1" r="7"/><circle cx="1244.8" cy="1093.9" r="7"/><circle cx="1250.2" cy="685.1" r="7"/><circle cx="1246.6" cy="872.4" r="7"/><circle cx="1247.1" cy="848.9" r="7"/><circle cx="1243.3" cy="954.1" r="7"/><circle cx="1247.2" cy="802.9" r="7"/><circle cx="1249.6" cy="1154" r="7"/><circle cx="1247.5" cy="560.9" r="7"/><circle cx="1250" cy="707.7" r="7"/><circle cx="1246.9" cy="867.8" r="7"/><circle cx="1246.8" cy="644.9" r="7"/><circle cx="1246" cy="927.5" r="7"/><circle cx="1244.4" cy="1077.4" r="7"/><circle cx="1247.1" cy="1016.9" r="7"/><circle cx="1247.2" cy="831.2" r="7"/><circle cx="1248.1" cy="785.7" r="7"/><circle cx="1244.5" cy="1138.3" r="7"/><circle cx="1241.3" cy="1096.3" r="7"/><circle cx="1252.2" cy="661.2" r="7"/><circle cx="1238.8" cy="608.9" r="7"/><circle cx="1243.6" cy="1069.7" r="7"/><circle cx="1246.4" cy="913.5" r="7"/><circle cx="1240.7" cy="598" r="7"/><circle cx="1247" cy="1028.6" r="7"/><circle cx="1245.3" cy="990.6" r="7"/><circle cx="1243.8" cy="793.7" r="7"/><circle cx="1249.8" cy="1008" r="7"/><circle cx="1252.4" cy="777.2" r="7"/><circle cx="1247.5" cy="1041" r="7"/><circle cx="1240.3" cy="724.7" r="7"/><circle cx="1246.6" cy="878.4" r="7"/><circle cx="1249.1" cy="584.9" r="7"/><circle cx="1246.2" cy="1076.3" r="7"/><circle cx="1244.3" cy="1148.8" r="7"/><circle cx="1242.8" cy="1131.5" r="7"/><circle cx="1246.9" cy="978.6" r="7"/><circle cx="1245.3" cy="993.4" r="7"/><circle cx="1245.2" cy="1117" r="7"/><circle cx="1245.3" cy="811.3" r="7"/><circle cx="1241.1" cy="708.4" r="7"/><circle cx="1242.6" cy="553.4" r="7"/><circle cx="1247.8" cy="560.9" r="7"/><circle cx="1244.6" cy="621.1" r="7"/><circle cx="1250.6" cy="667.2" r="7"/><circle cx="1245.5" cy="627.3" r="7"/><circle cx="1249.2" cy="902.3" r="7"/><circle cx="1243" cy="617.6" r="7"/><circle cx="1239.5" cy="537.1" r="7"/><circle cx="1249.4" cy="799.1" r="7"/><circle cx="1255.5" cy="600.8" r="7"/><circle cx="1249.3" cy="1135.8" r="7"/><circle cx="1248.3" cy="561.6" r="7"/><circle cx="1241.6" cy="973.1" r="7"/><circle cx="1242.2" cy="626.5" r="7"/><circle cx="1245.8" cy="857.7" r="7"/><circle cx="1246.2" cy="1087" r="7"/><circle cx="1244.2" cy="799.6" r="7"/><circle cx="1245.4" cy="824.7" r="7"/><circle cx="1247.9" cy="942.9" r="7"/><circle cx="1240" cy="857.2" r="7"/><circle cx="1243" cy="857.9" r="7"/><circle cx="1247.7" cy="545.5" r="7"/><circle cx="1245.5" cy="741.9" r="7"/><circle cx="1245.1" cy="798.4" r="7"/><circle cx="1247.1" cy="556.8" r="7"/><circle cx="1248.7" cy="1088.6" r="7"/><circle cx="1244" cy="974.4" r="7"/><circle cx="1245" cy="725" r="7"/><circle cx="1240.6" cy="994.3" r="7"/><circle cx="1246.7" cy="910.1" r="7"/><circle cx="1249.3" cy="1023.6" r="7"/><circle cx="1247" cy="686.5" r="7"/><circle cx="1248.1" cy="686.1" r="7"/><circle cx="1247.2" cy="674.2" r="7"/><circle cx="1245.5" cy="672.1" r="7"/><circle cx="1244.8" cy="683" r="7"/><circle cx="1240.8" cy="685.6" r="7"/><circle cx="1241.8" cy="688.4" r="7"/><circle cx="1245.3" cy="683" r="7"/><circle cx="1243.4" cy="679.9" r="7"/><circle cx="1242.3" cy="685.1" r="7"/><circle cx="1244.2" cy="678.5" r="7"/><circle cx="1245" cy="678.4" r="7"/><circle cx="1242.2" cy="677.2" r="7"/><circle cx="1247.3" cy="677.8" r="7"/><circle cx="1243.1" cy="689.4" r="7"/><circle cx="1246.9" cy="671.8" r="7"/><circle cx="1250.4" cy="677.9" r="7"/><circle cx="1246.2" cy="679" r="7"/><circle cx="1243.3" cy="674.8" r="7"/><circle cx="1244.1" cy="670.3" r="7"/><circle cx="1250.6" cy="910.7" r="7"/><circle cx="1240.6" cy="914.3" r="7"/><circle cx="1245.2" cy="922.9" r="7"/><circle cx="1246.6" cy="921.7" r="7"/><circle cx="1245.8" cy="919" r="7"/><circle cx="1248" cy="920.9" r="7"/><circle cx="1242.7" cy="909.7" r="7"/><circle cx="1246.2" cy="921" r="7"/><circle cx="1249.5" cy="907.3" r="7"/><circle cx="1241.2" cy="916.9" r="7"/><circle cx="1250.4" cy="914.2" r="7"/><circle cx="1245.2" cy="907.9" r="7"/><circle cx="1250.2" cy="906.4" r="7"/><circle cx="1247.5" cy="921.2" r="7"/><circle cx="1243.9" cy="922.8" r="7"/><circle cx="1242.7" cy="923.7" r="7"/><circle cx="1244.6" cy="916.8" r="7"/><circle cx="1244.7" cy="913.4" r="7"/><circle cx="1245.7" cy="919.6" r="7"/><circle cx="1252.6" cy="907.4" r="7"/><circle cx="1283.4" cy="653.3" r="7"/><circle cx="1286.5" cy="631.9" r="7"/><circle cx="1276.1" cy="619.6" r="7"/><circle cx="1285.6" cy="665.9" r="7"/><circle cx="1278.2" cy="685.9" r="7"/><circle cx="1291.3" cy="632.2" r="7"/><circle cx="1281.4" cy="639.3" r="7"/><circle cx="1281.7" cy="657.6" r="7"/><circle cx="1280.5" cy="606.9" r="7"/><circle cx="1280.1" cy="614.7" r="7"/><circle cx="1280.6" cy="630.3" r="7"/><circle cx="1282" cy="657.2" r="7"/><circle cx="1286.8" cy="625.9" r="7"/><circle cx="1280.1" cy="654.4" r="7"/><circle cx="1281.8" cy="617.4" r="7"/><circle cx="1289.8" cy="626.5" r="7"/><circle cx="1274.8" cy="618.2" r="7"/><circle cx="1286.2" cy="620.5" r="7"/><circle cx="1284.8" cy="632.6" r="7"/><circle cx="1284.9" cy="638" r="7"/><circle cx="1283.1" cy="644.9" r="7"/><circle cx="1278.8" cy="638.1" r="7"/><circle cx="1284.2" cy="640.6" r="7"/><circle cx="1274.3" cy="683.2" r="7"/><circle cx="1282.8" cy="649.2" r="7"/><circle cx="1293.9" cy="826.4" r="7"/><circle cx="1280.6" cy="717" r="7"/><circle cx="1285.1" cy="867.1" r="7"/><circle cx="1279" cy="782.1" r="7"/><circle cx="1287.7" cy="795.3" r="7"/><circle cx="1283.6" cy="757.3" r="7"/><circle cx="1285.3" cy="826.3" r="7"/><circle cx="1282.6" cy="832.2" r="7"/><circle cx="1282.8" cy="776.6" r="7"/><circle cx="1285.7" cy="732.3" r="7"/><circle cx="1284.2" cy="854.6" r="7"/><circle cx="1279.5" cy="739.7" r="7"/><circle cx="1281.8" cy="748.2" r="7"/><circle cx="1282.2" cy="848.1" r="7"/><circle cx="1286.5" cy="847.7" r="7"/><circle cx="1280.2" cy="820.8" r="7"/><circle cx="1275" cy="712.7" r="7"/><circle cx="1285.2" cy="741.6" r="7"/><circle cx="1283.6" cy="795.7" r="7"/><circle cx="1285.2" cy="775.9" r="7"/><circle cx="1278.1" cy="738.4" r="7"/><circle cx="1289.5" cy="758.2" r="7"/><circle cx="1282.1" cy="699.2" r="7"/><circle cx="1286" cy="859.5" r="7"/><circle cx="1282.5" cy="713.5" r="7"/><circle cx="1280.7" cy="867.8" r="7"/><circle cx="1279.8" cy="749.4" r="7"/><circle cx="1285" cy="851.1" r="7"/><circle cx="1284.5" cy="885.7" r="7"/><circle cx="1279.1" cy="746.4" r="7"/><circle cx="1278.2" cy="744.5" r="7"/><circle cx="1292.8" cy="698.7" r="7"/><circle cx="1288.9" cy="812.5" r="7"/><circle cx="1281.4" cy="777.2" r="7"/><circle cx="1285" cy="876.2" r="7"/><circle cx="1282.9" cy="815.9" r="7"/><circle cx="1285.3" cy="821.4" r="7"/><circle cx="1280.4" cy="864.8" r="7"/><circle cx="1282.7" cy="712.2" r="7"/><circle cx="1284.3" cy="792.8" r="7"/><circle cx="1285.5" cy="785.3" r="7"/><circle cx="1276.8" cy="868.8" r="7"/><circle cx="1280.8" cy="783.7" r="7"/><circle cx="1290.2" cy="693.7" r="7"/><circle cx="1284.9" cy="753.6" r="7"/><circle cx="1286.3" cy="846.4" r="7"/><circle cx="1287.1" cy="715.8" r="7"/><circle cx="1280.7" cy="827.8" r="7"/><circle cx="1290.4" cy="711.7" r="7"/><circle cx="1280.1" cy="771.7" r="7"/><circle cx="1276.3" cy="721.1" r="7"/><circle cx="1281" cy="716.8" r="7"/><circle cx="1279.9" cy="722.9" r="7"/><circle cx="1281.2" cy="767" r="7"/><circle cx="1284.1" cy="800.3" r="7"/><circle cx="1279" cy="850" r="7"/><circle cx="1281.6" cy="707.6" r="7"/><circle cx="1278.4" cy="862.9" r="7"/><circle cx="1291.1" cy="874.2" r="7"/><circle cx="1283.4" cy="847.5" r="7"/><circle cx="1278" cy="804.5" r="7"/><circle cx="1285.2" cy="709.5" r="7"/><circle cx="1285" cy="865" r="7"/><circle cx="1281.1" cy="797.6" r="7"/><circle cx="1286.6" cy="710.2" r="7"/><circle cx="1280.9" cy="849.2" r="7"/><circle cx="1276" cy="866.2" r="7"/><circle cx="1282" cy="842.3" r="7"/><circle cx="1284.9" cy="828.6" r="7"/><circle cx="1280.4" cy="720.7" r="7"/><circle cx="1285.5" cy="856.4" r="7"/><circle cx="1275.8" cy="757.9" r="7"/><circle cx="1284.7" cy="754.2" r="7"/><circle cx="1276.3" cy="866.5" r="7"/><circle cx="1282.3" cy="760.6" r="7"/><circle cx="1281.5" cy="862.3" r="7"/><circle cx="1279.1" cy="842" r="7"/><circle cx="1279.3" cy="744.8" r="7"/><circle cx="1281.6" cy="867" r="7"/><circle cx="1284" cy="706.9" r="7"/><circle cx="1279.7" cy="729" r="7"/><circle cx="1284" cy="852" r="7"/><circle cx="1282.6" cy="795.8" r="7"/><circle cx="1278.2" cy="772.1" r="7"/><circle cx="1281.2" cy="801.5" r="7"/><circle cx="1290.5" cy="710.6" r="7"/><circle cx="1287.7" cy="717.8" r="7"/><circle cx="1280.2" cy="851.3" r="7"/><circle cx="1277.8" cy="828.5" r="7"/><circle cx="1284.1" cy="692.1" r="7"/><circle cx="1282.3" cy="737.4" r="7"/><circle cx="1283.3" cy="796.3" r="7"/><circle cx="1280.6" cy="844.1" r="7"/><circle cx="1285.6" cy="870.2" r="7"/><circle cx="1287" cy="839.5" r="7"/><circle cx="1279.2" cy="745.6" r="7"/><circle cx="1285.6" cy="882.1" r="7"/><circle cx="1284.1" cy="750.8" r="7"/><circle cx="1277" cy="836.4" r="7"/><circle cx="1275.8" cy="762.8" r="7"/><circle cx="1283.5" cy="866.3" r="7"/><circle cx="1281.1" cy="802.5" r="7"/><circle cx="1278.9" cy="851" r="7"/><circle cx="1272.9" cy="691.4" r="7"/><circle cx="1281" cy="869.5" r="7"/><circle cx="1281.9" cy="860" r="7"/><circle cx="1278.4" cy="719.8" r="7"/><circle cx="1279.6" cy="854.7" r="7"/><circle cx="1288.3" cy="764.6" r="7"/><circle cx="1288.7" cy="699.1" r="7"/><circle cx="1282.7" cy="714.6" r="7"/><circle cx="1287.5" cy="754.4" r="7"/><circle cx="1285.3" cy="742.2" r="7"/><circle cx="1281.4" cy="871.8" r="7"/><circle cx="1283.4" cy="857.6" r="7"/><circle cx="1278.8" cy="751.7" r="7"/><circle cx="1281.3" cy="810.6" r="7"/><circle cx="1276.7" cy="881.2" r="7"/><circle cx="1291.8" cy="835.3" r="7"/><circle cx="1283.6" cy="714.7" r="7"/><circle cx="1281.5" cy="759.1" r="7"/><circle cx="1285.8" cy="887.2" r="7"/><circle cx="1285.9" cy="856.9" r="7"/><circle cx="1285.6" cy="734.4" r="7"/><circle cx="1282.2" cy="694.7" r="7"/><circle cx="1282.7" cy="795.6" r="7"/><circle cx="1284.2" cy="750.1" r="7"/><circle cx="1280.5" cy="809.5" r="7"/><circle cx="1278.3" cy="750" r="7"/><circle cx="1282.3" cy="832.9" r="7"/><circle cx="1276.8" cy="784.2" r="7"/><circle cx="1279.7" cy="698" r="7"/><circle cx="1283.6" cy="783.2" r="7"/><circle cx="1281" cy="862" r="7"/><circle cx="1281.2" cy="865.8" r="7"/><circle cx="1287.4" cy="787.7" r="7"/><circle cx="1277" cy="725.1" r="7"/><circle cx="1282" cy="886.9" r="7"/><circle cx="1289.4" cy="712.3" r="7"/><circle cx="1286.6" cy="759.9" r="7"/><circle cx="1283" cy="809.5" r="7"/><circle cx="1288.8" cy="757.6" r="7"/><circle cx="1287.9" cy="871.7" r="7"/><circle cx="1281.3" cy="725.2" r="7"/><circle cx="1285.9" cy="883.1" r="7"/><circle cx="1276.6" cy="702.6" r="7"/><circle cx="1278.9" cy="798.6" r="7"/><circle cx="1281.7" cy="877.3" r="7"/><circle cx="1271.5" cy="710.8" r="7"/><circle cx="1272.7" cy="797" r="7"/><circle cx="1293.3" cy="881.4" r="7"/><circle cx="1282.9" cy="879.2" r="7"/><circle cx="1283.8" cy="742.8" r="7"/><circle cx="1279.4" cy="805.5" r="7"/><circle cx="1281.5" cy="876.8" r="7"/><circle cx="1290.6" cy="741.3" r="7"/><circle cx="1280.2" cy="854.2" r="7"/><circle cx="1287" cy="878.8" r="7"/><circle cx="1283.4" cy="740.9" r="7"/><circle cx="1279.3" cy="737.3" r="7"/><circle cx="1286.8" cy="831.7" r="7"/><circle cx="1281.9" cy="874" r="7"/><circle cx="1281.4" cy="704.3" r="7"/><circle cx="1281.7" cy="718.7" r="7"/><circle cx="1279.4" cy="705.6" r="7"/><circle cx="1290.1" cy="781.8" r="7"/><circle cx="1282.8" cy="848.9" r="7"/><circle cx="1291.9" cy="796.5" r="7"/><circle cx="1281.2" cy="745" r="7"/><circle cx="1271.7" cy="836" r="7"/><circle cx="1281.6" cy="824" r="7"/><circle cx="1285.2" cy="801.8" r="7"/><circle cx="1279.5" cy="859.8" r="7"/><circle cx="1285.4" cy="694.9" r="7"/><circle cx="1290.4" cy="797.4" r="7"/><circle cx="1280.9" cy="874.4" r="7"/><circle cx="1281.9" cy="777.9" r="7"/><circle cx="1284.5" cy="808.3" r="7"/><circle cx="1286.7" cy="775.8" r="7"/><circle cx="1284.7" cy="832.6" r="7"/><circle cx="1282.9" cy="716.4" r="7"/><circle cx="1282.6" cy="862.3" r="7"/><circle cx="1290.2" cy="866.3" r="7"/><circle cx="1283.1" cy="840.9" r="7"/><circle cx="1283.3" cy="809.8" r="7"/><circle cx="1282.4" cy="776.3" r="7"/><circle cx="1283.5" cy="737.4" r="7"/><circle cx="1273.3" cy="731.9" r="7"/><circle cx="1277" cy="705" r="7"/><circle cx="1282.2" cy="734.6" r="7"/><circle cx="1281.1" cy="777.8" r="7"/><circle cx="1286.4" cy="753.2" r="7"/><circle cx="1282.6" cy="785" r="7"/><circle cx="1285" cy="830.1" r="7"/><circle cx="1286.4" cy="754.8" r="7"/><circle cx="1283.6" cy="710.3" r="7"/><circle cx="1280.4" cy="815.4" r="7"/><circle cx="1274.3" cy="711" r="7"/><circle cx="1285.5" cy="839.2" r="7"/><circle cx="1281" cy="715.7" r="7"/><circle cx="1279.5" cy="812.4" r="7"/><circle cx="1283.1" cy="784.5" r="7"/><circle cx="1278.4" cy="827.1" r="7"/><circle cx="1279.6" cy="727.2" r="7"/><circle cx="1280.2" cy="782.7" r="7"/><circle cx="1274.8" cy="889" r="7"/><circle cx="1280.3" cy="801.4" r="7"/><circle cx="1281.5" cy="816.1" r="7"/><circle cx="1285.4" cy="837.7" r="7"/><circle cx="1283" cy="889.8" r="7"/><circle cx="1289" cy="768.3" r="7"/><circle cx="1286.9" cy="820.4" r="7"/><circle cx="1281.3" cy="863.3" r="7"/><circle cx="1284" cy="886.8" r="7"/><circle cx="1286.4" cy="703.1" r="7"/><circle cx="1281.3" cy="839" r="7"/><circle cx="1287.2" cy="816.1" r="7"/><circle cx="1288.3" cy="690.3" r="7"/><circle cx="1280.4" cy="704.3" r="7"/><circle cx="1287" cy="695.4" r="7"/><circle cx="1283.9" cy="795.2" r="7"/><circle cx="1281.1" cy="861.2" r="7"/><circle cx="1280.9" cy="772.7" r="7"/><circle cx="1286.5" cy="814" r="7"/><circle cx="1282" cy="798.4" r="7"/><circle cx="1282.3" cy="690.8" r="7"/><circle cx="1289.8" cy="739.9" r="7"/><circle cx="1279.3" cy="790.1" r="7"/><circle cx="1290.4" cy="697.3" r="7"/><circle cx="1281.2" cy="851.8" r="7"/><circle cx="1288.1" cy="711.8" r="7"/><circle cx="1283.6" cy="794.8" r="7"/><circle cx="1279" cy="774.2" r="7"/><circle cx="1271.6" cy="873.8" r="7"/><circle cx="1287.5" cy="873.6" r="7"/><circle cx="1282.3" cy="718.3" r="7"/><circle cx="1276.7" cy="697.1" r="7"/><circle cx="1285.8" cy="816.1" r="7"/><circle cx="1277.7" cy="752.5" r="7"/><circle cx="1281.9" cy="796.4" r="7"/><circle cx="1291.9" cy="694" r="7"/><circle cx="1280.9" cy="703.5" r="7"/><circle cx="1286" cy="885.6" r="7"/><circle cx="1288.9" cy="690.8" r="7"/><circle cx="1278.7" cy="773.5" r="7"/><circle cx="1287.8" cy="851.9" r="7"/><circle cx="1287" cy="847.9" r="7"/><circle cx="1283.4" cy="692.7" r="7"/><circle cx="1280.9" cy="708.6" r="7"/><circle cx="1287" cy="793.2" r="7"/><circle cx="1276.6" cy="736.9" r="7"/><circle cx="1284.2" cy="755" r="7"/><circle cx="1281.3" cy="690.4" r="7"/><circle cx="1287" cy="844.2" r="7"/><circle cx="1282.4" cy="850.3" r="7"/><circle cx="1272.6" cy="844.9" r="7"/><circle cx="1277.2" cy="875.4" r="7"/><circle cx="1284.5" cy="840.1" r="7"/><circle cx="1282.5" cy="735.3" r="7"/><circle cx="1281.2" cy="887.7" r="7"/><circle cx="1286.2" cy="702.1" r="7"/><circle cx="1281" cy="889.5" r="7"/><circle cx="1283.7" cy="789.2" r="7"/><circle cx="1281.5" cy="843.4" r="7"/><circle cx="1278.3" cy="757.3" r="7"/><circle cx="1277.2" cy="830.5" r="7"/><circle cx="1286.3" cy="867.5" r="7"/><circle cx="1280.1" cy="837.4" r="7"/><circle cx="1290.1" cy="804.6" r="7"/><circle cx="1278.6" cy="705.4" r="7"/><circle cx="1285.7" cy="709.4" r="7"/><circle cx="1282.1" cy="699.7" r="7"/><circle cx="1284.8" cy="833.4" r="7"/><circle cx="1282.2" cy="731.2" r="7"/><circle cx="1277.4" cy="834.4" r="7"/><circle cx="1285.4" cy="735.5" r="7"/><circle cx="1278" cy="802.9" r="7"/><circle cx="1280.4" cy="719.7" r="7"/><circle cx="1284.8" cy="863" r="7"/><circle cx="1276.6" cy="724.4" r="7"/><circle cx="1276" cy="742.8" r="7"/><circle cx="1281.5" cy="750.4" r="7"/><circle cx="1282.8" cy="798" r="7"/><circle cx="1274.2" cy="805.5" r="7"/><circle cx="1283.9" cy="817.5" r="7"/><circle cx="1276.9" cy="763.3" r="7"/><circle cx="1279.3" cy="690.1" r="7"/><circle cx="1289.9" cy="715.3" r="7"/><circle cx="1282" cy="712.4" r="7"/><circle cx="1283.9" cy="716.2" r="7"/><circle cx="1288.7" cy="694" r="7"/><circle cx="1282.5" cy="741.8" r="7"/><circle cx="1282.9" cy="766.4" r="7"/><circle cx="1283" cy="742" r="7"/><circle cx="1283.2" cy="738.8" r="7"/><circle cx="1281" cy="762" r="7"/><circle cx="1286.6" cy="754.8" r="7"/><circle cx="1290.5" cy="837.7" r="7"/><circle cx="1283.8" cy="788.6" r="7"/><circle cx="1285.8" cy="870.1" r="7"/><circle cx="1282.9" cy="781.4" r="7"/><circle cx="1284.9" cy="868.3" r="7"/><circle cx="1290" cy="714.4" r="7"/><circle cx="1277.8" cy="713.5" r="7"/><circle cx="1282.9" cy="753.9" r="7"/><circle cx="1278.5" cy="815.7" r="7"/><circle cx="1278.8" cy="814.1" r="7"/><circle cx="1281.8" cy="693.2" r="7"/><circle cx="1283.9" cy="857.5" r="7"/><circle cx="1288.6" cy="705.2" r="7"/><circle cx="1276.4" cy="843.9" r="7"/><circle cx="1284.6" cy="730.1" r="7"/><circle cx="1286.1" cy="862" r="7"/><circle cx="1286.1" cy="766.3" r="7"/><circle cx="1276" cy="877.2" r="7"/><circle cx="1282.6" cy="824.7" r="7"/><circle cx="1288.1" cy="736.7" r="7"/><circle cx="1281.5" cy="849.3" r="7"/><circle cx="1284.1" cy="726.9" r="7"/><circle cx="1285" cy="818" r="7"/><circle cx="1285.3" cy="817.4" r="7"/><circle cx="1275.1" cy="840.5" r="7"/><circle cx="1281.7" cy="732" r="7"/><circle cx="1280.5" cy="738.4" r="7"/><circle cx="1282.4" cy="719.4" r="7"/><circle cx="1286.2" cy="867.3" r="7"/><circle cx="1284.6" cy="821.2" r="7"/><circle cx="1285.3" cy="808.3" r="7"/><circle cx="1284.4" cy="795.9" r="7"/><circle cx="1284.6" cy="803.2" r="7"/><circle cx="1283.2" cy="738" r="7"/><circle cx="1288.9" cy="727.2" r="7"/><circle cx="1286.2" cy="737.7" r="7"/><circle cx="1279.3" cy="748.4" r="7"/><circle cx="1282.2" cy="731.9" r="7"/><circle cx="1278.5" cy="745.2" r="7"/><circle cx="1285.2" cy="749.6" r="7"/><circle cx="1283.5" cy="741.5" r="7"/><circle cx="1278" cy="739.1" r="7"/><circle cx="1293.2" cy="742.8" r="7"/><circle cx="1280.2" cy="726.5" r="7"/><circle cx="1279" cy="726.9" r="7"/><circle cx="1281.1" cy="743.4" r="7"/><circle cx="1284" cy="734.7" r="7"/><circle cx="1289.1" cy="732.8" r="7"/><circle cx="1281.2" cy="749.7" r="7"/><circle cx="1276.7" cy="750" r="7"/><circle cx="1283.9" cy="740.1" r="7"/><circle cx="1279.9" cy="734.9" r="7"/><circle cx="1286.9" cy="730.7" r="7"/><circle cx="1281.3" cy="720.8" r="7"/><circle cx="1278" cy="729.2" r="7"/><circle cx="1283.8" cy="723.2" r="7"/><circle cx="1281.4" cy="725.2" r="7"/><circle cx="1283" cy="733.3" r="7"/><circle cx="1280.2" cy="735.9" r="7"/><circle cx="1286.7" cy="731.7" r="7"/><circle cx="1283.4" cy="736.8" r="7"/><circle cx="1283.5" cy="749.1" r="7"/><circle cx="1282.2" cy="729.6" r="7"/><circle cx="1286.5" cy="742.3" r="7"/><circle cx="1275.8" cy="720.2" r="7"/><circle cx="1283.2" cy="724" r="7"/><circle cx="1283.9" cy="732" r="7"/><circle cx="1286.6" cy="731.6" r="7"/><circle cx="1287.1" cy="737.3" r="7"/><circle cx="1282" cy="748.9" r="7"/><circle cx="1279.5" cy="744.8" r="7"/><circle cx="1278.7" cy="730" r="7"/><circle cx="1292.7" cy="736" r="7"/><circle cx="1285.1" cy="870.4" r="7"/><circle cx="1288.9" cy="863.1" r="7"/><circle cx="1285.6" cy="872.5" r="7"/><circle cx="1281" cy="862.9" r="7"/><circle cx="1291.6" cy="859.6" r="7"/><circle cx="1285.1" cy="859.5" r="7"/><circle cx="1281.1" cy="867" r="7"/><circle cx="1284.9" cy="857.4" r="7"/><circle cx="1282.7" cy="877.9" r="7"/><circle cx="1286.6" cy="877.4" r="7"/><circle cx="1284.8" cy="874.9" r="7"/><circle cx="1283.4" cy="881.1" r="7"/><circle cx="1281" cy="862.5" r="7"/><circle cx="1284.7" cy="881.2" r="7"/><circle cx="1278.7" cy="866.7" r="7"/><circle cx="1282.8" cy="867.4" r="7"/><circle cx="1285.2" cy="851.7" r="7"/><circle cx="1287.1" cy="870.1" r="7"/><circle cx="1289.9" cy="880.2" r="7"/><circle cx="1285.6" cy="866.4" r="7"/><circle cx="1286.6" cy="853.8" r="7"/><circle cx="1282.1" cy="875.3" r="7"/><circle cx="1291.9" cy="867.8" r="7"/><circle cx="1276.8" cy="883.4" r="7"/><circle cx="1277.8" cy="870.8" r="7"/><circle cx="1290.6" cy="855.8" r="7"/><circle cx="1285.4" cy="858.4" r="7"/><circle cx="1286" cy="870.4" r="7"/><circle cx="1286.5" cy="866.1" r="7"/><circle cx="1280.7" cy="875.1" r="7"/><circle cx="1283.3" cy="868.8" r="7"/><circle cx="1280.2" cy="882.9" r="7"/><circle cx="1290" cy="882.3" r="7"/><circle cx="1284.4" cy="863.6" r="7"/><circle cx="1282.8" cy="865.7" r="7"/><circle cx="1282.6" cy="881.7" r="7"/><circle cx="1289.5" cy="854.9" r="7"/><circle cx="1272.4" cy="881.1" r="7"/><circle cx="1282.5" cy="865.8" r="7"/><circle cx="1286.4" cy="868.1" r="7"/><circle cx="1285.6" cy="968.6" r="7"/><circle cx="1284.2" cy="988.5" r="7"/><circle cx="1285.9" cy="891.2" r="7"/><circle cx="1281.5" cy="965.1" r="7"/><circle cx="1281.7" cy="932.4" r="7"/><circle cx="1285.4" cy="977.7" r="7"/><circle cx="1281.6" cy="912.8" r="7"/><circle cx="1284.5" cy="897.6" r="7"/><circle cx="1283.4" cy="928.9" r="7"/><circle cx="1286.6" cy="961.7" r="7"/><circle cx="1282.2" cy="893.4" r="7"/><circle cx="1277.9" cy="899.8" r="7"/><circle cx="1282.4" cy="948" r="7"/><circle cx="1279.5" cy="973" r="7"/><circle cx="1284.1" cy="959.1" r="7"/><circle cx="1284.3" cy="895.2" r="7"/><circle cx="1284.2" cy="916.3" r="7"/><circle cx="1276" cy="986.9" r="7"/><circle cx="1274.9" cy="976.4" r="7"/><circle cx="1287.9" cy="966.2" r="7"/><circle cx="1287.9" cy="937.3" r="7"/><circle cx="1288.3" cy="901.8" r="7"/><circle cx="1282.7" cy="911.6" r="7"/><circle cx="1286.7" cy="952.4" r="7"/><circle cx="1286.9" cy="975.8" r="7"/><circle cx="1283.5" cy="987.3" r="7"/><circle cx="1282.9" cy="916.2" r="7"/><circle cx="1282.2" cy="901.1" r="7"/><circle cx="1290.9" cy="969.3" r="7"/><circle cx="1287" cy="950.8" r="7"/><circle cx="1279.8" cy="890.6" r="7"/><circle cx="1278.6" cy="967.1" r="7"/><circle cx="1279.5" cy="941.7" r="7"/><circle cx="1285" cy="955.3" r="7"/><circle cx="1284.8" cy="898" r="7"/><circle cx="1285.3" cy="969.6" r="7"/><circle cx="1284.8" cy="944.6" r="7"/><circle cx="1276.5" cy="948.1" r="7"/><circle cx="1291" cy="913.9" r="7"/><circle cx="1275.7" cy="926.9" r="7"/><circle cx="1279.7" cy="933.5" r="7"/><circle cx="1272.5" cy="953.9" r="7"/><circle cx="1277.4" cy="908.1" r="7"/><circle cx="1279.8" cy="937.3" r="7"/><circle cx="1281.2" cy="961.3" r="7"/><circle cx="1287.6" cy="921.4" r="7"/><circle cx="1283.5" cy="949.9" r="7"/><circle cx="1284.8" cy="953" r="7"/><circle cx="1278.8" cy="918.9" r="7"/><circle cx="1282.7" cy="943.3" r="7"/><circle cx="1287.7" cy="1029.1" r="7"/><circle cx="1283.3" cy="1052.2" r="7"/><circle cx="1278.2" cy="1034.4" r="7"/><circle cx="1287.4" cy="1154.2" r="7"/><circle cx="1275.5" cy="1033.4" r="7"/><circle cx="1288" cy="994.3" r="7"/><circle cx="1285.3" cy="1139.9" r="7"/><circle cx="1281.3" cy="1067.2" r="7"/><circle cx="1279.6" cy="1109.5" r="7"/><circle cx="1284.9" cy="1127.7" r="7"/><circle cx="1286.1" cy="1109.1" r="7"/><circle cx="1281.3" cy="1028" r="7"/><circle cx="1281.9" cy="1034.9" r="7"/><circle cx="1288.5" cy="1090.2" r="7"/><circle cx="1284" cy="1151.7" r="7"/><circle cx="1553.7" cy="644.9" r="7"/><circle cx="1559.1" cy="648.2" r="7"/><circle cx="1561.3" cy="675.8" r="7"/><circle cx="1566.5" cy="646.2" r="7"/><circle cx="1565.9" cy="627.1" r="7"/><circle cx="1562.2" cy="655.2" r="7"/><circle cx="1557.6" cy="675.2" r="7"/><circle cx="1561.9" cy="664.3" r="7"/><circle cx="1563" cy="660.2" r="7"/><circle cx="1562.7" cy="653.4" r="7"/><circle cx="1559.4" cy="616.4" r="7"/><circle cx="1558.3" cy="643.8" r="7"/><circle cx="1564.9" cy="616.9" r="7"/><circle cx="1557.5" cy="622.2" r="7"/><circle cx="1566.3" cy="624.9" r="7"/><circle cx="1559.3" cy="660.6" r="7"/><circle cx="1569.3" cy="656.6" r="7"/><circle cx="1558.5" cy="667.3" r="7"/><circle cx="1565.9" cy="667.5" r="7"/><circle cx="1564.5" cy="636.5" r="7"/><circle cx="1567.1" cy="660.5" r="7"/><circle cx="1568.4" cy="614.5" r="7"/><circle cx="1566.8" cy="677" r="7"/><circle cx="1564.1" cy="654.8" r="7"/><circle cx="1563.5" cy="652" r="7"/><circle cx="1560.8" cy="626" r="7"/><circle cx="1561" cy="644.6" r="7"/><circle cx="1564.1" cy="617" r="7"/><circle cx="1558.9" cy="673.7" r="7"/><circle cx="1557.3" cy="664.7" r="7"/><circle cx="1569.3" cy="649.8" r="7"/><circle cx="1565.8" cy="675.8" r="7"/><circle cx="1560.5" cy="660.5" r="7"/><circle cx="1562.2" cy="625.4" r="7"/><circle cx="1567.1" cy="673.5" r="7"/><circle cx="1561.6" cy="646.5" r="7"/><circle cx="1559.4" cy="660.8" r="7"/><circle cx="1567.4" cy="644.4" r="7"/><circle cx="1561.5" cy="661.2" r="7"/><circle cx="1566.3" cy="629.1" r="7"/><circle cx="1564.7" cy="999.1" r="7"/><circle cx="1566" cy="712.3" r="7"/><circle cx="1560.7" cy="809.6" r="7"/><circle cx="1572.7" cy="1054.4" r="7"/><circle cx="1561.6" cy="915.8" r="7"/><circle cx="1563.7" cy="1101.7" r="7"/><circle cx="1562.4" cy="1021.1" r="7"/><circle cx="1560.9" cy="981.1" r="7"/><circle cx="1556.3" cy="933.1" r="7"/><circle cx="1562.8" cy="768.8" r="7"/><circle cx="1561.4" cy="830.3" r="7"/><circle cx="1560.2" cy="1093" r="7"/><circle cx="1557.8" cy="1024.3" r="7"/><circle cx="1560.1" cy="918.8" r="7"/><circle cx="1558.4" cy="690.8" r="7"/><circle cx="1565.5" cy="850.5" r="7"/><circle cx="1575" cy="1120.3" r="7"/><circle cx="1565.4" cy="997.1" r="7"/><circle cx="1566.4" cy="817.2" r="7"/><circle cx="1568.7" cy="1070.3" r="7"/><circle cx="1559" cy="1039.6" r="7"/><circle cx="1557.7" cy="809.7" r="7"/><circle cx="1564.7" cy="1047.2" r="7"/><circle cx="1557.8" cy="1087.3" r="7"/><circle cx="1562" cy="855.4" r="7"/><circle cx="1566.2" cy="717.4" r="7"/><circle cx="1566.5" cy="917.6" r="7"/><circle cx="1557.9" cy="944.5" r="7"/><circle cx="1563.2" cy="853.6" r="7"/><circle cx="1561.1" cy="1012.9" r="7"/><circle cx="1557.6" cy="805.5" r="7"/><circle cx="1561.1" cy="788.2" r="7"/><circle cx="1560.4" cy="1134.7" r="7"/><circle cx="1558.9" cy="1117.4" r="7"/><circle cx="1565.3" cy="929.5" r="7"/><circle cx="1561.5" cy="730.6" r="7"/><circle cx="1561.1" cy="923.3" r="7"/><circle cx="1563.4" cy="1144.1" r="7"/><circle cx="1562.4" cy="814" r="7"/><circle cx="1558.3" cy="1131.8" r="7"/><circle cx="1569.4" cy="1095.1" r="7"/><circle cx="1564.6" cy="713.4" r="7"/><circle cx="1567.6" cy="868.6" r="7"/><circle cx="1560.4" cy="886.2" r="7"/><circle cx="1558.3" cy="1100.9" r="7"/><circle cx="1559.1" cy="1114.2" r="7"/><circle cx="1561.9" cy="1057.6" r="7"/><circle cx="1562.6" cy="994.1" r="7"/><circle cx="1561.3" cy="716.8" r="7"/><circle cx="1560.8" cy="1115.8" r="7"/><circle cx="1559.2" cy="1152.1" r="7"/><circle cx="1565.6" cy="774.6" r="7"/><circle cx="1561.2" cy="952.2" r="7"/><circle cx="1561.1" cy="1038.3" r="7"/><circle cx="1565.8" cy="1149.8" r="7"/><circle cx="1567.8" cy="1080.6" r="7"/><circle cx="1564.6" cy="1027.6" r="7"/><circle cx="1552.7" cy="945.6" r="7"/><circle cx="1565.4" cy="985.1" r="7"/><circle cx="1555.7" cy="1004.4" r="7"/><circle cx="1563.7" cy="837.8" r="7"/><circle cx="1565.4" cy="1096.5" r="7"/><circle cx="1562.8" cy="1162" r="7"/><circle cx="1558.9" cy="708.7" r="7"/><circle cx="1565.4" cy="717.5" r="7"/><circle cx="1563.5" cy="1140.7" r="7"/><circle cx="1559.6" cy="1094.6" r="7"/><circle cx="1565.2" cy="938.5" r="7"/><circle cx="1559.2" cy="903.2" r="7"/><circle cx="1559" cy="1144.2" r="7"/><circle cx="1561.3" cy="912.1" r="7"/><circle cx="1566.9" cy="748.4" r="7"/><circle cx="1565" cy="1067.4" r="7"/><circle cx="1565.9" cy="889.6" r="7"/><circle cx="1570.9" cy="746.7" r="7"/><circle cx="1565.5" cy="1108.9" r="7"/><circle cx="1567.7" cy="750.8" r="7"/><circle cx="1563.8" cy="806.3" r="7"/><circle cx="1556.2" cy="891.1" r="7"/><circle cx="1565.3" cy="882.9" r="7"/><circle cx="1558.2" cy="816.1" r="7"/><circle cx="1564.9" cy="1142.2" r="7"/><circle cx="1562.9" cy="946.1" r="7"/><circle cx="1564.1" cy="850.4" r="7"/><circle cx="1561.9" cy="1008.2" r="7"/><circle cx="1561" cy="856.7" r="7"/><circle cx="1565.2" cy="890" r="7"/><circle cx="1560.6" cy="834" r="7"/><circle cx="1559" cy="1004.8" r="7"/><circle cx="1561.5" cy="879.6" r="7"/><circle cx="1561.3" cy="901.4" r="7"/><circle cx="1558.9" cy="950.2" r="7"/><circle cx="1561" cy="888.1" r="7"/><circle cx="1556.4" cy="721.7" r="7"/><circle cx="1563.9" cy="769.2" r="7"/><circle cx="1563.6" cy="769" r="7"/><circle cx="1560.2" cy="1120.4" r="7"/><circle cx="1559" cy="793.5" r="7"/><circle cx="1562.2" cy="750" r="7"/><circle cx="1564.7" cy="1010.8" r="7"/><circle cx="1559.5" cy="1073" r="7"/><circle cx="1560.7" cy="1007.7" r="7"/><circle cx="1557.2" cy="998.5" r="7"/><circle cx="1564.5" cy="893.8" r="7"/><circle cx="1565.3" cy="1138.9" r="7"/><circle cx="1564.2" cy="861.1" r="7"/><circle cx="1561" cy="1055.4" r="7"/><circle cx="1560.8" cy="1099.2" r="7"/><circle cx="1559.4" cy="928.8" r="7"/><circle cx="1564.9" cy="802.4" r="7"/><circle cx="1562.7" cy="1013.2" r="7"/><circle cx="1564.2" cy="927" r="7"/><circle cx="1572" cy="1104" r="7"/><circle cx="1559.4" cy="1138.1" r="7"/><circle cx="1562.6" cy="742.9" r="7"/><circle cx="1561.4" cy="1153.3" r="7"/><circle cx="1566" cy="980.5" r="7"/><circle cx="1558.2" cy="891.6" r="7"/><circle cx="1560.1" cy="945.8" r="7"/><circle cx="1563.2" cy="813.3" r="7"/><circle cx="1568" cy="958.7" r="7"/><circle cx="1567.7" cy="1104.9" r="7"/><circle cx="1560.7" cy="814.3" r="7"/><circle cx="1567.2" cy="1082.9" r="7"/><circle cx="1563.6" cy="949.1" r="7"/><circle cx="1567.7" cy="837.9" r="7"/><circle cx="1566.2" cy="933.7" r="7"/><circle cx="1564.4" cy="1076.8" r="7"/><circle cx="1562.9" cy="828.2" r="7"/><circle cx="1564.6" cy="1069.2" r="7"/><circle cx="1562.8" cy="695.6" r="7"/><circle cx="1567.8" cy="719.8" r="7"/><circle cx="1560.9" cy="734.7" r="7"/><circle cx="1557.6" cy="909.4" r="7"/><circle cx="1565.8" cy="950.2" r="7"/><circle cx="1560.7" cy="883.9" r="7"/><circle cx="1560.9" cy="1108.2" r="7"/><circle cx="1562.1" cy="961.1" r="7"/><circle cx="1560.3" cy="770.7" r="7"/><circle cx="1564.8" cy="1132.9" r="7"/><circle cx="1564.2" cy="972.5" r="7"/><circle cx="1558.9" cy="948" r="7"/><circle cx="1562.5" cy="1036.7" r="7"/><circle cx="1563.1" cy="758.9" r="7"/><circle cx="1561.5" cy="690.6" r="7"/><circle cx="1561.8" cy="759.6" r="7"/><circle cx="1559" cy="1160.7" r="7"/><circle cx="1557.6" cy="1000.1" r="7"/><circle cx="1561.5" cy="1144.6" r="7"/><circle cx="1562" cy="917.1" r="7"/><circle cx="1562.9" cy="1085" r="7"/><circle cx="1561.2" cy="910.8" r="7"/><circle cx="1563" cy="716.4" r="7"/><circle cx="1566.1" cy="961.7" r="7"/><circle cx="1563.3" cy="764.2" r="7"/><circle cx="1568.2" cy="1014.6" r="7"/><circle cx="1557.5" cy="1141" r="7"/><circle cx="1557.9" cy="823.2" r="7"/><circle cx="1560.5" cy="1113.6" r="7"/><circle cx="1558.5" cy="1080.2" r="7"/><circle cx="1562.6" cy="806.8" r="7"/><circle cx="1556.7" cy="1120.3" r="7"/><circle cx="1571.7" cy="844" r="7"/><circle cx="1560.2" cy="1078.6" r="7"/><circle cx="1558.8" cy="1069" r="7"/><circle cx="1555.2" cy="900.4" r="7"/><circle cx="1556.5" cy="997.5" r="7"/><circle cx="1566.5" cy="941.7" r="7"/><circle cx="1562.9" cy="686.5" r="7"/><circle cx="1561.4" cy="905.4" r="7"/><circle cx="1568.4" cy="722.8" r="7"/><circle cx="1566.6" cy="1107.8" r="7"/><circle cx="1562.5" cy="1045.6" r="7"/><circle cx="1564.3" cy="1008.6" r="7"/><circle cx="1557.6" cy="948.2" r="7"/><circle cx="1565" cy="1140.1" r="7"/><circle cx="1557.2" cy="904.1" r="7"/><circle cx="1561.9" cy="879.7" r="7"/><circle cx="1561.4" cy="1015.8" r="7"/><circle cx="1560.3" cy="1130.4" r="7"/><circle cx="1562.5" cy="851.4" r="7"/><circle cx="1557.1" cy="727.4" r="7"/><circle cx="1566.3" cy="1106.9" r="7"/><circle cx="1564.9" cy="1100.1" r="7"/><circle cx="1564.8" cy="1071.5" r="7"/><circle cx="1568.2" cy="912.8" r="7"/><circle cx="1563.8" cy="842.7" r="7"/><circle cx="1560.1" cy="929.4" r="7"/><circle cx="1561.5" cy="826.5" r="7"/><circle cx="1557.8" cy="1100.5" r="7"/><circle cx="1558.9" cy="788.5" r="7"/><circle cx="1564.8" cy="914.3" r="7"/><circle cx="1561.1" cy="1001.1" r="7"/><circle cx="1558.5" cy="919.3" r="7"/><circle cx="1572.4" cy="819.7" r="7"/><circle cx="1562.9" cy="944.7" r="7"/><circle cx="1564.8" cy="711" r="7"/><circle cx="1561.4" cy="779.6" r="7"/><circle cx="1566.6" cy="930.9" r="7"/><circle cx="1568.5" cy="700.4" r="7"/><circle cx="1561.5" cy="764.6" r="7"/><circle cx="1566.9" cy="828.6" r="7"/><circle cx="1565.7" cy="793.1" r="7"/><circle cx="1559.7" cy="969.8" r="7"/><circle cx="1565.8" cy="994.2" r="7"/><circle cx="1565.3" cy="723" r="7"/><circle cx="1558.9" cy="1041.2" r="7"/><circle cx="1561.1" cy="978.7" r="7"/><circle cx="1566.7" cy="768.8" r="7"/><circle cx="1559.2" cy="770" r="7"/><circle cx="1560" cy="710.3" r="7"/><circle cx="1555.1" cy="882.2" r="7"/><circle cx="1561.2" cy="1103.1" r="7"/><circle cx="1566.5" cy="951.5" r="7"/><circle cx="1561.9" cy="814.7" r="7"/><circle cx="1555.3" cy="980.1" r="7"/><circle cx="1558.9" cy="937.3" r="7"/><circle cx="1565.3" cy="1003.5" r="7"/><circle cx="1565.9" cy="758.1" r="7"/><circle cx="1568.8" cy="831.8" r="7"/><circle cx="1568.9" cy="857.9" r="7"/><circle cx="1552.7" cy="1141.7" r="7"/><circle cx="1571.8" cy="777.5" r="7"/><circle cx="1564.5" cy="696.9" r="7"/><circle cx="1562.3" cy="1044.8" r="7"/><circle cx="1559.8" cy="683.4" r="7"/><circle cx="1564.8" cy="720.9" r="7"/><circle cx="1564.8" cy="908.5" r="7"/><circle cx="1558.4" cy="919.1" r="7"/><circle cx="1567.5" cy="1148.2" r="7"/><circle cx="1563.5" cy="1124.9" r="7"/><circle cx="1560.1" cy="1114" r="7"/><circle cx="1557.6" cy="762.4" r="7"/><circle cx="1560.2" cy="835.7" r="7"/><circle cx="1562.6" cy="977.8" r="7"/><circle cx="1564.7" cy="837.4" r="7"/><circle cx="1562.7" cy="1081.2" r="7"/><circle cx="1556.9" cy="722.4" r="7"/><circle cx="1564.9" cy="986.6" r="7"/><circle cx="1558.2" cy="795.6" r="7"/><circle cx="1560.8" cy="1029.9" r="7"/><circle cx="1558.3" cy="963.3" r="7"/><circle cx="1564.3" cy="1044.7" r="7"/><circle cx="1564.7" cy="687.7" r="7"/><circle cx="1558.7" cy="1026.6" r="7"/><circle cx="1558.4" cy="839.5" r="7"/><circle cx="1557.6" cy="1043.4" r="7"/><circle cx="1562.8" cy="715.4" r="7"/><circle cx="1559" cy="965.8" r="7"/><circle cx="1561.9" cy="805.8" r="7"/><circle cx="1562.9" cy="1114" r="7"/><circle cx="1564.9" cy="856.3" r="7"/><circle cx="1566.9" cy="810.4" r="7"/><circle cx="1557.7" cy="948.7" r="7"/><circle cx="1571.4" cy="986" r="7"/><circle cx="1562.6" cy="734.6" r="7"/><circle cx="1557.5" cy="1005.3" r="7"/><circle cx="1561.6" cy="820.3" r="7"/><circle cx="1566.8" cy="715.3" r="7"/><circle cx="1559.1" cy="1077.1" r="7"/><circle cx="1564.7" cy="1025" r="7"/><circle cx="1559.9" cy="1097.2" r="7"/><circle cx="1563.3" cy="1085.9" r="7"/><circle cx="1561.1" cy="800.4" r="7"/><circle cx="1564.1" cy="905.8" r="7"/><circle cx="1556.4" cy="1117.4" r="7"/><circle cx="1566.4" cy="1145" r="7"/><circle cx="1550" cy="958" r="7"/><circle cx="1561.6" cy="874.1" r="7"/><circle cx="1556.2" cy="921.9" r="7"/><circle cx="1559.4" cy="806.6" r="7"/><circle cx="1562" cy="1089.6" r="7"/><circle cx="1565.6" cy="1013.9" r="7"/><circle cx="1557" cy="927.4" r="7"/><circle cx="1556.8" cy="683.6" r="7"/><circle cx="1559.5" cy="895.2" r="7"/><circle cx="1564.8" cy="906.7" r="7"/><circle cx="1561.6" cy="717.6" r="7"/><circle cx="1561.9" cy="695.9" r="7"/><circle cx="1569.6" cy="1067.4" r="7"/><circle cx="1564.5" cy="804.7" r="7"/><circle cx="1554.4" cy="1131.8" r="7"/><circle cx="1559.1" cy="1141.1" r="7"/><circle cx="1565.3" cy="944.1" r="7"/><circle cx="1561.3" cy="682.3" r="7"/><circle cx="1560.4" cy="808.3" r="7"/><circle cx="1568" cy="801.1" r="7"/><circle cx="1566.7" cy="1144.4" r="7"/><circle cx="1561" cy="1024.7" r="7"/><circle cx="1559.8" cy="834.2" r="7"/><circle cx="1560.6" cy="1083.9" r="7"/><circle cx="1561.9" cy="1061.8" r="7"/><circle cx="1556.8" cy="844.9" r="7"/><circle cx="1559.2" cy="741.9" r="7"/><circle cx="1559.2" cy="953.1" r="7"/><circle cx="1568" cy="745.3" r="7"/><circle cx="1562.4" cy="687" r="7"/><circle cx="1566.7" cy="701.7" r="7"/><circle cx="1560.1" cy="1111.1" r="7"/><circle cx="1562.8" cy="742.4" r="7"/><circle cx="1562.1" cy="833" r="7"/><circle cx="1555" cy="942.9" r="7"/><circle cx="1567.7" cy="867.8" r="7"/><circle cx="1561.9" cy="1153.3" r="7"/><circle cx="1561.5" cy="830.3" r="7"/><circle cx="1572.1" cy="884.4" r="7"/><circle cx="1559.8" cy="1108" r="7"/><circle cx="1567.5" cy="1014.2" r="7"/><circle cx="1567.2" cy="1030.5" r="7"/><circle cx="1573.2" cy="925.5" r="7"/><circle cx="1563.3" cy="970.1" r="7"/><circle cx="1560.6" cy="1061.1" r="7"/><circle cx="1563.1" cy="710.4" r="7"/><circle cx="1556.2" cy="912" r="7"/><circle cx="1561.5" cy="872.5" r="7"/><circle cx="1567.6" cy="901.1" r="7"/><circle cx="1557" cy="1111.8" r="7"/><circle cx="1560.9" cy="816.8" r="7"/><circle cx="1561.7" cy="734.6" r="7"/><circle cx="1564.7" cy="1091.9" r="7"/><circle cx="1564" cy="854.7" r="7"/><circle cx="1561.1" cy="1118.5" r="7"/><circle cx="1569.4" cy="1161.4" r="7"/><circle cx="1553.8" cy="827.3" r="7"/><circle cx="1564.9" cy="923.7" r="7"/><circle cx="1563.4" cy="687.4" r="7"/><circle cx="1562" cy="1010.6" r="7"/><circle cx="1566.7" cy="755" r="7"/><circle cx="1564.7" cy="724.1" r="7"/><circle cx="1564.6" cy="739.3" r="7"/><circle cx="1567.9" cy="1106.4" r="7"/><circle cx="1566.5" cy="700.7" r="7"/><circle cx="1564.7" cy="995.7" r="7"/><circle cx="1554.9" cy="825.4" r="7"/><circle cx="1562.8" cy="702.6" r="7"/><circle cx="1560.6" cy="1143" r="7"/><circle cx="1563.7" cy="1045.8" r="7"/><circle cx="1570.9" cy="702.7" r="7"/><circle cx="1566.9" cy="750.8" r="7"/><circle cx="1565.4" cy="1003" r="7"/><circle cx="1560.8" cy="911.1" r="7"/><circle cx="1559.6" cy="782.8" r="7"/><circle cx="1566" cy="1015.2" r="7"/><circle cx="1558.1" cy="981.5" r="7"/><circle cx="1569.9" cy="1058" r="7"/><circle cx="1565.3" cy="929.8" r="7"/><circle cx="1558.2" cy="1046.4" r="7"/><circle cx="1559.6" cy="938.6" r="7"/><circle cx="1561.3" cy="783.6" r="7"/><circle cx="1566.9" cy="682.4" r="7"/><circle cx="1554.1" cy="1028.9" r="7"/><circle cx="1561.1" cy="781.4" r="7"/><circle cx="1556.9" cy="961" r="7"/><circle cx="1561.9" cy="903.1" r="7"/><circle cx="1556" cy="1107.4" r="7"/><circle cx="1561.8" cy="930.1" r="7"/><circle cx="1563.4" cy="738" r="7"/><circle cx="1556.2" cy="805.6" r="7"/><circle cx="1560.7" cy="918.2" r="7"/><circle cx="1565.6" cy="822.8" r="7"/><circle cx="1568.6" cy="860" r="7"/><circle cx="1562" cy="1019.5" r="7"/><circle cx="1564.2" cy="985.2" r="7"/><circle cx="1561.1" cy="1145" r="7"/><circle cx="1556.3" cy="1069.8" r="7"/><circle cx="1567.9" cy="835.2" r="7"/><circle cx="1566.6" cy="881.5" r="7"/><circle cx="1567.8" cy="849.9" r="7"/><circle cx="1555.8" cy="1113.7" r="7"/><circle cx="1563.6" cy="1124.5" r="7"/><circle cx="1562.4" cy="859.1" r="7"/><circle cx="1559.7" cy="683.3" r="7"/><circle cx="1563.3" cy="766" r="7"/><circle cx="1565.6" cy="910.9" r="7"/><circle cx="1566.1" cy="879.4" r="7"/><circle cx="1566.4" cy="799.8" r="7"/><circle cx="1560.7" cy="691.6" r="7"/><circle cx="1558.9" cy="1086.6" r="7"/><circle cx="1562.3" cy="822.5" r="7"/><circle cx="1553.9" cy="808" r="7"/><circle cx="1561.4" cy="1148.8" r="7"/><circle cx="1560" cy="996.8" r="7"/><circle cx="1560.9" cy="817.4" r="7"/><circle cx="1561.7" cy="885.3" r="7"/><circle cx="1564.4" cy="967" r="7"/><circle cx="1561.9" cy="717.7" r="7"/><circle cx="1568.7" cy="1074" r="7"/><circle cx="1560.9" cy="1043.4" r="7"/><circle cx="1563.4" cy="699.1" r="7"/><circle cx="1564.8" cy="947.4" r="7"/><circle cx="1564.4" cy="764.4" r="7"/><circle cx="1563.4" cy="1126.2" r="7"/><circle cx="1562.9" cy="1150.9" r="7"/><circle cx="1559" cy="757.3" r="7"/><circle cx="1564.6" cy="1070.7" r="7"/><circle cx="1565.2" cy="727.8" r="7"/><circle cx="1563.3" cy="1067.2" r="7"/><circle cx="1557.3" cy="843.2" r="7"/><circle cx="1563.9" cy="1030.8" r="7"/><circle cx="1562.6" cy="925.9" r="7"/><circle cx="1562.4" cy="815.5" r="7"/><circle cx="1559.5" cy="782.6" r="7"/><circle cx="1565.8" cy="755.1" r="7"/><circle cx="1557.1" cy="1031.9" r="7"/><circle cx="1566.5" cy="804.7" r="7"/><circle cx="1563.2" cy="1050.8" r="7"/><circle cx="1561" cy="775.7" r="7"/><circle cx="1556.2" cy="700.8" r="7"/><circle cx="1558.2" cy="684.5" r="7"/><circle cx="1557.4" cy="1086.6" r="7"/><circle cx="1565.2" cy="931.7" r="7"/><circle cx="1559.9" cy="995.7" r="7"/><circle cx="1567.3" cy="930.1" r="7"/><circle cx="1559.5" cy="1052.9" r="7"/><circle cx="1561.1" cy="945.4" r="7"/><circle cx="1562.2" cy="880.7" r="7"/><circle cx="1560.1" cy="787.3" r="7"/><circle cx="1565.6" cy="831.3" r="7"/><circle cx="1562" cy="901.4" r="7"/><circle cx="1553.8" cy="1090.1" r="7"/><circle cx="1565.5" cy="1041.1" r="7"/><circle cx="1565.6" cy="1058.8" r="7"/><circle cx="1560.3" cy="1146" r="7"/><circle cx="1563.7" cy="975.5" r="7"/><circle cx="1560" cy="734.8" r="7"/><circle cx="1559.1" cy="956.6" r="7"/><circle cx="1555.2" cy="1001.7" r="7"/><circle cx="1566.9" cy="1046.5" r="7"/><circle cx="1556.1" cy="744.9" r="7"/><circle cx="1559.3" cy="1163.2" r="7"/><circle cx="1557.4" cy="772" r="7"/><circle cx="1559.5" cy="724.2" r="7"/><circle cx="1560.4" cy="1003.3" r="7"/><circle cx="1556" cy="803.6" r="7"/><circle cx="1555.3" cy="990.7" r="7"/><circle cx="1562.7" cy="1121.2" r="7"/><circle cx="1568" cy="686.4" r="7"/><circle cx="1565.8" cy="983.2" r="7"/><circle cx="1560.6" cy="883.2" r="7"/><circle cx="1561.8" cy="1004" r="7"/><circle cx="1563.2" cy="927.2" r="7"/><circle cx="1561" cy="1065.7" r="7"/><circle cx="1568.4" cy="1135.3" r="7"/><circle cx="1567.8" cy="846.1" r="7"/><circle cx="1562.7" cy="786.5" r="7"/><circle cx="1564.3" cy="883.1" r="7"/><circle cx="1559.6" cy="950.9" r="7"/><circle cx="1553.1" cy="1142.3" r="7"/><circle cx="1556.9" cy="680.1" r="7"/><circle cx="1564.7" cy="883" r="7"/><circle cx="1564.2" cy="1072.2" r="7"/><circle cx="1562.4" cy="735.5" r="7"/><circle cx="1560.6" cy="934.8" r="7"/><circle cx="1566.8" cy="694.8" r="7"/><circle cx="1566.8" cy="876.3" r="7"/><circle cx="1566" cy="724.7" r="7"/><circle cx="1558.3" cy="1164.8" r="7"/><circle cx="1562.7" cy="703.2" r="7"/><circle cx="1562.8" cy="947.4" r="7"/><circle cx="1563.6" cy="1145.9" r="7"/><circle cx="1562.5" cy="941.7" r="7"/><circle cx="1560.2" cy="853.6" r="7"/><circle cx="1568.3" cy="973" r="7"/><circle cx="1561.2" cy="804.4" r="7"/><circle cx="1557.6" cy="863.6" r="7"/><circle cx="1564" cy="953.6" r="7"/><circle cx="1565.7" cy="1158.6" r="7"/><circle cx="1564.4" cy="873.6" r="7"/><circle cx="1555.4" cy="1074" r="7"/><circle cx="1561.9" cy="1037.2" r="7"/><circle cx="1557.5" cy="776.8" r="7"/><circle cx="1566.4" cy="979.3" r="7"/><circle cx="1564.7" cy="764.9" r="7"/><circle cx="1562.4" cy="850.8" r="7"/><circle cx="1562.1" cy="1105" r="7"/><circle cx="1561.3" cy="724.5" r="7"/><circle cx="1571.4" cy="978" r="7"/><circle cx="1559.1" cy="1087.6" r="7"/><circle cx="1566.2" cy="1095.1" r="7"/><circle cx="1560.6" cy="696.9" r="7"/><circle cx="1563.3" cy="1056.6" r="7"/><circle cx="1556.5" cy="752.4" r="7"/><circle cx="1566.4" cy="974.1" r="7"/><circle cx="1564.6" cy="1013.4" r="7"/><circle cx="1564.4" cy="1149.9" r="7"/><circle cx="1566.8" cy="802.7" r="7"/><circle cx="1566.5" cy="1006.3" r="7"/><circle cx="1552.9" cy="893.5" r="7"/><circle cx="1558.2" cy="740.5" r="7"/><circle cx="1564.3" cy="716.2" r="7"/><circle cx="1561.7" cy="1116.3" r="7"/><circle cx="1564.6" cy="855.7" r="7"/><circle cx="1565.8" cy="1115.5" r="7"/><circle cx="1558.5" cy="1114.9" r="7"/><circle cx="1561.1" cy="798.2" r="7"/><circle cx="1557.9" cy="953.6" r="7"/><circle cx="1559.3" cy="700.7" r="7"/><circle cx="1569.1" cy="988.8" r="7"/><circle cx="1559.9" cy="943.1" r="7"/><circle cx="1565.7" cy="1156.5" r="7"/><circle cx="1565.9" cy="1144.3" r="7"/><circle cx="1562" cy="1143.5" r="7"/><circle cx="1557.1" cy="775.8" r="7"/><circle cx="1561.3" cy="1062.8" r="7"/><circle cx="1555.4" cy="1127.1" r="7"/><circle cx="1562.8" cy="982.4" r="7"/><circle cx="1560.4" cy="743.6" r="7"/><circle cx="1557.4" cy="902.7" r="7"/><circle cx="1564.5" cy="1155.6" r="7"/><circle cx="1563.1" cy="864.4" r="7"/><circle cx="1565" cy="709.1" r="7"/><circle cx="1565.3" cy="974.4" r="7"/><circle cx="1562.5" cy="988.9" r="7"/><circle cx="1564.9" cy="1128.8" r="7"/><circle cx="1568.5" cy="962.3" r="7"/><circle cx="1562.7" cy="916.2" r="7"/><circle cx="1561.6" cy="850.6" r="7"/><circle cx="1562.4" cy="933.8" r="7"/><circle cx="1555.6" cy="845" r="7"/><circle cx="1573.1" cy="1090.1" r="7"/><circle cx="1564.8" cy="918.6" r="7"/><circle cx="1555.5" cy="922.2" r="7"/><circle cx="1563.2" cy="789" r="7"/><circle cx="1560.5" cy="686.3" r="7"/><circle cx="1557.7" cy="1143.5" r="7"/><circle cx="1562.4" cy="1131.4" r="7"/><circle cx="1558.2" cy="730.9" r="7"/><circle cx="1564.7" cy="1045.2" r="7"/><circle cx="1559.7" cy="1105.3" r="7"/><circle cx="1561.8" cy="700.7" r="7"/><circle cx="1563.7" cy="1163.5" r="7"/><circle cx="1566.4" cy="747.3" r="7"/><circle cx="1561.4" cy="843.1" r="7"/><circle cx="1569.2" cy="1130.6" r="7"/><circle cx="1565.1" cy="830.3" r="7"/><circle cx="1562.5" cy="1091.3" r="7"/><circle cx="1566.9" cy="1110.1" r="7"/><circle cx="1565.7" cy="1152.5" r="7"/><circle cx="1562.6" cy="914.3" r="7"/><circle cx="1560.9" cy="785.8" r="7"/><circle cx="1564.3" cy="1036.5" r="7"/><circle cx="1564.2" cy="958.9" r="7"/><circle cx="1564.4" cy="712" r="7"/><circle cx="1564.5" cy="1129.2" r="7"/><circle cx="1562.3" cy="1146.2" r="7"/><circle cx="1557.6" cy="1154.3" r="7"/><circle cx="1563" cy="772.8" r="7"/><circle cx="1565.1" cy="984.7" r="7"/><circle cx="1558.1" cy="1055.4" r="7"/><circle cx="1559.4" cy="936.9" r="7"/><circle cx="1559.8" cy="1140.3" r="7"/><circle cx="1567.6" cy="704.2" r="7"/><circle cx="1560" cy="1042.4" r="7"/><circle cx="1562.3" cy="889.3" r="7"/><circle cx="1565.3" cy="1145.2" r="7"/><circle cx="1557.1" cy="961.1" r="7"/><circle cx="1553.2" cy="1069.5" r="7"/><circle cx="1556" cy="843.9" r="7"/><circle cx="1569.3" cy="710.9" r="7"/><circle cx="1567.6" cy="1127.8" r="7"/><circle cx="1567.5" cy="1140.2" r="7"/><circle cx="1559.7" cy="974.5" r="7"/><circle cx="1562" cy="787.9" r="7"/><circle cx="1556.8" cy="718.2" r="7"/><circle cx="1561.9" cy="740.5" r="7"/><circle cx="1557.8" cy="951.1" r="7"/><circle cx="1561.8" cy="1104.9" r="7"/><circle cx="1565.2" cy="979.9" r="7"/><circle cx="1562.1" cy="891.8" r="7"/><circle cx="1554.8" cy="898.9" r="7"/><circle cx="1558.7" cy="1057.6" r="7"/><circle cx="1563.7" cy="1108.9" r="7"/><circle cx="1560.3" cy="784.4" r="7"/><circle cx="1568.2" cy="683.8" r="7"/><circle cx="1559.4" cy="840" r="7"/><circle cx="1555.8" cy="1162.6" r="7"/><circle cx="1561.5" cy="1048.7" r="7"/><circle cx="1558.7" cy="1089.2" r="7"/><circle cx="1567.7" cy="890.7" r="7"/><circle cx="1568.9" cy="813" r="7"/><circle cx="1558.6" cy="935.7" r="7"/><circle cx="1565.5" cy="822.8" r="7"/><circle cx="1567.4" cy="1028" r="7"/><circle cx="1564.2" cy="1017.2" r="7"/><circle cx="1555.8" cy="688.4" r="7"/><circle cx="1566.9" cy="742.7" r="7"/><circle cx="1567.2" cy="933.7" r="7"/><circle cx="1562.7" cy="790.4" r="7"/><circle cx="1561.8" cy="697.5" r="7"/><circle cx="1562.1" cy="1146.8" r="7"/><circle cx="1563.3" cy="998" r="7"/><circle cx="1561.1" cy="926.5" r="7"/><circle cx="1554.7" cy="991" r="7"/><circle cx="1560.3" cy="1136.3" r="7"/><circle cx="1558.4" cy="736.5" r="7"/><circle cx="1554.1" cy="1078.8" r="7"/><circle cx="1558.3" cy="1063.9" r="7"/><circle cx="1570.3" cy="1148.7" r="7"/><circle cx="1562.3" cy="934" r="7"/><circle cx="1558.2" cy="1059.5" r="7"/><circle cx="1566.8" cy="955.5" r="7"/><circle cx="1563.9" cy="1028.2" r="7"/><circle cx="1559.2" cy="1037" r="7"/><circle cx="1566.7" cy="865.1" r="7"/><circle cx="1558.5" cy="859.1" r="7"/><circle cx="1554.3" cy="935.2" r="7"/><circle cx="1554.5" cy="810.9" r="7"/><circle cx="1562.9" cy="818.8" r="7"/><circle cx="1557.6" cy="754.9" r="7"/><circle cx="1565.8" cy="1154.6" r="7"/><circle cx="1555.7" cy="880" r="7"/><circle cx="1562" cy="693.2" r="7"/><circle cx="1558.2" cy="723.8" r="7"/><circle cx="1565.6" cy="1155.3" r="7"/><circle cx="1558.4" cy="694" r="7"/><circle cx="1559.8" cy="799.6" r="7"/><circle cx="1559.1" cy="764.4" r="7"/><circle cx="1567.1" cy="915.3" r="7"/><circle cx="1561.5" cy="1013.7" r="7"/><circle cx="1567.3" cy="931.2" r="7"/><circle cx="1562.1" cy="720.6" r="7"/><circle cx="1556.6" cy="998.5" r="7"/><circle cx="1555.4" cy="1134.5" r="7"/><circle cx="1562.8" cy="850.5" r="7"/><circle cx="1563.8" cy="995.3" r="7"/><circle cx="1559.8" cy="682.7" r="7"/><circle cx="1564.1" cy="900.5" r="7"/><circle cx="1558.3" cy="921.4" r="7"/><circle cx="1560.1" cy="1015.7" r="7"/><circle cx="1564.2" cy="984.1" r="7"/><circle cx="1565.1" cy="1131.8" r="7"/><circle cx="1563.2" cy="817.2" r="7"/><circle cx="1560.7" cy="860.8" r="7"/><circle cx="1567.2" cy="1139.6" r="7"/><circle cx="1564.2" cy="789.1" r="7"/><circle cx="1561.9" cy="762.9" r="7"/><circle cx="1559.1" cy="1007.1" r="7"/><circle cx="1563.2" cy="1109.5" r="7"/><circle cx="1563" cy="734.4" r="7"/><circle cx="1562.5" cy="830.3" r="7"/><circle cx="1565" cy="856.3" r="7"/><circle cx="1565.3" cy="1032.8" r="7"/><circle cx="1572.9" cy="884" r="7"/><circle cx="1559.9" cy="991.9" r="7"/><circle cx="1565.8" cy="1108.5" r="7"/><circle cx="1566.2" cy="1109.3" r="7"/><circle cx="1563.7" cy="1117.4" r="7"/><circle cx="1564" cy="1018.2" r="7"/><circle cx="1562.3" cy="980" r="7"/><circle cx="1560.6" cy="691.1" r="7"/><circle cx="1561.5" cy="836.2" r="7"/><circle cx="1555" cy="681.4" r="7"/><circle cx="1560.6" cy="981" r="7"/><circle cx="1547.9" cy="857.5" r="7"/><circle cx="1558.7" cy="1149.8" r="7"/><circle cx="1568.6" cy="857" r="7"/><circle cx="1564.6" cy="887.4" r="7"/><circle cx="1575.4" cy="894.6" r="7"/><circle cx="1559.7" cy="1156.5" r="7"/><circle cx="1568.1" cy="907.6" r="7"/><circle cx="1564.6" cy="884.7" r="7"/><circle cx="1558.9" cy="1069.1" r="7"/><circle cx="1568.7" cy="1021.8" r="7"/><circle cx="1560.9" cy="1081.2" r="7"/><circle cx="1570.8" cy="937.8" r="7"/><circle cx="1557.3" cy="868.1" r="7"/><circle cx="1567" cy="852.3" r="7"/><circle cx="1562.4" cy="680.2" r="7"/><circle cx="1565.6" cy="1132" r="7"/><circle cx="1562" cy="687.6" r="7"/><circle cx="1557.7" cy="1006.5" r="7"/><circle cx="1567.5" cy="1006.4" r="7"/><circle cx="1560.4" cy="1083.2" r="7"/><circle cx="1562.3" cy="1049.2" r="7"/><circle cx="1557" cy="1069.9" r="7"/><circle cx="1562.9" cy="919.8" r="7"/><circle cx="1557.6" cy="1037" r="7"/><circle cx="1562.8" cy="1036.7" r="7"/><circle cx="1558.6" cy="862.2" r="7"/><circle cx="1568.1" cy="1006.7" r="7"/><circle cx="1556" cy="1136" r="7"/><circle cx="1568.1" cy="1057.2" r="7"/><circle cx="1559.4" cy="890.2" r="7"/><circle cx="1564.7" cy="973.3" r="7"/><circle cx="1567" cy="1130.3" r="7"/><circle cx="1563.2" cy="711.1" r="7"/><circle cx="1566.2" cy="1163.9" r="7"/><circle cx="1558.8" cy="1030.6" r="7"/><circle cx="1560.8" cy="884.3" r="7"/><circle cx="1555.6" cy="737.2" r="7"/><circle cx="1567.1" cy="1029.8" r="7"/><circle cx="1555.7" cy="785.5" r="7"/><circle cx="1557.3" cy="856.6" r="7"/><circle cx="1562.2" cy="917.4" r="7"/><circle cx="1551.3" cy="984.1" r="7"/><circle cx="1565.1" cy="1153.5" r="7"/><circle cx="1564.2" cy="1054.1" r="7"/><circle cx="1560.8" cy="864.8" r="7"/><circle cx="1557.9" cy="1038.8" r="7"/><circle cx="1559.2" cy="825.9" r="7"/><circle cx="1560.5" cy="1590.6" r="7"/><circle cx="1558.7" cy="1578.2" r="7"/><circle cx="1553.8" cy="1569.1" r="7"/><circle cx="1551.6" cy="1557.2" r="7"/><circle cx="1566" cy="1584.8" r="7"/><circle cx="1559.2" cy="1592.7" r="7"/><circle cx="1565.2" cy="1599.5" r="7"/><circle cx="1559.6" cy="1573.8" r="7"/></g></g>
<g fill="none" stroke="#A2142F" stroke-width="4">
<circle cx="724.4" cy="409.6" r="20"/><circle cx="743" cy="436.6" r="20"/><circle cx="817.5" cy="503.7" r="20"/><circle cx="836.1" cy="470.8" r="20"/><circle cx="873.3" cy="637.8" r="20"/><circle cx="910.6" cy="680" r="20"/><circle cx="1003.7" cy="699.3" r="20"/><circle cx="1096.7" cy="742.7" r="20"/><circle cx="1152.6" cy="734.8" r="20"/><circle cx="1245.7" cy="792.8" r="20"/><circle cx="1282.9" cy="797.7" r="20"/><circle cx="1562.1" cy="987.3" r="20"/>
<path d="M743 684.8L766 722.8L720 722.8Z"/><path d="M817.5 664L840.5 702L794.5 702Z"/><path d="M873.3 549.9L896.3 587.9L850.3 587.9Z"/><path d="M910.6 580.9L933.6 618.9L887.6 618.9Z"/><path d="M1003.7 749L1026.7 787L980.7 787Z"/><path d="M1096.7 686.8L1119.7 724.8L1073.7 724.8Z"/><path d="M1152.6 697.2L1175.6 735.2L1129.6 735.2Z"/><path d="M1245.7 808.7L1268.7 846.7L1222.7 846.7Z"/><path d="M1282.9 800.5L1305.9 838.5L1259.9 838.5Z"/><path d="M1562.1 974.8L1585.1 1012.8L1539.1 1012.8Z"/>
</g>
<g fill="#FF0000" stroke="#000" stroke-width="4.5">
<path d="M1096.7 663.7L1119.7 701.7L1073.7 701.7Z"/><path d="M1096.7 791.7L1119.7 753.7L1073.7 753.7Z"/>
</g>
<g fill="none" stroke="#A2142F" stroke-width="4">
<path d="M724.4 381L747.4 343L701.4 343Z"/><path d="M743 419.9L766 381.9L720 381.9Z"/><path d="M817.5 447.9L840.5 409.9L794.5 409.9Z"/><path d="M910.6 742.9L933.6 704.9L887.6 704.9Z"/><path d="M1003.7 734.9L1026.7 696.9L980.7 696.9Z"/><path d="M1096.7 803.8L1119.7 765.8L1073.7 765.8Z"/><path d="M1152.6 830.1L1175.6 792.1L1129.6 792.1Z"/><path d="M1282.9 830.8L1305.9 792.8L1259.9 792.8Z"/><path d="M1562.1 1015L1585.1 977L1539.1 977Z"/>
</g>
<g clip-path="url(#ax)" fill="none" stroke-linejoin="round">
<path d="M259 437.2 L263.7 437 L268.3 436.9 L273 436.8 L277.6 436.6 L282.3 436.5 L286.9 436.5 L291.6 436.4 L296.2 436.3 L300.9 436.3 L305.5 436.3 L310.2 436.2 L314.8 436.2 L319.5 436.2 L324.2 436.3 L328.8 436.3 L333.5 436.3 L338.1 436.4 L342.8 436.5 L347.4 436.5 L352.1 436.6 L356.7 436.8 L361.4 436.9 L366 437 L370.7 437.2 L375.4 437.4 L380 437.5 L384.7 437.7 L389.3 437.9 L394 438.2 L398.6 438.4 L403.3 438.6 L407.9 438.9 L412.6 439.2 L417.2 439.5 L421.9 439.8 L426.5 440.1 L431.2 440.4 L435.9 440.8 L440.5 441.1 L445.2 441.5 L449.8 441.9 L454.5 442.3 L459.1 442.7 L463.8 443.2 L468.4 443.6 L473.1 444.1 L477.7 444.6 L482.4 445.1 L487 445.6 L491.7 446.1 L496.4 446.6 L501 447.2 L505.7 447.8 L510.3 448.3 L515 449 L519.6 449.6 L524.3 450.2 L528.9 450.9 L533.6 451.5 L538.2 452.2 L542.9 452.9 L547.6 453.6 L552.2 454.4 L556.9 455.1 L561.5 455.9 L566.2 456.7 L570.8 457.5 L575.5 458.3 L580.1 459.2 L584.8 460 L589.4 460.9 L594.1 461.8 L598.7 462.7 L603.4 463.7 L608.1 464.6 L612.7 465.6 L617.4 466.6 L622 467.6 L626.7 468.7 L631.3 469.7 L636 470.8 L640.6 471.9 L645.3 473.1 L649.9 474.2 L654.6 475.4 L659.2 476.6 L663.9 477.8 L668.6 479 L673.2 480.3 L677.9 481.6 L682.5 482.9 L687.2 484.2 L691.8 485.5 L696.5 486.9 L701.1 488.3 L705.8 489.8 L710.4 491.2 L715.1 492.7 L719.8 494.2 L724.4 495.8 L729.1 497.3 L733.7 498.9 L738.4 500.5 L743 502.2 L747.7 503.9 L752.3 505.6 L757 507.3 L761.6 509.1 L766.3 510.9 L770.9 512.7 L775.6 514.6 L780.3 516.5 L784.9 518.4 L789.6 520.3 L794.2 522.3 L798.9 524.4 L803.5 526.4 L808.2 528.5 L812.8 530.7 L817.5 532.8 L822.1 535 L826.8 537.3 L831.4 539.6 L836.1 541.9 L840.8 544.3 L845.4 546.7 L850.1 549.1 L854.7 551.6 L859.4 554.1 L864 556.7 L868.7 559.3 L873.3 561.9 L878 564.6 L882.6 567.4 L887.3 570.2 L892 573 L896.6 575.9 L901.3 578.8 L905.9 581.8 L910.6 584.9 L915.2 587.9 L919.9 591.1 L924.5 594.3 L929.2 597.5 L933.8 600.8 L938.5 604.2 L943.1 607.6 L947.8 611 L952.5 614.6 L957.1 618.1 L961.8 621.8 L966.4 625.5 L971.1 629.3 L975.7 633.1 L980.4 637 L985 640.9 L989.7 644.9 L994.3 649 L999 653.2 L1003.7 657.4 L1008.3 661.7 L1013 666 L1017.6 670.5 L1022.3 675 L1026.9 679.5 L1031.6 684.2 L1036.2 688.9 L1040.9 693.7 L1045.5 698.6 L1050.2 703.5 L1054.8 708.5 L1059.5 713.6 L1064.2 718.8 L1068.8 724 L1073.5 729.4 L1078.1 734.8 L1082.8 740.3 L1087.4 745.8 L1092.1 751.4 L1096.7 757.2 L1101.4 762.9 L1106 768.8 L1110.7 774.7 L1115.3 780.7 L1120 786.8 L1124.7 792.9 L1129.3 799.1 L1134 805.3 L1138.6 811.6 L1143.3 818 L1147.9 824.4 L1152.6 830.8 L1157.2 837.3 L1161.9 843.8 L1166.5 850.3 L1171.2 856.8 L1175.9 863.3 L1180.5 869.8 L1185.2 876.3 L1189.8 882.8 L1194.5 889.2 L1199.1 895.5 L1203.8 901.8 L1208.4 908 L1213.1 914 L1217.7 920 L1222.4 925.8 L1227 931.4 L1231.7 936.9 L1236.4 942.3 L1241 947.4 L1245.7 952.3 L1250.3 957 L1255 961.4 L1259.6 965.6 L1264.3 969.6 L1268.9 973.3 L1273.6 976.8 L1278.2 980 L1282.9 983 L1287.5 985.8 L1292.2 988.3 L1296.9 990.6 L1301.5 992.6 L1306.2 994.5 L1310.8 996.2 L1315.5 997.7 L1320.1 999 L1324.8 1000.2 L1329.4 1001.2 L1334.1 1002.1 L1338.7 1002.9 L1343.4 1003.5 L1348.1 1004.1 L1352.7 1004.6 L1357.4 1005 L1362 1005.4 L1366.7 1005.7 L1371.3 1006 L1376 1006.2 L1380.6 1006.4 L1385.3 1006.5 L1389.9 1006.6 L1394.6 1006.7 L1399.2 1006.8 L1403.9 1006.9 L1408.6 1006.9 L1413.2 1007 L1417.9 1007 L1422.5 1007 L1427.2 1007 L1431.8 1007.1 L1436.5 1007.1 L1441.1 1007.1 L1445.8 1007.1 L1450.4 1007.1 L1455.1 1007.1 L1459.7 1007.1 L1464.4 1007.1 L1469.1 1007.1 L1473.7 1007.1 L1478.4 1007.1 L1483 1007.1 L1487.7 1007.1 L1492.3 1007.1 L1497 1007.1 L1501.6 1007.1 L1506.3 1007.1 L1510.9 1007.1 L1515.6 1007.1 L1520.3 1007.1 L1524.9 1007.1 L1529.6 1007.1 L1534.2 1007.1 L1538.9 1007.1 L1543.5 1007.1 L1548.2 1007.1 L1552.8 1007.1 L1557.5 1007.1 L1562.1 1007.1" stroke="#0072BD" stroke-width="12.5"/>
<path d="M259 437.2 L263.7 437.4 L268.3 437.5 L273 437.7 L277.6 437.9 L282.3 438.2 L286.9 438.4 L291.6 438.6 L296.2 438.9 L300.9 439.2 L305.5 439.5 L310.2 439.8 L314.8 440.1 L319.5 440.4 L324.2 440.8 L328.8 441.1 L333.5 441.5 L338.1 441.9 L342.8 442.3 L347.4 442.7 L352.1 443.2 L356.7 443.6 L361.4 444.1 L366 444.6 L370.7 445.1 L375.4 445.6 L380 446.1 L384.7 446.6 L389.3 447.2 L394 447.8 L398.6 448.3 L403.3 449 L407.9 449.6 L412.6 450.2 L417.2 450.9 L421.9 451.5 L426.5 452.2 L431.2 452.9 L435.9 453.6 L440.5 454.4 L445.2 455.1 L449.8 455.9 L454.5 456.7 L459.1 457.5 L463.8 458.3 L468.4 459.2 L473.1 460 L477.7 460.9 L482.4 461.8 L487 462.7 L491.7 463.7 L496.4 464.6 L501 465.6 L505.7 466.6 L510.3 467.6 L515 468.7 L519.6 469.7 L524.3 470.8 L528.9 471.9 L533.6 473.1 L538.2 474.2 L542.9 475.4 L547.6 476.6 L552.2 477.8 L556.9 479 L561.5 480.3 L566.2 481.6 L570.8 482.9 L575.5 484.2 L580.1 485.5 L584.8 486.9 L589.4 488.3 L594.1 489.8 L598.7 491.2 L603.4 492.7 L608.1 494.2 L612.7 495.8 L617.4 497.3 L622 498.9 L626.7 500.5 L631.3 502.2 L636 503.9 L640.6 505.6 L645.3 507.3 L649.9 509.1 L654.6 510.9 L659.2 512.7 L663.9 514.6 L668.6 516.5 L673.2 518.4 L677.9 520.3 L682.5 522.3 L687.2 524.4 L691.8 526.4 L696.5 528.5 L701.1 530.7 L705.8 532.8 L710.4 535 L715.1 537.3 L719.8 539.6 L724.4 541.9 L729.1 544.3 L733.7 546.7 L738.4 549.1 L743 551.6 L747.7 554.1 L752.3 556.7 L757 559.3 L761.6 561.9 L766.3 564.6 L770.9 567.4 L775.6 570.2 L780.3 573 L784.9 575.9 L789.6 578.8 L794.2 581.8 L798.9 584.9 L803.5 587.9 L808.2 591.1 L812.8 594.3 L817.5 597.5 L822.1 600.8 L826.8 604.2 L831.4 607.6 L836.1 611 L840.8 614.6 L845.4 618.1 L850.1 621.8 L854.7 625.5 L859.4 629.3 L864 633.1 L868.7 637 L873.3 640.9 L878 644.9 L882.6 649 L887.3 653.2 L892 657.4 L896.6 661.7 L901.3 666 L905.9 670.5 L910.6 675 L915.2 679.5 L919.9 684.2 L924.5 688.9 L929.2 693.7 L933.8 698.6 L938.5 703.5 L943.1 708.5 L947.8 713.6 L952.5 718.8 L957.1 724 L961.8 729.4 L966.4 734.8 L971.1 740.3 L975.7 745.8 L980.4 751.4 L985 757.2 L989.7 762.9 L994.3 768.8 L999 774.7 L1003.7 780.7 L1008.3 786.8 L1013 792.9 L1017.6 799.1 L1022.3 805.3 L1026.9 811.6 L1031.6 818 L1036.2 824.4 L1040.9 830.8 L1045.5 837.3 L1050.2 843.8 L1054.8 850.3 L1059.5 856.8 L1064.2 863.3 L1068.8 869.8 L1073.5 876.3 L1078.1 882.8 L1082.8 889.2 L1087.4 895.5 L1092.1 901.8 L1096.7 908 L1101.4 914 L1106 920 L1110.7 925.8 L1115.3 931.4 L1120 936.9 L1124.7 942.3 L1129.3 947.4 L1134 952.3 L1138.6 957 L1143.3 961.4 L1147.9 965.6 L1152.6 969.6 L1157.2 973.3 L1161.9 976.8 L1166.5 980 L1171.2 983 L1175.9 985.8 L1180.5 988.3 L1185.2 990.6 L1189.8 992.6 L1194.5 994.5 L1199.1 996.2 L1203.8 997.7 L1208.4 999 L1213.1 1000.2 L1217.7 1001.2 L1222.4 1002.1 L1227 1002.9 L1231.7 1003.5 L1236.4 1004.1 L1241 1004.6 L1245.7 1005 L1250.3 1005.4 L1255 1005.7 L1259.6 1006 L1264.3 1006.2 L1268.9 1006.4 L1273.6 1006.5 L1278.2 1006.6 L1282.9 1006.7 L1287.5 1006.8 L1292.2 1006.9 L1296.9 1006.9 L1301.5 1007 L1306.2 1007 L1310.8 1007 L1315.5 1007 L1320.1 1007.1 L1324.8 1007.1 L1329.4 1007.1 L1334.1 1007.1 L1338.7 1007.1 L1343.4 1007.1 L1348.1 1007.1 L1352.7 1007.1 L1357.4 1007.1 L1362 1007.1 L1366.7 1007.1 L1371.3 1007.1 L1376 1007.1 L1380.6 1007.1 L1385.3 1007.1 L1389.9 1007.1 L1394.6 1007.1 L1399.2 1007.1 L1403.9 1007.1 L1408.6 1007.1 L1413.2 1007.1 L1417.9 1007.1 L1422.5 1007.1 L1427.2 1007.1 L1431.8 1007.1 L1436.5 1007.1 L1441.1 1007.1 L1445.8 1007.1 L1450.4 1007.1 L1455.1 1007.1 L1459.7 1007.1 L1464.4 1007.1 L1469.1 1007.1 L1473.7 1007.1 L1478.4 1007.1 L1483 1007.1 L1487.7 1007.1 L1492.3 1007.1 L1497 1007.1 L1501.6 1007.1 L1506.3 1007.1 L1510.9 1007.1 L1515.6 1007.1 L1520.3 1007.1 L1524.9 1007.1 L1529.6 1007.1 L1534.2 1007.1 L1538.9 1007.1 L1543.5 1007.1 L1548.2 1007.1 L1552.8 1007.1 L1557.5 1007.1 L1562.1 1007.1" stroke="#D95319" stroke-width="12.5"/>
<path d="M259 54 L259.5 54 L259.9 54 L260.4 54 L260.9 54.1 L261.3 54.1 L261.8 54.2 L262.3 54.3 L262.7 54.4 L263.2 54.5 L263.7 54.6 L264.1 54.8 L264.6 54.9 L265.1 55.1 L265.5 55.3 L266 55.5 L266.4 55.7 L266.9 55.9 L267.4 56.2 L267.8 56.4 L268.3 56.7 L268.8 57 L269.2 57.3 L269.7 57.6 L270.2 57.9 L270.6 58.2 L271.1 58.6 L271.6 58.9 L272 59.3 L272.5 59.7 L273 60.1 L273.4 60.5 L273.9 60.9 L274.4 61.4 L274.8 61.8 L275.3 62.3 L275.8 62.8 L276.2 63.3 L276.7 63.8 L277.2 64.3 L277.6 64.8 L278.1 65.4 L278.5 65.9 L279 66.5 L279.5 67.1 L279.9 67.7 L280.4 68.3 L280.9 69 L281.3 69.6 L281.8 70.3 L282.3 70.9 L282.7 71.6 L283.2 72.3 L283.7 73 L284.1 73.8 L284.6 74.5 L285.1 75.3 L285.5 76 L286 76.8 L286.5 77.6 L286.9 78.4 L287.4 79.2 L287.9 80.1 L288.3 80.9 L288.8 81.8 L289.3 82.7 L289.7 83.6 L290.2 84.5 L290.6 85.4 L291.1 86.3 L291.6 87.3 L292 88.2 L292.5 89.2 L293 90.2 L293.4 91.2 L293.9 92.2 L294.4 93.2 L294.8 94.3 L295.3 95.3 L295.8 96.4 L296.2 97.5 L296.7 98.6 L297.2 99.7 L297.6 100.8 L298.1 101.9 L298.6 103.1 L299 104.2 L299.5 105.4 L300 106.6 L300.4 107.8 L300.9 109 L301.4 110.3 L301.8 111.5 L302.3 112.8 L302.7 114 L303.2 115.3 L303.7 116.6 L304.1 117.9 L304.6 119.3 L305.1 120.6 L305.5 122 L306 123.3 L306.5 124.7 L306.9 126.1 L307.4 127.5 L307.9 128.9 L308.3 130.4 L308.8 131.8 L309.3 133.3 L309.7 134.8 L310.2 136.3 L310.7 137.8 L311.1 139.3 L311.6 140.8 L312.1 142.4 L312.5 143.9 L313 145.5 L313.5 147.1 L313.9 148.7 L314.4 150.3 L314.8 151.9 L315.3 153.6 L315.8 155.2 L316.2 156.9 L316.7 158.6 L317.2 160.3 L317.6 162 L318.1 163.7 L318.6 165.5 L319 167.2 L319.5 169 L320 170.8 L320.4 172.5 L320.9 174.4 L321.4 176.2 L321.8 178 L322.3 179.9 L322.8 181.7 L323.2 183.6 L323.7 185.5 L324.2 187.4 L324.6 189.3 L325.1 191.2 L325.6 193.2 L326 195.1 L326.5 197.1 L326.9 199.1 L327.4 201.1 L327.9 203.1 L328.3 205.1 L328.8 207.2 L329.3 209.2 L329.7 211.3 L330.2 213.4 L330.7 215.5 L331.1 217.6 L331.6 219.7 L332.1 221.9 L332.5 224 L333 226.2 L333.5 228.4 L333.9 230.6 L334.4 232.8 L334.9 235 L335.3 237.2 L335.8 239.5 L336.3 241.7 L336.7 244 L337.2 246.3 L337.7 248.6 L338.1 250.9 L338.6 253.3 L339 255.6 L339.5 258 L340 260.4 L340.4 262.7 L340.9 265.1 L341.4 267.6 L341.8 270 L342.3 272.4 L342.8 274.9 L343.2 277.4 L343.7 279.8 L344.2 282.3 L344.6 284.9 L345.1 287.4 L345.6 289.9 L346 292.5 L346.5 295.1 L347 297.6 L347.4 300.2 L347.9 302.8 L348.4 305.5 L348.8 308.1 L349.3 310.8 L349.8 313.4 L350.2 316.1 L350.7 318.8 L351.2 321.5 L351.6 324.2 L352.1 327 L352.5 329.7 L353 332.5 L353.5 335.3 L353.9 338.1 L354.4 340.9 L354.9 343.7 L355.3 346.5 L355.8 349.4 L356.3 352.2 L356.7 355.1 L357.2 358 L357.7 360.9 L358.1 363.8 L358.6 366.8 L359.1 369.7 L359.5 372.7 L360 375.7 L360.5 378.6 L360.9 381.6 L361.4 384.7 L361.9 387.7 L362.3 390.7 L362.8 393.8 L363.3 396.9 L363.7 400 L364.2 403.1 L364.6 406.2 L365.1 409.3 L365.6 412.5 L366 415.6 L366.5 418.8 L367 422 L367.4 425.2 L367.9 428.4 L368.4 431.6 L368.8 434.9 L369.3 438.1 L369.8 441.4 L370.2 444.7 L370.7 448 L371.2 451.3 L371.6 454.6 L372.1 458 L372.6 461.3 L373 464.7 L373.5 468.1 L374 471.5 L374.4 474.9 L374.9 478.3 L375.4 481.8 L375.8 485.2 L376.3 488.7 L376.7 492.2 L377.2 495.7 L377.7 499.2 L378.1 502.7 L378.6 506.3 L379.1 509.8 L379.5 513.4 L380 517 L380.5 520.6 L380.9 524.2 L381.4 527.8 L381.9 531.5 L382.3 535.1 L382.8 538.8 L383.3 542.5 L383.7 546.2 L384.2 549.9 L384.7 553.6 L385.1 557.4 L385.6 561.1 L386.1 564.9 L386.5 568.7 L387 572.5 L387.5 576.3 L387.9 580.1 L388.4 584 L388.8 587.8 L389.3 591.7 L389.8 595.6 L390.2 599.5 L390.7 603.4 L391.2 607.3 L391.6 611.3 L392.1 615.2 L392.6 619.2 L393 623.2 L393.5 627.2 L394 631.2 L394.4 635.3 L394.9 639.3 L395.4 643.4 L395.8 647.4 L396.3 651.5 L396.8 655.6 L397.2 659.8 L397.7 663.9 L398.2 668 L398.6 672.2 L399.1 676.4 L399.6 680.6 L400 684.8 L400.5 689 L400.9 693.2 L401.4 697.5 L401.9 701.7 L402.3 706 L402.8 710.3 L403.3 714.6 L403.7 718.9 L404.2 723.3 L404.7 727.6 L405.1 732 L405.6 736.4 L406.1 740.8 L406.5 745.2 L407 749.6 L407.5 754 L407.9 758.5 L408.4 763 L408.9 767.4 L409.3 771.9 L409.8 776.5 L410.3 781 L410.7 785.5 L411.2 790.1 L411.7 794.7 L412.1 799.2 L412.6 803.8 L413 808.5 L413.5 813.1 L414 817.7 L414.4 822.4 L414.9 827.1 L415.4 831.8 L415.8 836.5 L416.3 841.2 L416.8 845.9 L417.2 850.7 L417.7 855.4 L418.2 860.2 L418.6 865 L419.1 869.8 L419.6 874.6 L420 879.5 L420.5 884.3 L421 889.2 L421.4 894.1 L421.9 899 L422.4 903.9 L422.8 908.8 L423.3 913.8 L423.8 918.7 L424.2 923.7 L424.7 928.7 L425.2 933.7 L425.6 938.7 L426.1 943.7 L426.5 948.8 L427 953.8 L427.5 958.9 L427.9 964 L428.4 969.1 L428.9 974.2 L429.3 979.4 L429.8 984.5 L430.3 989.7 L430.7 994.9 L431.2 1000.1 L431.7 1005.3 L432.1 1010.5 L432.6 1015.7 L433.1 1021 L433.5 1026.3 L434 1031.6 L434.5 1036.9 L434.9 1042.2 L435.4 1047.5 L435.9 1052.9 L436.3 1058.2 L436.8 1063.6 L437.3 1069 L437.7 1074.4 L438.2 1079.8 L438.6 1085.3 L439.1 1090.7 L439.6 1096.2 L440 1101.7 L440.5 1107.2 L441 1112.7 L441.4 1118.2 L441.9 1123.8 L442.4 1129.3 L442.8 1134.9 L443.3 1140.5 L443.8 1146.1 L444.2 1151.7 L444.7 1157.3 L445.2 1163 L445.6 1168.7 L446.1 1174.4 L446.6 1180 L447 1185.8 L447.5 1191.5 L448 1197.2 L448.4 1203 L448.9 1208.8 L449.4 1214.6 L449.8 1220.4 L450.3 1226.2 L450.7 1232 L451.2 1237.9 L451.7 1243.7 L452.1 1249.6 L452.6 1255.5 L453.1 1261.4 L453.5 1267.4 L454 1273.3 L454.5 1279.3 L454.9 1285.2 L455.4 1291.2 L455.9 1297.2 L456.3 1303.3 L456.8 1309.3 L457.3 1315.4 L457.7 1321.4 L458.2 1327.5 L458.7 1333.6 L459.1 1339.7 L459.6 1345.9 L460.1 1352 L460.5 1358.2 L461 1364.4 L461.5 1370.5 L461.9 1376.8 L462.4 1383 L462.8 1389.2 L463.3 1395.5 L463.8 1401.8 L464.2 1408 L464.7 1414.3 L465.2 1420.7 L465.6 1427 L466.1 1433.3 L466.6 1439.7 L467 1446.1 L467.5 1452.5 L468 1458.9 L468.4 1465.3 L468.9 1471.8 L469.4 1478.2 L469.8 1484.7 L470.3 1491.2 L470.8 1497.7 L471.2 1504.2 L471.7 1510.8 L472.2 1517.3 L472.6 1523.9 L473.1 1530.5 L473.6 1537.1 L474 1543.7 L474.5 1550.4 L474.9 1557 L475.4 1563.7 L475.9 1570.4 L476.3 1577.1 L476.8 1583.8 L477.3 1590.5 L477.7 1597.3 L478.2 1604 L478.7 1610.8 L479.1 1617.6 L479.6 1624.4 L480.1 1631.2 L480.5 1638.1 L481 1645 L481.5 1651.8 L481.9 1658.7 L482.4 1665.6 L482.9 1672.6 L483.3 1679.5 L483.8 1686.5 L484.3 1693.4 L484.7 1700.4 L485.2 1707.4 L485.7 1714.4 L486.1 1721.5 L486.6 1728.5 L487 1735.6 L487.5 1742.7 L488 1749.8 L488.4 1756.9 L488.9 1764 L489.4 1771.2 L489.8 1778.4 L490.3 1785.6 L490.8 1792.8 L491.2 1800 L491.7 1807.2 L492.2 1814.5 L492.6 1821.7 L493.1 1829 L493.6 1836.3 L494 1843.6 L494.5 1850.9 L495 1858.3 L495.4 1865.7 L495.9 1873 L496.4 1880.4 L496.8 1887.9 L497.3 1895.3 L497.8 1902.7 L498.2 1910.2 L498.7 1917.7 L499.1 1925.2 L499.6 1932.7 L500.1 1940.2 L500.5 1947.8 L501 1955.3 L501.5 1962.9 L501.9 1970.5 L502.4 1978.1 L502.9 1985.7 L503.3 1993.4 L503.8 2001 L504.3 2008.7 L504.7 2016.4 L505.2 2024.1 L505.7 2031.9 L506.1 2039.6 L506.6 2047.4 L507.1 2055.2 L507.5 2063 L508 2070.8 L508.5 2078.6 L508.9 2086.4 L509.4 2094.3 L509.9 2102.2 L510.3 2110.1 L510.8 2118 L511.3 2125.9 L511.7 2133.9 L512.2 2141.8 L512.6 2149.8 L513.1 2157.8 L513.6 2165.8 L514 2173.9 L514.5 2181.9 L515 2190 L515.4 2198.1 L515.9 2206.2 L516.4 2214.3 L516.8 2222.4 L517.3 2230.6 L517.8 2238.7 L518.2 2246.9 L518.7 2255.1 L519.2 2263.4 L519.6 2271.6 L520.1 2279.8 L520.6 2288.1 L521 2296.4 L521.5 2304.7 L522 2313 L522.4 2321.4 L522.9 2329.7 L523.4 2338.1 L523.8 2346.5 L524.3 2354.9 L524.7 2363.3 L525.2 2371.8 L525.7 2380.2 L526.1 2388.7 L526.6 2397.2 L527.1 2405.7 L527.5 2414.3 L528 2422.8 L528.5 2431.4 L528.9 2440 L529.4 2448.5 L529.9 2457.2 L530.3 2465.8 L530.8 2474.5 L531.3 2483.1 L531.7 2491.8 L532.2 2500 L532.7 2500 L533.1 2500 L533.6 2500 L534.1 2500 L534.5 2500 L535 2500 L535.5 2500 L535.9 2500 L536.4 2500 L536.8 2500 L537.3 2500 L537.8 2500 L538.2 2500" stroke="#7E2F8E" stroke-width="5.5" stroke-dasharray="5 15.06" stroke-dashoffset="17.1"/>
<path d="M259 301.8 L259.9 301.8 L260.9 301.8 L261.8 301.9 L262.7 301.9 L263.7 301.9 L264.6 301.9 L265.5 302 L266.4 302 L267.4 302 L268.3 302.1 L269.2 302.1 L270.2 302.2 L271.1 302.3 L272 302.3 L273 302.4 L273.9 302.5 L274.8 302.6 L275.8 302.7 L276.7 302.8 L277.6 302.9 L278.5 303 L279.5 303.1 L280.4 303.2 L281.3 303.3 L282.3 303.4 L283.2 303.6 L284.1 303.7 L285.1 303.8 L286 304 L286.9 304.1 L287.9 304.3 L288.8 304.5 L289.7 304.6 L290.6 304.8 L291.6 305 L292.5 305.2 L293.4 305.4 L294.4 305.5 L295.3 305.7 L296.2 305.9 L297.2 306.2 L298.1 306.4 L299 306.6 L300 306.8 L300.9 307 L301.8 307.3 L302.7 307.5 L303.7 307.8 L304.6 308 L305.5 308.3 L306.5 308.5 L307.4 308.8 L308.3 309.1 L309.3 309.3 L310.2 309.6 L311.1 309.9 L312.1 310.2 L313 310.5 L313.9 310.8 L314.8 311.1 L315.8 311.4 L316.7 311.7 L317.6 312 L318.6 312.4 L319.5 312.7 L320.4 313 L321.4 313.4 L322.3 313.7 L323.2 314.1 L324.2 314.5 L325.1 314.8 L326 315.2 L326.9 315.6 L327.9 315.9 L328.8 316.3 L329.7 316.7 L330.7 317.1 L331.6 317.5 L332.5 317.9 L333.5 318.3 L334.4 318.7 L335.3 319.2 L336.3 319.6 L337.2 320 L338.1 320.5 L339 320.9 L340 321.4 L340.9 321.8 L341.8 322.3 L342.8 322.7 L343.7 323.2 L344.6 323.7 L345.6 324.2 L346.5 324.6 L347.4 325.1 L348.4 325.6 L349.3 326.1 L350.2 326.6 L351.2 327.1 L352.1 327.7 L353 328.2 L353.9 328.7 L354.9 329.2 L355.8 329.8 L356.7 330.3 L357.7 330.9 L358.6 331.4 L359.5 332 L360.5 332.5 L361.4 333.1 L362.3 333.7 L363.3 334.3 L364.2 334.9 L365.1 335.4 L366 336 L367 336.6 L367.9 337.3 L368.8 337.9 L369.8 338.5 L370.7 339.1 L371.6 339.7 L372.6 340.4 L373.5 341 L374.4 341.7 L375.4 342.3 L376.3 343 L377.2 343.6 L378.1 344.3 L379.1 345 L380 345.6 L380.9 346.3 L381.9 347 L382.8 347.7 L383.7 348.4 L384.7 349.1 L385.6 349.8 L386.5 350.5 L387.5 351.2 L388.4 352 L389.3 352.7 L390.2 353.4 L391.2 354.2 L392.1 354.9 L393 355.7 L394 356.4 L394.9 357.2 L395.8 358 L396.8 358.8 L397.7 359.5 L398.6 360.3 L399.6 361.1 L400.5 361.9 L401.4 362.7 L402.3 363.5 L403.3 364.3 L404.2 365.2 L405.1 366 L406.1 366.8 L407 367.7 L407.9 368.5 L408.9 369.3 L409.8 370.2 L410.7 371.1 L411.7 371.9 L412.6 372.8 L413.5 373.7 L414.4 374.5 L415.4 375.4 L416.3 376.3 L417.2 377.2 L418.2 378.1 L419.1 379 L420 379.9 L421 380.9 L421.9 381.8 L422.8 382.7 L423.8 383.7 L424.7 384.6 L425.6 385.6 L426.5 386.5 L427.5 387.5 L428.4 388.4 L429.3 389.4 L430.3 390.4 L431.2 391.4 L432.1 392.4 L433.1 393.4 L434 394.4 L434.9 395.4 L435.9 396.4 L436.8 397.4 L437.7 398.4 L438.6 399.4 L439.6 400.5 L440.5 401.5 L441.4 402.6 L442.4 403.6 L443.3 404.7 L444.2 405.7 L445.2 406.8 L446.1 407.9 L447 409 L448 410 L448.9 411.1 L449.8 412.2 L450.7 413.3 L451.7 414.5 L452.6 415.6 L453.5 416.7 L454.5 417.8 L455.4 419 L456.3 420.1 L457.3 421.2 L458.2 422.4 L459.1 423.5 L460.1 424.7 L461 425.9 L461.9 427.1 L462.8 428.2 L463.8 429.4 L464.7 430.6 L465.6 431.8 L466.6 433 L467.5 434.2 L468.4 435.5 L469.4 436.7 L470.3 437.9 L471.2 439.1 L472.2 440.4 L473.1 441.6 L474 442.9 L474.9 444.1 L475.9 445.4 L476.8 446.7 L477.7 448 L478.7 449.2 L479.6 450.5 L480.5 451.8 L481.5 453.1 L482.4 454.4 L483.3 455.8 L484.3 457.1 L485.2 458.4 L486.1 459.7 L487 461.1 L488 462.4 L488.9 463.8 L489.8 465.1 L490.8 466.5 L491.7 467.9 L492.6 469.2 L493.6 470.6 L494.5 472 L495.4 473.4 L496.4 474.8 L497.3 476.2 L498.2 477.6 L499.1 479 L500.1 480.5 L501 481.9 L501.9 483.3 L502.9 484.8 L503.8 486.2 L504.7 487.7 L505.7 489.2 L506.6 490.6 L507.5 492.1 L508.5 493.6 L509.4 495.1 L510.3 496.6 L511.3 498.1 L512.2 499.6 L513.1 501.1 L514 502.6 L515 504.2 L515.9 505.7 L516.8 507.2 L517.8 508.8 L518.7 510.3 L519.6 511.9 L520.6 513.5 L521.5 515.1 L522.4 516.6 L523.4 518.2 L524.3 519.8 L525.2 521.4 L526.1 523 L527.1 524.6 L528 526.3 L528.9 527.9 L529.9 529.5 L530.8 531.2 L531.7 532.8 L532.7 534.5 L533.6 536.1 L534.5 537.8 L535.5 539.5 L536.4 541.1 L537.3 542.8 L538.2 544.5 L539.2 546.2 L540.1 547.9 L541 549.7 L542 551.4 L542.9 553.1 L543.8 554.8 L544.8 556.6 L545.7 558.3 L546.6 560.1 L547.6 561.8 L548.5 563.6 L549.4 565.4 L550.3 567.2 L551.3 569 L552.2 570.8 L553.1 572.6 L554.1 574.4 L555 576.2 L555.9 578 L556.9 579.9 L557.8 581.7 L558.7 583.5 L559.7 585.4 L560.6 587.3 L561.5 589.1 L562.4 591 L563.4 592.9 L564.3 594.8 L565.2 596.7 L566.2 598.6 L567.1 600.5 L568 602.4 L569 604.3 L569.9 606.2 L570.8 608.2 L571.8 610.1 L572.7 612.1 L573.6 614 L574.5 616 L575.5 618 L576.4 620 L577.3 622 L578.3 624 L579.2 626 L580.1 628 L581.1 630 L582 632 L582.9 634.1 L583.9 636.1 L584.8 638.1 L585.7 640.2 L586.6 642.3 L587.6 644.3 L588.5 646.4 L589.4 648.5 L590.4 650.6 L591.3 652.7 L592.2 654.8 L593.2 656.9 L594.1 659 L595 661.2 L596 663.3 L596.9 665.5 L597.8 667.6 L598.7 669.8 L599.7 671.9 L600.6 674.1 L601.5 676.3 L602.5 678.5 L603.4 680.7 L604.3 682.9 L605.3 685.1 L606.2 687.4 L607.1 689.6 L608.1 691.8 L609 694.1 L609.9 696.3 L610.8 698.6 L611.8 700.9 L612.7 703.1 L613.6 705.4 L614.6 707.7 L615.5 710 L616.4 712.3 L617.4 714.6 L618.3 717 L619.2 719.3 L620.2 721.7 L621.1 724 L622 726.4 L622.9 728.7 L623.9 731.1 L624.8 733.5 L625.7 735.9 L626.7 738.3 L627.6 740.7 L628.5 743.1 L629.5 745.5 L630.4 748 L631.3 750.4 L632.3 752.8 L633.2 755.3 L634.1 757.8 L635 760.2 L636 762.7 L636.9 765.2 L637.8 767.7 L638.8 770.2 L639.7 772.7 L640.6 775.3 L641.6 777.8 L642.5 780.3 L643.4 782.9 L644.4 785.4 L645.3 788 L646.2 790.6 L647.1 793.2 L648.1 795.8 L649 798.4 L649.9 801 L650.9 803.6 L651.8 806.2 L652.7 808.9 L653.7 811.5 L654.6 814.2 L655.5 816.8 L656.5 819.5 L657.4 822.2 L658.3 824.9 L659.2 827.5 L660.2 830.3 L661.1 833 L662 835.7 L663 838.4 L663.9 841.2 L664.8 843.9 L665.8 846.7 L666.7 849.4 L667.6 852.2 L668.6 855 L669.5 857.8 L670.4 860.6 L671.3 863.4 L672.3 866.3 L673.2 869.1 L674.1 871.9 L675.1 874.8 L676 877.6 L676.9 880.5 L677.9 883.4 L678.8 886.3 L679.7 889.2 L680.7 892.1 L681.6 895 L682.5 897.9 L683.5 900.9 L684.4 903.8 L685.3 906.8 L686.2 909.7 L687.2 912.7 L688.1 915.7 L689 918.7 L690 921.7 L690.9 924.7 L691.8 927.7 L692.8 930.7 L693.7 933.8 L694.6 936.8 L695.6 939.9 L696.5 942.9 L697.4 946 L698.3 949.1 L699.3 952.2 L700.2 955.3 L701.1 958.4 L702.1 961.6 L703 964.7 L703.9 967.9 L704.9 971 L705.8 974.2 L706.7 977.4 L707.7 980.6 L708.6 983.8 L709.5 987 L710.4 990.2 L711.4 993.4 L712.3 996.7 L713.2 999.9 L714.2 1003.2 L715.1 1006.4 L716 1009.7 L717 1013 L717.9 1016.3 L718.8 1019.6 L719.8 1022.9 L720.7 1026.3 L721.6 1029.6 L722.5 1033 L723.5 1036.3 L724.4 1039.7 L725.3 1043.1 L726.3 1046.5 L727.2 1049.9 L728.1 1053.3 L729.1 1056.7 L730 1060.2 L730.9 1063.6 L731.9 1067.1 L732.8 1070.6 L733.7 1074 L734.6 1077.5 L735.6 1081 L736.5 1084.6 L737.4 1088.1 L738.4 1091.6 L739.3 1095.2 L740.2 1098.7 L741.2 1102.3 L742.1 1105.9 L743 1109.5 L744 1113.1 L744.9 1116.7 L745.8 1120.3 L746.7 1124 L747.7 1127.6 L748.6 1131.3 L749.5 1134.9 L750.5 1138.6 L751.4 1142.3 L752.3 1146 L753.3 1149.7 L754.2 1153.5 L755.1 1157.2 L756.1 1160.9 L757 1164.7 L757.9 1168.5 L758.8 1172.3 L759.8 1176.1 L760.7 1179.9 L761.6 1183.7 L762.6 1187.5 L763.5 1191.4 L764.4 1195.2 L765.4 1199.1 L766.3 1203 L767.2 1206.9 L768.2 1210.8 L769.1 1214.7 L770 1218.6 L770.9 1222.6 L771.9 1226.5 L772.8 1230.5 L773.7 1234.5 L774.7 1238.5 L775.6 1242.5 L776.5 1246.5 L777.5 1250.5 L778.4 1254.6 L779.3 1258.6 L780.3 1262.7 L781.2 1266.8 L782.1 1270.8 L783 1274.9 L784 1279.1 L784.9 1283.2 L785.8 1287.3 L786.8 1291.5 L787.7 1295.7 L788.6 1299.8 L789.6 1304 L790.5 1308.2 L791.4 1312.4 L792.4 1316.7 L793.3 1320.9 L794.2 1325.2 L795.1 1329.5 L796.1 1333.7 L797 1338 L797.9 1342.3 L798.9 1346.7 L799.8 1351 L800.7 1355.4 L801.7 1359.7 L802.6 1364.1 L803.5 1368.5 L804.5 1372.9 L805.4 1377.3 L806.3 1381.7 L807.2 1386.2 L808.2 1390.6 L809.1 1395.1 L810 1399.6 L811 1404.1 L811.9 1408.6 L812.8 1413.1 L813.8 1417.7 L814.7 1422.2 L815.6 1426.8 L816.6 1431.4 L817.5 1436 L818.4 1440.6 L819.3 1445.2 L820.3 1449.9 L821.2 1454.5 L822.1 1459.2 L823.1 1463.9 L824 1468.6 L824.9 1473.3 L825.9 1478 L826.8 1482.7 L827.7 1487.5 L828.7 1492.3 L829.6 1497 L830.5 1501.8 L831.4 1506.7 L832.4 1511.5 L833.3 1516.3 L834.2 1521.2 L835.2 1526.1 L836.1 1530.9 L837 1535.8 L838 1540.8 L838.9 1545.7 L839.8 1550.6 L840.8 1555.6 L841.7 1560.6 L842.6 1565.6 L843.6 1570.6 L844.5 1575.6 L845.4 1580.7 L846.3 1585.7 L847.3 1590.8 L848.2 1595.9 L849.1 1601 L850.1 1606.1 L851 1611.2 L851.9 1616.4 L852.9 1621.6 L853.8 1626.7 L854.7 1631.9 L855.7 1637.1 L856.6 1642.4 L857.5 1647.6 L858.4 1652.9 L859.4 1658.2 L860.3 1663.5 L861.2 1668.8 L862.2 1674.1 L863.1 1679.4 L864 1684.8 L865 1690.2 L865.9 1695.6 L866.8 1701 L867.8 1706.4 L868.7 1711.9 L869.6 1717.3 L870.5 1722.8 L871.5 1728.3 L872.4 1733.8 L873.3 1739.3 L874.3 1744.9 L875.2 1750.5 L876.1 1756 L877.1 1761.6 L878 1767.3 L878.9 1772.9 L879.9 1778.5 L880.8 1784.2 L881.7 1789.9 L882.6 1795.6 L883.6 1801.3 L884.5 1807.1 L885.4 1812.8 L886.4 1818.6 L887.3 1824.4 L888.2 1830.2 L889.2 1836 L890.1 1841.9 L891 1847.7 L892 1853.6 L892.9 1859.5 L893.8 1865.4 L894.7 1871.4 L895.7 1877.3 L896.6 1883.3 L897.5 1889.3 L898.5 1895.3 L899.4 1901.3 L900.3 1907.4 L901.3 1913.5 L902.2 1919.6 L903.1 1925.7 L904.1 1931.8 L905 1937.9 L905.9 1944.1 L906.8 1950.3 L907.8 1956.5 L908.7 1962.7 L909.6 1969 L910.6 1975.2 L911.5 1981.5 L912.4 1987.8 L913.4 1994.1 L914.3 2000.5 L915.2 2006.8 L916.2 2013.2 L917.1 2019.6 L918 2026 L918.9 2032.5 L919.9 2038.9 L920.8 2045.4 L921.7 2051.9 L922.7 2058.4 L923.6 2065 L924.5 2071.5 L925.5 2078.1 L926.4 2084.7 L927.3 2091.4 L928.3 2098 L929.2 2104.7 L930.1 2111.4 L931 2118.1 L932 2124.8 L932.9 2131.6 L933.8 2138.3 L934.8 2145.1 L935.7 2151.9 L936.6 2158.8 L937.6 2165.6 L938.5 2172.5 L939.4 2179.4 L940.4 2186.4 L941.3 2193.3 L942.2 2200.3 L943.1 2207.3 L944.1 2214.3 L945 2221.3 L945.9 2228.4 L946.9 2235.5 L947.8 2242.6 L948.7 2249.7 L949.7 2256.8 L950.6 2264 L951.5 2271.2 L952.5 2278.4 L953.4 2285.7 L954.3 2292.9 L955.2 2300.2 L956.2 2307.5 L957.1 2314.9 L958 2322.2 L959 2329.6 L959.9 2337 L960.8 2344.5 L961.8 2351.9 L962.7 2359.4 L963.6 2366.9 L964.6 2374.4 L965.5 2382 L966.4 2389.5 L967.3 2397.1 L968.3 2404.8 L969.2 2412.4 L970.1 2420.1 L971.1 2427.8 L972 2435.5 L972.9 2443.2 L973.9 2451 L974.8 2458.8 L975.7 2466.6 L976.7 2474.5 L977.6 2482.3 L978.5 2490.2 L979.4 2498.2 L980.4 2500 L981.3 2500 L982.2 2500 L983.2 2500 L984.1 2500 L985 2500 L986 2500 L986.9 2500 L987.8 2500 L988.8 2500 L989.7 2500 L990.6 2500 L991.5 2500 L992.5 2500 L993.4 2500 L994.3 2500 L995.3 2500 L996.2 2500 L997.1 2500 L998.1 2500 L999 2500 L999.9 2500 L1000.9 2500 L1001.8 2500 L1002.7 2500 L1003.7 2500" stroke="#7E2F8E" stroke-width="9.5" stroke-dasharray="10 9.8"/>
<path d="M259 549.7 L260.4 549.7 L261.8 549.7 L263.2 549.7 L264.6 549.7 L266 549.7 L267.4 549.7 L268.8 549.7 L270.2 549.7 L271.6 549.7 L273 549.7 L274.4 549.7 L275.8 549.7 L277.2 549.7 L278.5 549.7 L279.9 549.8 L281.3 549.8 L282.7 549.8 L284.1 549.8 L285.5 549.8 L286.9 549.8 L288.3 549.8 L289.7 549.8 L291.1 549.8 L292.5 549.8 L293.9 549.9 L295.3 549.9 L296.7 549.9 L298.1 549.9 L299.5 549.9 L300.9 549.9 L302.3 549.9 L303.7 550 L305.1 550 L306.5 550 L307.9 550 L309.3 550 L310.7 550 L312.1 550.1 L313.5 550.1 L314.8 550.1 L316.2 550.1 L317.6 550.1 L319 550.2 L320.4 550.2 L321.8 550.2 L323.2 550.2 L324.6 550.2 L326 550.3 L327.4 550.3 L328.8 550.3 L330.2 550.3 L331.6 550.4 L333 550.4 L334.4 550.4 L335.8 550.4 L337.2 550.5 L338.6 550.5 L340 550.5 L341.4 550.6 L342.8 550.6 L344.2 550.6 L345.6 550.7 L347 550.7 L348.4 550.7 L349.8 550.7 L351.2 550.8 L352.5 550.8 L353.9 550.8 L355.3 550.9 L356.7 550.9 L358.1 551 L359.5 551 L360.9 551 L362.3 551.1 L363.7 551.1 L365.1 551.1 L366.5 551.2 L367.9 551.2 L369.3 551.3 L370.7 551.3 L372.1 551.3 L373.5 551.4 L374.9 551.4 L376.3 551.5 L377.7 551.5 L379.1 551.6 L380.5 551.6 L381.9 551.6 L383.3 551.7 L384.7 551.7 L386.1 551.8 L387.5 551.8 L388.8 551.9 L390.2 551.9 L391.6 552 L393 552 L394.4 552.1 L395.8 552.1 L397.2 552.2 L398.6 552.2 L400 552.3 L401.4 552.3 L402.8 552.4 L404.2 552.4 L405.6 552.5 L407 552.5 L408.4 552.6 L409.8 552.6 L411.2 552.7 L412.6 552.8 L414 552.8 L415.4 552.9 L416.8 552.9 L418.2 553 L419.6 553.1 L421 553.1 L422.4 553.2 L423.8 553.2 L425.2 553.3 L426.5 553.4 L427.9 553.4 L429.3 553.5 L430.7 553.6 L432.1 553.6 L433.5 553.7 L434.9 553.8 L436.3 553.8 L437.7 553.9 L439.1 554 L440.5 554 L441.9 554.1 L443.3 554.2 L444.7 554.2 L446.1 554.3 L447.5 554.4 L448.9 554.5 L450.3 554.5 L451.7 554.6 L453.1 554.7 L454.5 554.8 L455.9 554.8 L457.3 554.9 L458.7 555 L460.1 555.1 L461.5 555.1 L462.8 555.2 L464.2 555.3 L465.6 555.4 L467 555.5 L468.4 555.5 L469.8 555.6 L471.2 555.7 L472.6 555.8 L474 555.9 L475.4 556 L476.8 556 L478.2 556.1 L479.6 556.2 L481 556.3 L482.4 556.4 L483.8 556.5 L485.2 556.6 L486.6 556.7 L488 556.8 L489.4 556.9 L490.8 556.9 L492.2 557 L493.6 557.1 L495 557.2 L496.4 557.3 L497.8 557.4 L499.1 557.5 L500.5 557.6 L501.9 557.7 L503.3 557.8 L504.7 557.9 L506.1 558 L507.5 558.1 L508.9 558.2 L510.3 558.3 L511.7 558.4 L513.1 558.5 L514.5 558.6 L515.9 558.7 L517.3 558.8 L518.7 558.9 L520.1 559.1 L521.5 559.2 L522.9 559.3 L524.3 559.4 L525.7 559.5 L527.1 559.6 L528.5 559.7 L529.9 559.8 L531.3 559.9 L532.7 560.1 L534.1 560.2 L535.5 560.3 L536.8 560.4 L538.2 560.5 L539.6 560.7 L541 560.8 L542.4 560.9 L543.8 561 L545.2 561.1 L546.6 561.3 L548 561.4 L549.4 561.5 L550.8 561.6 L552.2 561.8 L553.6 561.9 L555 562 L556.4 562.1 L557.8 562.3 L559.2 562.4 L560.6 562.5 L562 562.7 L563.4 562.8 L564.8 562.9 L566.2 563.1 L567.6 563.2 L569 563.3 L570.4 563.5 L571.8 563.6 L573.1 563.8 L574.5 563.9 L575.9 564 L577.3 564.2 L578.7 564.3 L580.1 564.5 L581.5 564.6 L582.9 564.8 L584.3 564.9 L585.7 565.1 L587.1 565.2 L588.5 565.4 L589.9 565.5 L591.3 565.7 L592.7 565.8 L594.1 566 L595.5 566.1 L596.9 566.3 L598.3 566.4 L599.7 566.6 L601.1 566.8 L602.5 566.9 L603.9 567.1 L605.3 567.2 L606.7 567.4 L608.1 567.6 L609.5 567.7 L610.8 567.9 L612.2 568.1 L613.6 568.2 L615 568.4 L616.4 568.6 L617.8 568.7 L619.2 568.9 L620.6 569.1 L622 569.3 L623.4 569.4 L624.8 569.6 L626.2 569.8 L627.6 570 L629 570.1 L630.4 570.3 L631.8 570.5 L633.2 570.7 L634.6 570.9 L636 571.1 L637.4 571.2 L638.8 571.4 L640.2 571.6 L641.6 571.8 L643 572 L644.4 572.2 L645.8 572.4 L647.1 572.6 L648.5 572.8 L649.9 573 L651.3 573.2 L652.7 573.4 L654.1 573.6 L655.5 573.8 L656.9 574 L658.3 574.2 L659.7 574.4 L661.1 574.6 L662.5 574.8 L663.9 575 L665.3 575.2 L666.7 575.4 L668.1 575.6 L669.5 575.9 L670.9 576.1 L672.3 576.3 L673.7 576.5 L675.1 576.7 L676.5 577 L677.9 577.2 L679.3 577.4 L680.7 577.6 L682.1 577.8 L683.5 578.1 L684.8 578.3 L686.2 578.5 L687.6 578.8 L689 579 L690.4 579.2 L691.8 579.5 L693.2 579.7 L694.6 579.9 L696 580.2 L697.4 580.4 L698.8 580.7 L700.2 580.9 L701.6 581.1 L703 581.4 L704.4 581.6 L705.8 581.9 L707.2 582.1 L708.6 582.4 L710 582.7 L711.4 582.9 L712.8 583.2 L714.2 583.4 L715.6 583.7 L717 583.9 L718.4 584.2 L719.8 584.5 L721.1 584.7 L722.5 585 L723.9 585.3 L725.3 585.5 L726.7 585.8 L728.1 586.1 L729.5 586.4 L730.9 586.6 L732.3 586.9 L733.7 587.2 L735.1 587.5 L736.5 587.8 L737.9 588.1 L739.3 588.3 L740.7 588.6 L742.1 588.9 L743.5 589.2 L744.9 589.5 L746.3 589.8 L747.7 590.1 L749.1 590.4 L750.5 590.7 L751.9 591 L753.3 591.3 L754.7 591.6 L756.1 591.9 L757.5 592.2 L758.8 592.5 L760.2 592.8 L761.6 593.2 L763 593.5 L764.4 593.8 L765.8 594.1 L767.2 594.4 L768.6 594.8 L770 595.1 L771.4 595.4 L772.8 595.7 L774.2 596.1 L775.6 596.4 L777 596.7 L778.4 597.1 L779.8 597.4 L781.2 597.8 L782.6 598.1 L784 598.5 L785.4 598.8 L786.8 599.2 L788.2 599.5 L789.6 599.9 L791 600.2 L792.4 600.6 L793.8 600.9 L795.1 601.3 L796.5 601.7 L797.9 602 L799.3 602.4 L800.7 602.8 L802.1 603.1 L803.5 603.5 L804.9 603.9 L806.3 604.3 L807.7 604.6 L809.1 605 L810.5 605.4 L811.9 605.8 L813.3 606.2 L814.7 606.6 L816.1 607 L817.5 607.4 L818.9 607.8 L820.3 608.2 L821.7 608.6 L823.1 609 L824.5 609.4 L825.9 609.8 L827.3 610.2 L828.7 610.6 L830.1 611 L831.4 611.5 L832.8 611.9 L834.2 612.3 L835.6 612.7 L837 613.2 L838.4 613.6 L839.8 614 L841.2 614.5 L842.6 614.9 L844 615.4 L845.4 615.8 L846.8 616.3 L848.2 616.7 L849.6 617.2 L851 617.6 L852.4 618.1 L853.8 618.5 L855.2 619 L856.6 619.5 L858 619.9 L859.4 620.4 L860.8 620.9 L862.2 621.4 L863.6 621.8 L865 622.3 L866.4 622.8 L867.8 623.3 L869.1 623.8 L870.5 624.3 L871.9 624.8 L873.3 625.3 L874.7 625.8 L876.1 626.3 L877.5 626.8 L878.9 627.3 L880.3 627.8 L881.7 628.3 L883.1 628.9 L884.5 629.4 L885.9 629.9 L887.3 630.4 L888.7 631 L890.1 631.5 L891.5 632 L892.9 632.6 L894.3 633.1 L895.7 633.7 L897.1 634.2 L898.5 634.8 L899.9 635.3 L901.3 635.9 L902.7 636.5 L904.1 637 L905.4 637.6 L906.8 638.2 L908.2 638.8 L909.6 639.3 L911 639.9 L912.4 640.5 L913.8 641.1 L915.2 641.7 L916.6 642.3 L918 642.9 L919.4 643.5 L920.8 644.1 L922.2 644.7 L923.6 645.3 L925 646 L926.4 646.6 L927.8 647.2 L929.2 647.9 L930.6 648.5 L932 649.1 L933.4 649.8 L934.8 650.4 L936.2 651.1 L937.6 651.7 L939 652.4 L940.4 653 L941.8 653.7 L943.1 654.4 L944.5 655 L945.9 655.7 L947.3 656.4 L948.7 657.1 L950.1 657.8 L951.5 658.5 L952.9 659.2 L954.3 659.9 L955.7 660.6 L957.1 661.3 L958.5 662 L959.9 662.7 L961.3 663.5 L962.7 664.2 L964.1 664.9 L965.5 665.6 L966.9 666.4 L968.3 667.1 L969.7 667.9 L971.1 668.6 L972.5 669.4 L973.9 670.2 L975.3 670.9 L976.7 671.7 L978.1 672.5 L979.4 673.3 L980.8 674 L982.2 674.8 L983.6 675.6 L985 676.4 L986.4 677.2 L987.8 678.1 L989.2 678.9 L990.6 679.7 L992 680.5 L993.4 681.3 L994.8 682.2 L996.2 683 L997.6 683.9 L999 684.7 L1000.4 685.6 L1001.8 686.4 L1003.2 687.3 L1004.6 688.2 L1006 689 L1007.4 689.9 L1008.8 690.8 L1010.2 691.7 L1011.6 692.6 L1013 693.5 L1014.4 694.4 L1015.8 695.3 L1017.1 696.2 L1018.5 697.2 L1019.9 698.1 L1021.3 699 L1022.7 700 L1024.1 700.9 L1025.5 701.9 L1026.9 702.8 L1028.3 703.8 L1029.7 704.8 L1031.1 705.8 L1032.5 706.7 L1033.9 707.7 L1035.3 708.7 L1036.7 709.7 L1038.1 710.7 L1039.5 711.8 L1040.9 712.8 L1042.3 713.8 L1043.7 714.8 L1045.1 715.9 L1046.5 716.9 L1047.9 718 L1049.3 719 L1050.7 720.1 L1052.1 721.2 L1053.4 722.3 L1054.8 723.3 L1056.2 724.4 L1057.6 725.5 L1059 726.6 L1060.4 727.8 L1061.8 728.9 L1063.2 730 L1064.6 731.1 L1066 732.3 L1067.4 733.4 L1068.8 734.6 L1070.2 735.7 L1071.6 736.9 L1073 738.1 L1074.4 739.3 L1075.8 740.5 L1077.2 741.7 L1078.6 742.9 L1080 744.1 L1081.4 745.3 L1082.8 746.5 L1084.2 747.8 L1085.6 749 L1087 750.3 L1088.4 751.5 L1089.8 752.8 L1091.1 754.1 L1092.5 755.4 L1093.9 756.7 L1095.3 758 L1096.7 759.3 L1098.1 760.6 L1099.5 761.9 L1100.9 763.3 L1102.3 764.6 L1103.7 766 L1105.1 767.3 L1106.5 768.7 L1107.9 770.1 L1109.3 771.5 L1110.7 772.9 L1112.1 774.3 L1113.5 775.7 L1114.9 777.1 L1116.3 778.6 L1117.7 780 L1119.1 781.4 L1120.5 782.9 L1121.9 784.4 L1123.3 785.9 L1124.7 787.4 L1126.1 788.9 L1127.4 790.4 L1128.8 791.9 L1130.2 793.4 L1131.6 795 L1133 796.5 L1134.4 798.1 L1135.8 799.6 L1137.2 801.2 L1138.6 802.8 L1140 804.4 L1141.4 806 L1142.8 807.6 L1144.2 809.3 L1145.6 810.9 L1147 812.6 L1148.4 814.2 L1149.8 815.9 L1151.2 817.6 L1152.6 819.3 L1154 821 L1155.4 822.7 L1156.8 824.5 L1158.2 826.2 L1159.6 828 L1161 829.7 L1162.4 831.5 L1163.7 833.3 L1165.1 835.1 L1166.5 836.9 L1167.9 838.7 L1169.3 840.6 L1170.7 842.4 L1172.1 844.3 L1173.5 846.2 L1174.9 848.1 L1176.3 850 L1177.7 851.9 L1179.1 853.8 L1180.5 855.8 L1181.9 857.7 L1183.3 859.7 L1184.7 861.7 L1186.1 863.6 L1187.5 865.7 L1188.9 867.7 L1190.3 869.7 L1191.7 871.8 L1193.1 873.8 L1194.5 875.9 L1195.9 878 L1197.3 880.1 L1198.7 882.2 L1200.1 884.4 L1201.4 886.5 L1202.8 888.7 L1204.2 890.9 L1205.6 893 L1207 895.3 L1208.4 897.5 L1209.8 899.7 L1211.2 902 L1212.6 904.3 L1214 906.5 L1215.4 908.8 L1216.8 911.2 L1218.2 913.5 L1219.6 915.9 L1221 918.2 L1222.4 920.6 L1223.8 923 L1225.2 925.4 L1226.6 927.9 L1228 930.3 L1229.4 932.8 L1230.8 935.3 L1232.2 937.8 L1233.6 940.3 L1235 942.9 L1236.4 945.4 L1237.7 948 L1239.1 950.6 L1240.5 953.2 L1241.9 955.8 L1243.3 958.5 L1244.7 961.2 L1246.1 963.8 L1247.5 966.6 L1248.9 969.3 L1250.3 972 L1251.7 974.8 L1253.1 977.6 L1254.5 980.4 L1255.9 983.2 L1257.3 986.1 L1258.7 989 L1260.1 991.8 L1261.5 994.8 L1262.9 997.7 L1264.3 1000.7 L1265.7 1003.6 L1267.1 1006.6 L1268.5 1009.7 L1269.9 1012.7 L1271.3 1015.8 L1272.7 1018.8 L1274.1 1022 L1275.4 1025.1 L1276.8 1028.3 L1278.2 1031.4 L1279.6 1034.6 L1281 1037.9 L1282.4 1041.1 L1283.8 1044.4 L1285.2 1047.7 L1286.6 1051 L1288 1054.4 L1289.4 1057.8 L1290.8 1061.2 L1292.2 1064.6 L1293.6 1068 L1295 1071.5 L1296.4 1075 L1297.8 1078.6 L1299.2 1082.1 L1300.6 1085.7 L1302 1089.3 L1303.4 1093 L1304.8 1096.6 L1306.2 1100.3 L1307.6 1104 L1309 1107.8 L1310.4 1111.6 L1311.7 1115.4 L1313.1 1119.2 L1314.5 1123.1 L1315.9 1127 L1317.3 1130.9 L1318.7 1134.9 L1320.1 1138.9 L1321.5 1142.9 L1322.9 1147 L1324.3 1151.1 L1325.7 1155.2 L1327.1 1159.3 L1328.5 1163.5 L1329.9 1167.7 L1331.3 1172 L1332.7 1176.3 L1334.1 1180.6 L1335.5 1184.9 L1336.9 1189.3 L1338.3 1193.8 L1339.7 1198.2 L1341.1 1202.7 L1342.5 1207.2 L1343.9 1211.8 L1345.3 1216.4 L1346.7 1221 L1348.1 1225.7 L1349.4 1230.4 L1350.8 1235.2 L1352.2 1240 L1353.6 1244.8 L1355 1249.7 L1356.4 1254.6 L1357.8 1259.5 L1359.2 1264.5 L1360.6 1269.6 L1362 1274.6 L1363.4 1279.7 L1364.8 1284.9 L1366.2 1290.1 L1367.6 1295.3 L1369 1300.6 L1370.4 1305.9 L1371.8 1311.3 L1373.2 1316.7 L1374.6 1322.2 L1376 1327.7 L1377.4 1333.3 L1378.8 1338.9 L1380.2 1344.5 L1381.6 1350.2 L1383 1356 L1384.4 1361.8 L1385.7 1367.6 L1387.1 1373.5 L1388.5 1379.4 L1389.9 1385.4 L1391.3 1391.5 L1392.7 1397.6 L1394.1 1403.7 L1395.5 1409.9 L1396.9 1416.2 L1398.3 1422.5 L1399.7 1428.8 L1401.1 1435.3 L1402.5 1441.7 L1403.9 1448.3 L1405.3 1454.9 L1406.7 1461.5 L1408.1 1468.2 L1409.5 1475 L1410.9 1481.8 L1412.3 1488.7 L1413.7 1495.6 L1415.1 1502.6 L1416.5 1509.7 L1417.9 1516.8 L1419.3 1524 L1420.7 1531.3 L1422.1 1538.6 L1423.4 1546 L1424.8 1553.5 L1426.2 1561 L1427.6 1568.6 L1429 1576.3 L1430.4 1584 L1431.8 1591.8 L1433.2 1599.7 L1434.6 1607.6 L1436 1615.6 L1437.4 1623.7 L1438.8 1631.9 L1440.2 1640.2 L1441.6 1648.5 L1443 1656.9 L1444.4 1665.3 L1445.8 1673.9 L1447.2 1682.5 L1448.6 1691.3 L1450 1700.1 L1451.4 1708.9 L1452.8 1717.9 L1454.2 1726.9 L1455.6 1736.1 L1457 1745.3 L1458.4 1754.6 L1459.7 1764 L1461.1 1773.5 L1462.5 1783.1 L1463.9 1792.8 L1465.3 1802.5 L1466.7 1812.4 L1468.1 1822.3 L1469.5 1832.4 L1470.9 1842.6 L1472.3 1852.8 L1473.7 1863.2 L1475.1 1873.6 L1476.5 1884.2 L1477.9 1894.8 L1479.3 1905.6 L1480.7 1916.5 L1482.1 1927.5 L1483.5 1938.5 L1484.9 1949.8 L1486.3 1961.1 L1487.7 1972.5 L1489.1 1984 L1490.5 1995.7 L1491.9 2007.5 L1493.3 2019.4 L1494.7 2031.4 L1496 2043.6 L1497.4 2055.8 L1498.8 2068.2 L1500.2 2080.7 L1501.6 2093.4 L1503 2106.2 L1504.4 2119.1 L1505.8 2132.2 L1507.2 2145.4 L1508.6 2158.7 L1510 2172.2 L1511.4 2185.8 L1512.8 2199.5 L1514.2 2213.4 L1515.6 2227.5 L1517 2241.7 L1518.4 2256 L1519.8 2270.5 L1521.2 2285.2 L1522.6 2300 L1524 2315 L1525.4 2330.2 L1526.8 2345.5 L1528.2 2360.9 L1529.6 2376.6 L1531 2392.4 L1532.4 2408.4 L1533.7 2424.6 L1535.1 2440.9 L1536.5 2457.5 L1537.9 2474.2 L1539.3 2491.1 L1540.7 2500 L1542.1 2500 L1543.5 2500 L1544.9 2500 L1546.3 2500 L1547.7 2500 L1549.1 2500 L1550.5 2500 L1551.9 2500 L1553.3 2500 L1554.7 2500 L1556.1 2500 L1557.5 2500 L1558.9 2500 L1560.3 2500 L1561.7 2500 L1563.1 2500 L1564.5 2500 L1565.9 2500 L1567.3 2500 L1568.7 2500 L1570 2500 L1571.4 2500 L1572.8 2500 L1574.2 2500 L1575.6 2500 L1577 2500 L1578.4 2500 L1579.8 2500 L1581.2 2500 L1582.6 2500 L1584 2500 L1585.4 2500 L1586.8 2500 L1588.2 2500 L1589.6 2500 L1591 2500 L1592.4 2500 L1593.8 2500 L1595.2 2500 L1596.6 2500 L1598 2500 L1599.4 2500 L1600.8 2500 L1602.2 2500 L1603.6 2500 L1605 2500 L1606.4 2500 L1607.7 2500 L1609.1 2500 L1610.5 2500 L1611.9 2500 L1613.3 2500 L1614.7 2500 L1616.1 2500 L1617.5 2500 L1618.9 2500 L1620.3 2500 L1621.7 2500 L1623.1 2500 L1624.5 2500 L1625.9 2500 L1627.3 2500 L1628.7 2500 L1630.1 2500 L1631.5 2500 L1632.9 2500 L1634.3 2500 L1635.7 2500 L1637.1 2500 L1638.5 2500 L1639.9 2500 L1641.3 2500 L1642.7 2500 L1644 2500 L1645.4 2500 L1646.8 2500 L1648.2 2500 L1649.6 2500 L1651 2500 L1652.4 2500 L1653.8 2500 L1655.2 2500" stroke="#7E2F8E" stroke-width="13" stroke-dasharray="10 9.8"/>
</g>
<path d="M259 1607v-15M259 119.8v15M631.3 1607v-15M631.3 119.8v15M1003.7 1607v-15M1003.7 119.8v15M1376 1607v-15M1376 119.8v15M1748.3 1607v-15M1748.3 119.8v15M259 119.8h15M1748.3 119.8h-15M259 367.7h15M1748.3 367.7h-15M259 615.5h15M1748.3 615.5h-15M259 863.4h15M1748.3 863.4h-15M259 1111.3h15M1748.3 1111.3h-15M259 1359.1h15M1748.3 1359.1h-15M259 1607h15M1748.3 1607h-15" stroke="#262626" stroke-width="3" fill="none"/>
<rect x="259" y="119.8" width="1489.3" height="1487.2" fill="none" stroke="#262626" stroke-width="3.5"/>
<g font-family="DejaVu Sans, sans-serif" font-size="65.7" fill="#262626">
<text x="232.4" y="142.6" text-anchor="end">20</text>
<text x="232.4" y="390.5" text-anchor="end">10</text>
<text x="232.4" y="638.3" text-anchor="end">0</text>
<text x="232.4" y="886.2" text-anchor="end">-10</text>
<text x="232.4" y="1134.1" text-anchor="end">-20</text>
<text x="232.4" y="1381.9" text-anchor="end">-30</text>
<text x="232.4" y="1629.8" text-anchor="end">-40</text>
<text x="259" y="1698.4" text-anchor="middle">0</text>
<text x="631.3" y="1698.4" text-anchor="middle">20</text>
<text x="1003.7" y="1698.4" text-anchor="middle">40</text>
<text x="1376" y="1698.4" text-anchor="middle">60</text>
<text x="1748.3" y="1698.4" text-anchor="middle">80</text>
</g>
<text x="326.9" y="80.5" font-family="Liberation Serif, DejaVu Serif, serif" font-size="76" fill="#000" textLength="1352.1" lengthAdjust="spacingAndGlyphs">Estimated Whitecap NRCS with <tspan font-style="italic">Q</tspan> &gt; 0.01</text>
<text x="622.3" y="1786" font-family="Liberation Serif, DejaVu Serif, serif" font-size="73" fill="#262626" textLength="761" lengthAdjust="spacingAndGlyphs">Incidence Angle, <tspan font-style="italic">θ</tspan> [deg]</text>
<text transform="translate(77.5 1075.6) rotate(-90)" font-family="Liberation Serif, DejaVu Serif, serif" font-size="73" fill="#262626" textLength="422.8" lengthAdjust="spacingAndGlyphs">NRCS <tspan font-style="italic">σ</tspan> [dB]</text>
<rect x="347" y="1165.4" width="1318" height="392.1999999999998" fill="#fff" stroke="#262626" stroke-width="2.5"/>
<path d="M382.5 1227H582" stroke="#0072BD" stroke-width="12.5"/>
<path d="M382.5 1301.4H582" stroke="#D95319" stroke-width="12.5"/>
<path d="M382.5 1375.6H574" stroke="#7E2F8E" stroke-width="5.5" stroke-dasharray="5 14.86"/>
<path d="M382.5 1449.8H574" stroke="#7E2F8E" stroke-width="9.5" stroke-dasharray="10 9.8"/>
<path d="M382.5 1524H574" stroke="#7E2F8E" stroke-width="13" stroke-dasharray="10 9.8"/>
<g fill="#FF0000" stroke="#000" stroke-width="4.5"><path d="M1160 1202L1183 1240L1137 1240Z"/><path d="M1160 1328.4L1183 1290.4L1137 1290.4Z"/></g>
<g fill="none" stroke="#A2142F" stroke-width="4"><circle cx="1160" cy="1377.6" r="20"/><path d="M1160 1425.8L1183 1463.8L1137 1463.8Z"/><path d="M1160 1552L1183 1514L1137 1514Z"/></g>
<g font-family="Liberation Serif, DejaVu Serif, serif" font-size="60" fill="#000">
<text x="601" y="1232.8" textLength="330.6" lengthAdjust="spacingAndGlyphs">Kudr’03, Up</text>
<text x="601" y="1307.2" textLength="400.0" lengthAdjust="spacingAndGlyphs">Kudr’03, Down</text>
<text x="601" y="1381.1" textLength="412.7" lengthAdjust="spacingAndGlyphs">GO, mss=0.003</text>
<text x="601" y="1454.3" textLength="383.9" lengthAdjust="spacingAndGlyphs">GO, mss=0.03</text>
<text x="601" y="1529.4" textLength="353.1" lengthAdjust="spacingAndGlyphs">GO, mss=0.3</text>
<text x="1279.6" y="1232.8" textLength="297.9" lengthAdjust="spacingAndGlyphs">Eric’99, Up</text>
<text x="1279.6" y="1307.2" textLength="368.0" lengthAdjust="spacingAndGlyphs">Eric’99, Down</text>
<text x="1279.6" y="1381.1" textLength="224.8" lengthAdjust="spacingAndGlyphs">All Data</text>
<text x="1279.6" y="1454.3" textLength="242.4" lengthAdjust="spacingAndGlyphs">Data, Up</text>
<text x="1279.6" y="1529.4" textLength="313.8" lengthAdjust="spacingAndGlyphs">Data, Down</text>
</g>
</svg></body></html>
